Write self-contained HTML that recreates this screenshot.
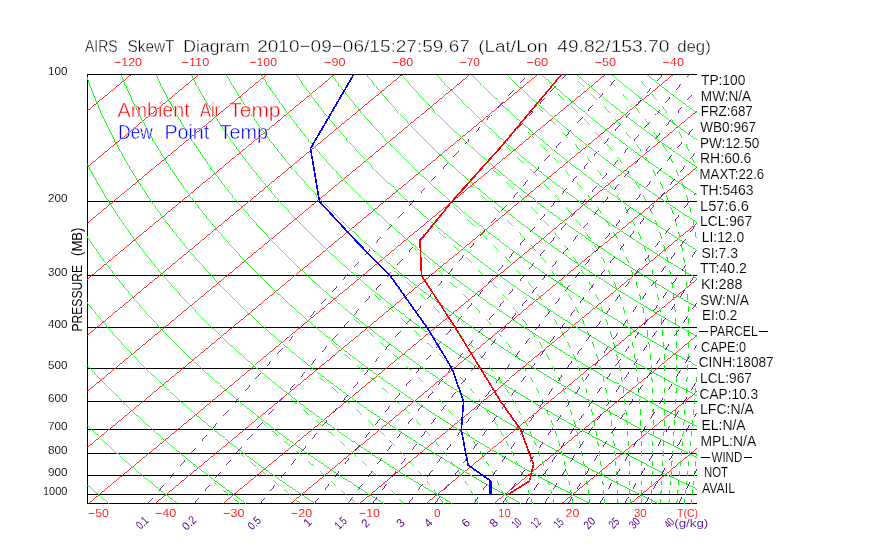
<!DOCTYPE html><html><head><meta charset="utf-8"><style>html,body{margin:0;padding:0;background:#fff;overflow:hidden}svg{display:block;will-change:transform}</style></head><body><svg width="870" height="560" viewBox="0 0 870 560"><defs><clipPath id="c"><rect x="87" y="74" width="610" height="430"/></clipPath></defs><g fill="none" stroke-width="1" shape-rendering="crispEdges"><g stroke="#000"><line x1="87" y1="74.5" x2="697" y2="74.5"/><line x1="87" y1="201.5" x2="697" y2="201.5"/><line x1="87" y1="275.5" x2="697" y2="275.5"/><line x1="87" y1="327.5" x2="697" y2="327.5"/><line x1="87" y1="368.5" x2="697" y2="368.5"/><line x1="87" y1="401.5" x2="697" y2="401.5"/><line x1="87" y1="429.5" x2="697" y2="429.5"/><line x1="87" y1="453.5" x2="697" y2="453.5"/><line x1="87" y1="475.5" x2="697" y2="475.5"/><line x1="87" y1="494.5" x2="697" y2="494.5"/><line x1="87" y1="503.5" x2="697" y2="503.5"/><line x1="87.5" y1="74" x2="87.5" y2="504"/></g><g clip-path="url(#c)"><g stroke="#ff0000"><line stroke-width="0.8" x1="-454.5" y1="503.5" x2="63.52" y2="74.5"/><line stroke-width="0.8" x1="-386.75" y1="503.5" x2="131.27" y2="74.5"/><line stroke-width="0.8" x1="-319" y1="503.5" x2="199.02" y2="74.5"/><line stroke-width="0.8" x1="-251.25" y1="503.5" x2="266.77" y2="74.5"/><line stroke-width="0.8" x1="-183.5" y1="503.5" x2="334.52" y2="74.5"/><line stroke-width="0.8" x1="-115.75" y1="503.5" x2="402.27" y2="74.5"/><line stroke-width="0.8" x1="-48" y1="503.5" x2="470.02" y2="74.5"/><line stroke-width="0.8" x1="19.75" y1="503.5" x2="537.77" y2="74.5"/><line stroke-width="0.8" x1="87.5" y1="503.5" x2="605.52" y2="74.5"/><line stroke-width="0.8" x1="155.25" y1="503.5" x2="673.27" y2="74.5"/><line stroke-width="0.8" x1="223" y1="503.5" x2="741.02" y2="74.5"/><line stroke-width="0.8" x1="290.75" y1="503.5" x2="808.77" y2="74.5"/><line stroke-width="0.8" x1="358.5" y1="503.5" x2="876.52" y2="74.5"/><line stroke-width="0.8" x1="426.25" y1="503.5" x2="944.27" y2="74.5"/><line stroke-width="0.8" x1="494" y1="503.5" x2="1012.02" y2="74.5"/><line stroke-width="0.8" x1="561.75" y1="503.5" x2="1079.77" y2="74.5"/><line stroke-width="0.8" x1="629.5" y1="503.5" x2="1147.52" y2="74.5"/><line stroke-width="0.8" x1="697.25" y1="503.5" x2="1215.27" y2="74.5"/></g><g stroke="#00ff00"><polyline stroke-width="0.78" points="108.76,503.48 106.19,501.33 103.64,499.18 101.1,497.02 98.58,494.87 96.08,492.71 93.6,490.56 91.13,488.41 88.68,486.25 86.24,484.1 83.83,481.95 81.43,479.79 79.05,477.64 76.68,475.48 74.33,473.33 72,471.18 69.68,469.02 67.38,466.87 65.1,464.72"/><polyline stroke-width="0.73" points="65.1,464.72 62.83,462.56 60.58,460.41 58.35,458.25 56.13,456.1 53.93,453.95 51.75,451.79 49.58,449.64 47.43,447.49 45.29,445.33 43.17,443.18 41.07,441.02 38.98,438.87 36.9,436.72 34.85,434.56"/><polyline stroke-width="0.78" points="34.85,434.56 32.81,432.41 30.78,430.26 28.77,428.1 26.78,425.95 24.8,423.79 22.83,421.64 20.89,419.49 18.95,417.33 17.04,415.18 15.13,413.03 13.25,410.87 11.37,408.72 9.52,406.56 7.68,404.41 5.85,402.26 4.04,400.1 2.24,397.95 0.46,395.8 -1.31,393.64"/><polyline stroke-width="0.83" points="-1.31,393.64 -3.06,391.49 -4.8,389.33 -6.52,387.18 -8.23,385.03 -9.93,382.87 -11.61,380.72 -13.27,378.57 -14.92,376.41 -16.56,374.26 -18.18,372.1 -19.79,369.95 -21.38,367.8 -22.96,365.64 -24.53,363.49 -26.08,361.34 -27.62,359.18 -29.14,357.03 -30.65,354.87 -32.15,352.72 -33.63,350.57"/><polyline stroke-width="0.88" points="-33.63,350.57 -35.1,348.41 -36.55,346.26 -37.99,344.11 -39.42,341.95 -40.83,339.8 -42.23,337.64 -43.62,335.49 -44.99,333.34 -46.35,331.18 -47.7,329.03 -49.03,326.88 -50.35,324.72 -51.66,322.57 -52.95,320.41 -54.23,318.26 -55.5,316.11 -56.75,313.95 -57.99,311.8 -59.22,309.64 -60.43,307.49 -61.64,305.34"/><polyline stroke-width="0.93" points="-61.64,305.34 -62.83,303.18 -64,301.03 -65.17,298.88 -66.32,296.72 -67.46,294.57 -68.58,292.41 -69.69,290.26 -70.8,288.11 -71.88,285.95 -72.96,283.8 -74.02,281.65 -75.07,279.49 -76.11,277.34 -77.14,275.18 -78.15,273.03 -79.16,270.88 -80.15,268.72 -81.12,266.57 -82.09,264.42 -83.04,262.26 -83.98,260.11 -84.91,257.95 -85.83,255.8 -86.74,253.65 -87.63,251.49"/><polyline stroke-width="0.98" points="-87.63,251.49 -88.51,249.34 -89.39,247.19 -90.24,245.03 -91.09,242.88 -91.93,240.72 -92.75,238.57 -93.56,236.42 -94.36,234.26 -95.15,232.11 -95.93,229.96 -96.7,227.8 -97.45,225.65 -98.2,223.49 -98.93,221.34 -99.65,219.19 -100.36,217.03 -101.06,214.88 -101.75,212.73 -102.43,210.57 -103.09,208.42 -103.75,206.26 -104.39,204.11 -105.02,201.96 -105.64,199.8 -106.26,197.65 -106.86,195.5 -107.44,193.34 -108.02,191.19 -108.59,189.03 -109.15,186.88 -109.69,184.73 -110.23,182.57 -110.76,180.42 -111.27,178.27 -111.78,176.11 -112.27,173.96"/><polyline stroke-width="1.03" points="-112.27,173.96 -112.75,171.8 -113.23,169.65 -113.69,167.5 -114.14,165.34 -114.58,163.19 -115.01,161.04 -115.44,158.88 -115.85,156.73 -116.25,154.57 -116.64,152.42 -117.02,150.27 -117.39,148.11 -117.75,145.96 -118.1,143.81 -118.44,141.65 -118.77,139.5 -119.09,137.34 -119.41,135.19 -119.71,133.04 -120,130.88 -120.28,128.73 -120.55,126.58 -120.82,124.42 -121.07,122.27 -121.31,120.11 -121.54,117.96 -121.77,115.81 -121.98,113.65 -122.19,111.5 -122.38,109.35 -122.57,107.19 -122.75,105.04 -122.91,102.88 -123.07,100.73 -123.22,98.58 -123.36,96.42 -123.49,94.27 -123.61,92.12 -123.72,89.96 -123.82,87.81 -123.92,85.65 -124,83.5 -124.08,81.35 -124.14,79.19 -124.2,77.04 -124.25,74.88"/><polyline stroke-width="0.83" points="177.47,503.48 174.66,501.33 171.88,499.18 169.11,497.02 166.36,494.87 163.63,492.71 160.92,490.56 158.22,488.41 155.55,486.25 152.89,484.1 150.25,481.95"/><polyline stroke-width="0.78" points="150.25,481.95 147.62,479.79 145.02,477.64 142.43,475.48 139.86,473.33 137.3,471.18 134.77,469.02 132.25,466.87 129.75,464.72 127.26,462.56 124.8,460.41 122.35,458.25 119.91,456.1 117.5,453.95 115.1,451.79 112.72,449.64 110.35,447.49 108,445.33 105.67,443.18 103.35,441.02 101.06,438.87 98.77,436.72"/><polyline stroke-width="0.73" points="98.77,436.72 96.51,434.56 94.26,432.41 92.03,430.26 89.81,428.1 87.61,425.95 85.42,423.79 83.26,421.64 81.1,419.49 78.97,417.33 76.85,415.18 74.74,413.03 72.66,410.87 70.58,408.72 68.53,406.56"/><polyline stroke-width="0.78" points="68.53,406.56 66.49,404.41 64.46,402.26 62.45,400.1 60.46,397.95 58.48,395.8 56.52,393.64 54.57,391.49 52.64,389.33 50.72,387.18 48.82,385.03 46.93,382.87 45.06,380.72 43.2,378.57 41.36,376.41 39.53,374.26 37.72,372.1 35.93,369.95 34.14,367.8 32.38,365.64"/><polyline stroke-width="0.83" points="32.38,365.64 30.63,363.49 28.89,361.34 27.16,359.18 25.46,357.03 23.76,354.87 22.08,352.72 20.42,350.57 18.77,348.41 17.13,346.26 15.51,344.11 13.9,341.95 12.31,339.8 10.73,337.64 9.17,335.49 7.61,333.34 6.08,331.18 4.55,329.03 3.04,326.88 1.55,324.72 0.07,322.57"/><polyline stroke-width="0.88" points="0.07,322.57 -1.4,320.41 -2.85,318.26 -4.29,316.11 -5.72,313.95 -7.13,311.8 -8.53,309.64 -9.92,307.49 -11.29,305.34 -12.65,303.18 -14,301.03 -15.33,298.88 -16.65,296.72 -17.96,294.57 -19.25,292.41 -20.53,290.26 -21.79,288.11 -23.05,285.95 -24.29,283.8 -25.52,281.65 -26.73,279.49 -27.93,277.34"/><polyline stroke-width="0.93" points="-27.93,277.34 -29.12,275.18 -30.3,273.03 -31.46,270.88 -32.61,268.72 -33.75,266.57 -34.88,264.42 -35.99,262.26 -37.09,260.11 -38.18,257.95 -39.25,255.8 -40.32,253.65 -41.37,251.49 -42.41,249.34 -43.43,247.19 -44.45,245.03 -45.45,242.88 -46.44,240.72 -47.41,238.57 -48.38,236.42 -49.33,234.26 -50.27,232.11 -51.2,229.96 -52.12,227.8 -53.03,225.65 -53.92,223.49"/><polyline stroke-width="0.98" points="-53.92,223.49 -54.8,221.34 -55.67,219.19 -56.53,217.03 -57.38,214.88 -58.21,212.73 -59.04,210.57 -59.85,208.42 -60.65,206.26 -61.44,204.11 -62.22,201.96 -62.98,199.8 -63.74,197.65 -64.48,195.5 -65.21,193.34 -65.93,191.19 -66.64,189.03 -67.34,186.88 -68.03,184.73 -68.71,182.57 -69.37,180.42 -70.03,178.27 -70.67,176.11 -71.3,173.96 -71.92,171.8 -72.54,169.65 -73.14,167.5 -73.72,165.34 -74.3,163.19 -74.87,161.04 -75.43,158.88 -75.97,156.73 -76.51,154.57 -77.03,152.42 -77.55,150.27 -78.05,148.11 -78.55,145.96"/><polyline stroke-width="1.03" points="-78.55,145.96 -79.03,143.81 -79.5,141.65 -79.96,139.5 -80.42,137.34 -80.86,135.19 -81.29,133.04 -81.71,130.88 -82.12,128.73 -82.52,126.58 -82.91,124.42 -83.29,122.27 -83.66,120.11 -84.02,117.96 -84.38,115.81 -84.72,113.65 -85.05,111.5 -85.37,109.35 -85.68,107.19 -85.98,105.04 -86.27,102.88 -86.55,100.73 -86.82,98.58 -87.09,96.42 -87.34,94.27 -87.58,92.12 -87.81,89.96 -88.04,87.81 -88.25,85.65 -88.46,83.5 -88.65,81.35 -88.84,79.19 -89.01,77.04 -89.18,74.88"/><polyline stroke-width="0.83" points="246.17,503.48 243.13,501.33 240.12,499.18 237.12,497.02 234.14,494.87 231.18,492.71 228.24,490.56 225.32,488.41 222.42,486.25 219.53,484.1 216.67,481.95 213.82,479.79 210.99,477.64 208.18,475.48 205.39,473.33 202.61,471.18 199.85,469.02 197.12,466.87 194.4,464.72 191.69,462.56 189.01,460.41 186.34,458.25 183.69,456.1"/><polyline stroke-width="0.78" points="183.69,456.1 181.06,453.95 178.45,451.79 175.85,449.64 173.27,447.49 170.71,445.33 168.17,443.18 165.64,441.02 163.13,438.87 160.64,436.72 158.17,434.56 155.71,432.41 153.27,430.26 150.85,428.1 148.44,425.95 146.05,423.79 143.68,421.64 141.32,419.49 138.98,417.33 136.66,415.18 134.36,413.03 132.07,410.87 129.79,408.72"/><polyline stroke-width="0.73" points="129.79,408.72 127.54,406.56 125.3,404.41 123.07,402.26 120.87,400.1 118.68,397.95 116.5,395.8 114.34,393.64 112.2,391.49 110.07,389.33 107.96,387.18 105.87,385.03 103.79,382.87 101.72,380.72 99.68,378.57"/><polyline stroke-width="0.78" points="99.68,378.57 97.64,376.41 95.63,374.26 93.63,372.1 91.64,369.95 89.67,367.8 87.72,365.64 85.78,363.49 83.86,361.34 81.95,359.18 80.05,357.03 78.18,354.87 76.31,352.72 74.47,350.57 72.63,348.41 70.81,346.26 69.01,344.11 67.22,341.95 65.45,339.8 63.69,337.64"/><polyline stroke-width="0.83" points="63.69,337.64 61.95,335.49 60.22,333.34 58.5,331.18 56.8,329.03 55.12,326.88 53.45,324.72 51.79,322.57 50.15,320.41 48.52,318.26 46.91,316.11 45.31,313.95 43.72,311.8 42.15,309.64 40.59,307.49 39.05,305.34 37.52,303.18 36.01,301.03 34.51,298.88 33.02,296.72"/><polyline stroke-width="0.88" points="33.02,296.72 31.54,294.57 30.09,292.41 28.64,290.26 27.21,288.11 25.79,285.95 24.38,283.8 22.99,281.65 21.61,279.49 20.25,277.34 18.9,275.18 17.56,273.03 16.23,270.88 14.92,268.72 13.62,266.57 12.34,264.42 11.06,262.26 9.81,260.11 8.56,257.95 7.33,255.8 6.11,253.65 4.9,251.49 3.7,249.34"/><polyline stroke-width="0.93" points="3.7,249.34 2.52,247.19 1.35,245.03 0.2,242.88 -0.95,240.72 -2.08,238.57 -3.2,236.42 -4.3,234.26 -5.39,232.11 -6.48,229.96 -7.54,227.8 -8.6,225.65 -9.64,223.49 -10.68,221.34 -11.69,219.19 -12.7,217.03 -13.7,214.88 -14.68,212.73 -15.65,210.57 -16.61,208.42 -17.55,206.26 -18.49,204.11 -19.41,201.96 -20.32,199.8 -21.22,197.65 -22.11,195.5"/><polyline stroke-width="0.98" points="-22.11,195.5 -22.98,193.34 -23.85,191.19 -24.7,189.03 -25.54,186.88 -26.37,184.73 -27.18,182.57 -27.99,180.42 -28.78,178.27 -29.57,176.11 -30.34,173.96 -31.1,171.8 -31.85,169.65 -32.58,167.5 -33.31,165.34 -34.02,163.19 -34.73,161.04 -35.42,158.88 -36.1,156.73 -36.77,154.57 -37.43,152.42 -38.08,150.27 -38.71,148.11 -39.34,145.96 -39.96,143.81 -40.56,141.65 -41.15,139.5 -41.74,137.34 -42.31,135.19 -42.87,133.04 -43.42,130.88 -43.96,128.73 -44.49,126.58 -45.01,124.42 -45.52,122.27 -46.02,120.11"/><polyline stroke-width="1.03" points="-46.02,120.11 -46.5,117.96 -46.98,115.81 -47.45,113.65 -47.9,111.5 -48.35,109.35 -48.79,107.19 -49.21,105.04 -49.63,102.88 -50.03,100.73 -50.43,98.58 -50.81,96.42 -51.19,94.27 -51.55,92.12 -51.91,89.96 -52.25,87.81 -52.59,85.65 -52.91,83.5 -53.23,81.35 -53.53,79.19 -53.83,77.04 -54.11,74.88"/><polyline stroke-width="0.88" points="314.87,503.48 311.6,501.33 308.36,499.18 305.13,497.02 301.92,494.87 298.73,492.71 295.57,490.56 292.42,488.41"/><polyline stroke-width="0.83" points="292.42,488.41 289.29,486.25 286.18,484.1 283.09,481.95 280.01,479.79 276.96,477.64 273.93,475.48 270.91,473.33 267.92,471.18 264.94,469.02 261.98,466.87 259.04,464.72 256.12,462.56 253.22,460.41 250.34,458.25 247.47,456.1 244.63,453.95 241.8,451.79 238.99,449.64 236.2,447.49 233.42,445.33 230.67,443.18 227.93,441.02 225.21,438.87 222.51,436.72 219.83,434.56 217.16,432.41 214.52,430.26"/><polyline stroke-width="0.78" points="214.52,430.26 211.89,428.1 209.27,425.95 206.68,423.79 204.1,421.64 201.54,419.49 199,417.33 196.47,415.18 193.97,413.03 191.48,410.87 189,408.72 186.55,406.56 184.11,404.41 181.69,402.26 179.28,400.1 176.89,397.95 174.52,395.8 172.17,393.64 169.83,391.49 167.51,389.33 165.2,387.18 162.92,385.03 160.64,382.87"/><polyline stroke-width="0.73" points="160.64,382.87 158.39,380.72 156.15,378.57 153.93,376.41 151.72,374.26 149.53,372.1 147.36,369.95 145.2,367.8 143.06,365.64 140.93,363.49 138.82,361.34 136.73,359.18 134.65,357.03 132.59,354.87 130.54,352.72"/><polyline stroke-width="0.78" points="130.54,352.72 128.51,350.57 126.5,348.41 124.5,346.26 122.51,344.11 120.54,341.95 118.59,339.8 116.65,337.64 114.73,335.49 112.82,333.34 110.93,331.18 109.05,329.03 107.19,326.88 105.35,324.72 103.51,322.57 101.7,320.41 99.9,318.26 98.11,316.11 96.34,313.95 94.58,311.8"/><polyline stroke-width="0.83" points="94.58,311.8 92.84,309.64 91.11,307.49 89.4,305.34 87.7,303.18 86.01,301.03 84.34,298.88 82.69,296.72 81.05,294.57 79.42,292.41 77.81,290.26 76.21,288.11 74.62,285.95 73.05,283.8 71.5,281.65 69.96,279.49 68.43,277.34 66.91,275.18 65.41,273.03 63.93,270.88"/><polyline stroke-width="0.88" points="63.93,270.88 62.45,268.72 60.99,266.57 59.55,264.42 58.12,262.26 56.7,260.11 55.3,257.95 53.9,255.8 52.53,253.65 51.16,251.49 49.81,249.34 48.48,247.19 47.15,245.03 45.84,242.88 44.54,240.72 43.26,238.57 41.99,236.42 40.73,234.26 39.48,232.11 38.25,229.96 37.03,227.8 35.83,225.65 34.63,223.49"/><polyline stroke-width="0.93" points="34.63,223.49 33.45,221.34 32.28,219.19 31.13,217.03 29.99,214.88 28.86,212.73 27.74,210.57 26.63,208.42 25.54,206.26 24.46,204.11 23.39,201.96 22.34,199.8 21.3,197.65 20.27,195.5 19.25,193.34 18.24,191.19 17.25,189.03 16.27,186.88 15.3,184.73 14.34,182.57 13.39,180.42 12.46,178.27 11.54,176.11 10.63,173.96 9.73,171.8 8.84,169.65"/><polyline stroke-width="0.98" points="8.84,169.65 7.97,167.5 7.11,165.34 6.26,163.19 5.42,161.04 4.59,158.88 3.77,156.73 2.97,154.57 2.17,152.42 1.39,150.27 0.62,148.11 -0.14,145.96 -0.88,143.81 -1.62,141.65 -2.35,139.5 -3.06,137.34 -3.76,135.19 -4.45,133.04 -5.13,130.88 -5.8,128.73 -6.46,126.58 -7.11,124.42 -7.74,122.27 -8.37,120.11 -8.98,117.96 -9.59,115.81 -10.18,113.65 -10.76,111.5 -11.33,109.35 -11.9,107.19 -12.45,105.04 -12.98,102.88 -13.51,100.73 -14.03,98.58 -14.54,96.42 -15.04,94.27"/><polyline stroke-width="1.03" points="-15.04,94.27 -15.52,92.12 -16,89.96 -16.47,87.81 -16.92,85.65 -17.37,83.5 -17.8,81.35 -18.23,79.19 -18.64,77.04 -19.05,74.88"/><polyline stroke-width="0.88" points="383.57,503.48 380.07,501.33 376.6,499.18 373.14,497.02 369.7,494.87 366.28,492.71 362.89,490.56 359.51,488.41 356.16,486.25 352.82,484.1 349.5,481.95 346.21,479.79 342.93,477.64 339.68,475.48 336.44,473.33 333.22,471.18 330.03,469.02 326.85,466.87 323.69,464.72"/><polyline stroke-width="0.83" points="323.69,464.72 320.55,462.56 317.43,460.41 314.33,458.25 311.25,456.1 308.19,453.95 305.15,451.79 302.12,449.64 299.12,447.49 296.13,445.33 293.17,443.18 290.22,441.02 287.29,438.87 284.38,436.72 281.49,434.56 278.62,432.41 275.76,430.26 272.92,428.1 270.11,425.95 267.31,423.79 264.52,421.64 261.76,419.49 259.01,417.33 256.29,415.18 253.58,413.03 250.89,410.87 248.21,408.72 245.56,406.56"/><polyline stroke-width="0.78" points="245.56,406.56 242.92,404.41 240.3,402.26 237.7,400.1 235.11,397.95 232.54,395.8 229.99,393.64 227.46,391.49 224.94,389.33 222.45,387.18 219.96,385.03 217.5,382.87 215.05,380.72 212.62,378.57 210.21,376.41 207.81,374.26 205.44,372.1 203.07,369.95 200.73,367.8 198.4,365.64 196.09,363.49 193.79,361.34 191.51,359.18"/><polyline stroke-width="0.73" points="191.51,359.18 189.25,357.03 187,354.87 184.77,352.72 182.56,350.57 180.36,348.41 178.18,346.26 176.01,344.11 173.87,341.95 171.73,339.8 169.62,337.64 167.51,335.49 165.43,333.34 163.36,331.18 161.31,329.03"/><polyline stroke-width="0.78" points="161.31,329.03 159.27,326.88 157.24,324.72 155.24,322.57 153.25,320.41 151.27,318.26 149.31,316.11 147.37,313.95 145.44,311.8 143.52,309.64 141.62,307.49 139.74,305.34 137.87,303.18 136.02,301.03 134.18,298.88 132.35,296.72 130.55,294.57 128.75,292.41 126.97,290.26 125.21,288.11"/><polyline stroke-width="0.83" points="125.21,288.11 123.46,285.95 121.72,283.8 120,281.65 118.3,279.49 116.61,277.34 114.93,275.18 113.27,273.03 111.62,270.88 109.99,268.72 108.37,266.57 106.76,264.42 105.17,262.26 103.6,260.11 102.03,257.95 100.48,255.8 98.95,253.65 97.43,251.49 95.92,249.34 94.43,247.19 92.95,245.03"/><polyline stroke-width="0.88" points="92.95,245.03 91.49,242.88 90.03,240.72 88.6,238.57 87.17,236.42 85.76,234.26 84.36,232.11 82.98,229.96 81.61,227.8 80.25,225.65 78.91,223.49 77.58,221.34 76.26,219.19 74.96,217.03 73.67,214.88 72.39,212.73 71.13,210.57 69.88,208.42 68.64,206.26 67.41,204.11 66.2,201.96 65,199.8"/><polyline stroke-width="0.93" points="65,199.8 63.81,197.65 62.64,195.5 61.48,193.34 60.33,191.19 59.19,189.03 58.07,186.88 56.96,184.73 55.86,182.57 54.78,180.42 53.7,178.27 52.64,176.11 51.59,173.96 50.56,171.8 49.53,169.65 48.52,167.5 47.52,165.34 46.54,163.19 45.56,161.04 44.6,158.88 43.65,156.73 42.71,154.57 41.78,152.42 40.86,150.27 39.96,148.11 39.07,145.96"/><polyline stroke-width="0.98" points="39.07,145.96 38.19,143.81 37.32,141.65 36.46,139.5 35.62,137.34 34.79,135.19 33.96,133.04 33.15,130.88 32.36,128.73 31.57,126.58 30.79,124.42 30.03,122.27 29.28,120.11 28.54,117.96 27.8,115.81 27.09,113.65 26.38,111.5 25.68,109.35 25,107.19 24.32,105.04 23.66,102.88 23.01,100.73 22.36,98.58 21.73,96.42 21.11,94.27 20.51,92.12 19.91,89.96 19.32,87.81 18.74,85.65 18.18,83.5 17.62,81.35 17.08,79.19 16.55,77.04 16.02,74.88"/><polyline stroke-width="0.88" points="452.27,503.48 448.54,501.33 444.83,499.18 441.15,497.02 437.48,494.87 433.84,492.71 430.21,490.56 426.61,488.41 423.03,486.25 419.46,484.1 415.92,481.95 412.4,479.79 408.9,477.64 405.43,475.48 401.97,473.33 398.53,471.18 395.11,469.02 391.71,466.87 388.34,464.72 384.98,462.56 381.64,460.41 378.33,458.25 375.03,456.1 371.75,453.95 368.5,451.79 365.26,449.64 362.04,447.49 358.85,445.33 355.67,443.18 352.51,441.02"/><polyline stroke-width="0.83" points="352.51,441.02 349.37,438.87 346.25,436.72 343.15,434.56 340.07,432.41 337.01,430.26 333.96,428.1 330.94,425.95 327.93,423.79 324.95,421.64 321.98,419.49 319.03,417.33 316.1,415.18 313.19,413.03 310.3,410.87 307.42,408.72 304.57,406.56 301.73,404.41 298.91,402.26 296.11,400.1 293.33,397.95 290.56,395.8 287.82,393.64 285.09,391.49 282.38,389.33 279.69,387.18 277.01,385.03 274.36,382.87"/><polyline stroke-width="0.78" points="274.36,382.87 271.72,380.72 269.1,378.57 266.49,376.41 263.91,374.26 261.34,372.1 258.79,369.95 256.25,367.8 253.74,365.64 251.24,363.49 248.76,361.34 246.29,359.18 243.85,357.03 241.41,354.87 239,352.72 236.6,350.57 234.22,348.41 231.86,346.26 229.52,344.11 227.19,341.95 224.87,339.8 222.58,337.64 220.3,335.49"/><polyline stroke-width="0.73" points="220.3,335.49 218.03,333.34 215.79,331.18 213.56,329.03 211.34,326.88 209.14,324.72 206.96,322.57 204.8,320.41 202.65,318.26 200.51,316.11 198.4,313.95 196.29,311.8 194.21,309.64 192.14,307.49 190.08,305.34"/><polyline stroke-width="0.78" points="190.08,305.34 188.04,303.18 186.02,301.03 184.01,298.88 182.02,296.72 180.05,294.57 178.09,292.41 176.14,290.26 174.21,288.11 172.29,285.95 170.4,283.8 168.51,281.65 166.64,279.49 164.79,277.34 162.95,275.18 161.12,273.03 159.31,270.88 157.52,268.72 155.74,266.57 153.98,264.42"/><polyline stroke-width="0.83" points="153.98,264.42 152.23,262.26 150.49,260.11 148.77,257.95 147.06,255.8 145.37,253.65 143.69,251.49 142.03,249.34 140.38,247.19 138.75,245.03 137.13,242.88 135.52,240.72 133.93,238.57 132.36,236.42 130.79,234.26 129.24,232.11 127.71,229.96 126.19,227.8 124.68,225.65 123.19,223.49 121.71,221.34"/><polyline stroke-width="0.88" points="121.71,221.34 120.24,219.19 118.79,217.03 117.35,214.88 115.93,212.73 114.52,210.57 113.12,208.42 111.73,206.26 110.36,204.11 109.01,201.96 107.66,199.8 106.33,197.65 105.01,195.5 103.71,193.34 102.42,191.19 101.14,189.03 99.88,186.88 98.62,184.73 97.39,182.57 96.16,180.42 94.95,178.27 93.75,176.11"/><polyline stroke-width="0.93" points="93.75,176.11 92.56,173.96 91.39,171.8 90.22,169.65 89.07,167.5 87.94,165.34 86.81,163.19 85.7,161.04 84.6,158.88 83.52,156.73 82.45,154.57 81.38,152.42 80.33,150.27 79.3,148.11 78.27,145.96 77.26,143.81 76.26,141.65 75.27,139.5 74.3,137.34 73.33,135.19 72.38,133.04 71.44,130.88 70.52,128.73 69.6,126.58 68.7,124.42 67.8,122.27"/><polyline stroke-width="0.98" points="67.8,122.27 66.92,120.11 66.06,117.96 65.2,115.81 64.35,113.65 63.52,111.5 62.7,109.35 61.89,107.19 61.09,105.04 60.3,102.88 59.52,100.73 58.76,98.58 58.01,96.42 57.26,94.27 56.53,92.12 55.81,89.96 55.11,87.81 54.41,85.65 53.72,83.5 53.05,81.35 52.38,79.19 51.73,77.04 51.09,74.88"/><polyline stroke-width="0.93" points="520.98,503.48 517.01,501.33 513.07,499.18 509.16,497.02 505.26,494.87"/><polyline stroke-width="0.88" points="505.26,494.87 501.39,492.71 497.53,490.56 493.7,488.41 489.9,486.25 486.11,484.1 482.34,481.95 478.6,479.79 474.88,477.64 471.17,475.48 467.49,473.33 463.84,471.18 460.2,469.02 456.58,466.87 452.99,464.72 449.41,462.56 445.86,460.41 442.32,458.25 438.81,456.1 435.32,453.95 431.85,451.79 428.4,449.64 424.97,447.49 421.56,445.33 418.17,443.18 414.8,441.02 411.45,438.87 408.12,436.72 404.81,434.56 401.52,432.41 398.25,430.26 395,428.1 391.77,425.95 388.56,423.79 385.37,421.64 382.2,419.49 379.05,417.33"/><polyline stroke-width="0.83" points="379.05,417.33 375.91,415.18 372.8,413.03 369.71,410.87 366.63,408.72 363.58,406.56 360.54,404.41 357.52,402.26 354.53,400.1 351.55,397.95 348.59,395.8 345.64,393.64 342.72,391.49 339.82,389.33 336.93,387.18 334.06,385.03 331.21,382.87 328.38,380.72 325.57,378.57 322.78,376.41 320,374.26 317.24,372.1 314.5,369.95 311.78,367.8 309.08,365.64 306.39,363.49 303.72,361.34 301.07,359.18"/><polyline stroke-width="0.78" points="301.07,359.18 298.44,357.03 295.83,354.87 293.23,352.72 290.65,350.57 288.09,348.41 285.54,346.26 283.02,344.11 280.51,341.95 278.01,339.8 275.54,337.64 273.08,335.49 270.64,333.34 268.21,331.18 265.81,329.03 263.42,326.88 261.04,324.72 258.69,322.57 256.34,320.41 254.02,318.26 251.71,316.11 249.42,313.95 247.15,311.8"/><polyline stroke-width="0.73" points="247.15,311.8 244.89,309.64 242.65,307.49 240.43,305.34 238.22,303.18 236.03,301.03 233.85,298.88 231.69,296.72 229.55,294.57 227.42,292.41 225.31,290.26 223.21,288.11 221.13,285.95 219.07,283.8 217.02,281.65"/><polyline stroke-width="0.78" points="217.02,281.65 214.98,279.49 212.97,277.34 210.97,275.18 208.98,273.03 207.01,270.88 205.05,268.72 203.11,266.57 201.19,264.42 199.28,262.26 197.39,260.11 195.51,257.95 193.64,255.8 191.79,253.65 189.96,251.49 188.14,249.34 186.34,247.19 184.55,245.03 182.77,242.88 181.01,240.72"/><polyline stroke-width="0.83" points="181.01,240.72 179.27,238.57 177.54,236.42 175.82,234.26 174.12,232.11 172.44,229.96 170.76,227.8 169.11,225.65 167.46,223.49 165.83,221.34 164.22,219.19 162.62,217.03 161.03,214.88 159.46,212.73 157.9,210.57 156.36,208.42 154.83,206.26 153.31,204.11 151.81,201.96 150.32,199.8"/><polyline stroke-width="0.88" points="150.32,199.8 148.85,197.65 147.39,195.5 145.94,193.34 144.51,191.19 143.09,189.03 141.68,186.88 140.29,184.73 138.91,182.57 137.54,180.42 136.19,178.27 134.85,176.11 133.53,173.96 132.21,171.8 130.91,169.65 129.63,167.5 128.35,165.34 127.09,163.19 125.85,161.04 124.61,158.88 123.39,156.73 122.18,154.57 120.99,152.42"/><polyline stroke-width="0.93" points="120.99,152.42 119.81,150.27 118.64,148.11 117.48,145.96 116.33,143.81 115.2,141.65 114.08,139.5 112.98,137.34 111.88,135.19 110.8,133.04 109.73,130.88 108.68,128.73 107.63,126.58 106.6,124.42 105.58,122.27 104.57,120.11 103.58,117.96 102.59,115.81 101.62,113.65 100.66,111.5 99.71,109.35 98.78,107.19 97.86,105.04 96.94,102.88 96.04,100.73 95.16,98.58"/><polyline stroke-width="0.98" points="95.16,98.58 94.28,96.42 93.42,94.27 92.56,92.12 91.72,89.96 90.89,87.81 90.07,85.65 89.27,83.5 88.47,81.35 87.69,79.19 86.92,77.04 86.16,74.88"/><polyline stroke-width="0.93" points="589.68,503.48 585.48,501.33 581.31,499.18 577.17,497.02 573.04,494.87 568.94,492.71 564.86,490.56 560.8,488.41 556.76,486.25 552.75,484.1 548.76,481.95 544.79,479.79 540.85,477.64 536.92,475.48 533.02,473.33"/><polyline stroke-width="0.88" points="533.02,473.33 529.14,471.18 525.28,469.02 521.45,466.87 517.63,464.72 513.84,462.56 510.07,460.41 506.32,458.25 502.59,456.1 498.88,453.95 495.2,451.79 491.53,449.64 487.89,447.49 484.27,445.33 480.67,443.18 477.09,441.02 473.53,438.87 469.99,436.72 466.47,434.56 462.97,432.41 459.49,430.26 456.04,428.1 452.6,425.95 449.19,423.79 445.79,421.64 442.42,419.49 439.06,417.33 435.73,415.18 432.41,413.03 429.12,410.87 425.84,408.72 422.59,406.56 419.35,404.41 416.14,402.26 412.94,400.1 409.76,397.95 406.61,395.8"/><polyline stroke-width="0.83" points="406.61,395.8 403.47,393.64 400.35,391.49 397.25,389.33 394.17,387.18 391.11,385.03 388.07,382.87 385.05,380.72 382.04,378.57 379.06,376.41 376.09,374.26 373.15,372.1 370.22,369.95 367.31,367.8 364.42,365.64 361.55,363.49 358.69,361.34 355.86,359.18 353.04,357.03 350.24,354.87 347.46,352.72 344.7,350.57 341.95,348.41 339.23,346.26 336.52,344.11 333.83,341.95 331.15,339.8 328.5,337.64"/><polyline stroke-width="0.78" points="328.5,337.64 325.86,335.49 323.24,333.34 320.64,331.18 318.06,329.03 315.49,326.88 312.94,324.72 310.41,322.57 307.89,320.41 305.4,318.26 302.92,316.11 300.45,313.95 298.01,311.8 295.58,309.64 293.17,307.49 290.77,305.34 288.39,303.18 286.03,301.03 283.69,298.88 281.36,296.72 279.05,294.57 276.75,292.41 274.47,290.26"/><polyline stroke-width="0.73" points="274.47,290.26 272.21,288.11 269.97,285.95 267.74,283.8 265.52,281.65 263.33,279.49 261.15,277.34 258.98,275.18 256.83,273.03 254.7,270.88 252.59,268.72 250.49,266.57 248.4,264.42 246.33,262.26 244.28,260.11"/><polyline stroke-width="0.78" points="244.28,260.11 242.24,257.95 240.22,255.8 238.22,253.65 236.22,251.49 234.25,249.34 232.29,247.19 230.35,245.03 228.42,242.88 226.5,240.72 224.61,238.57 222.72,236.42 220.85,234.26 219,232.11 217.16,229.96 215.34,227.8 213.53,225.65 211.74,223.49 209.96,221.34 208.2,219.19"/><polyline stroke-width="0.83" points="208.2,219.19 206.45,217.03 204.72,214.88 203,212.73 201.29,210.57 199.6,208.42 197.93,206.26 196.26,204.11 194.62,201.96 192.98,199.8 191.37,197.65 189.76,195.5 188.17,193.34 186.6,191.19 185.03,189.03 183.49,186.88 181.95,184.73 180.43,182.57 178.93,180.42 177.43,178.27 175.96,176.11"/><polyline stroke-width="0.88" points="175.96,176.11 174.49,173.96 173.04,171.8 171.6,169.65 170.18,167.5 168.77,165.34 167.37,163.19 165.99,161.04 164.62,158.88 163.26,156.73 161.92,154.57 160.59,152.42 159.28,150.27 157.97,148.11 156.68,145.96 155.41,143.81 154.14,141.65 152.89,139.5 151.66,137.34 150.43,135.19 149.22,133.04 148.02,130.88"/><polyline stroke-width="0.93" points="148.02,130.88 146.83,128.73 145.66,126.58 144.5,124.42 143.35,122.27 142.22,120.11 141.1,117.96 139.98,115.81 138.89,113.65 137.8,111.5 136.73,109.35 135.67,107.19 134.62,105.04 133.59,102.88 132.56,100.73 131.55,98.58 130.55,96.42 129.57,94.27 128.59,92.12 127.63,89.96 126.68,87.81 125.74,85.65 124.81,83.5 123.9,81.35 123,79.19 122.11,77.04"/><polyline stroke-width="0.98" points="122.11,77.04 121.23,74.88"/><polyline stroke-width="0.93" points="658.38,503.48 653.95,501.33 649.55,499.18 645.17,497.02 640.82,494.87 636.49,492.71 632.18,490.56 627.9,488.41 623.63,486.25 619.4,484.1 615.18,481.95 610.99,479.79 606.82,477.64 602.67,475.48 598.55,473.33 594.45,471.18 590.37,469.02 586.31,466.87 582.28,464.72 578.27,462.56 574.28,460.41 570.31,458.25 566.37,456.1 562.45,453.95 558.55,451.79"/><polyline stroke-width="0.88" points="558.55,451.79 554.67,449.64 550.81,447.49 546.98,445.33 543.17,443.18 539.37,441.02 535.6,438.87 531.86,436.72 528.13,434.56 524.42,432.41 520.74,430.26 517.08,428.1 513.43,425.95 509.81,423.79 506.21,421.64 502.64,419.49 499.08,417.33 495.54,415.18 492.02,413.03 488.53,410.87 485.05,408.72 481.6,406.56 478.16,404.41 474.75,402.26 471.35,400.1 467.98,397.95 464.63,395.8 461.29,393.64 457.98,391.49 454.69,389.33 451.41,387.18 448.16,385.03 444.93,382.87 441.71,380.72 438.52,378.57 435.34,376.41 432.19,374.26"/><polyline stroke-width="0.83" points="432.19,374.26 429.05,372.1 425.93,369.95 422.84,367.8 419.76,365.64 416.7,363.49 413.66,361.34 410.64,359.18 407.64,357.03 404.65,354.87 401.69,352.72 398.74,350.57 395.82,348.41 392.91,346.26 390.02,344.11 387.15,341.95 384.3,339.8 381.46,337.64 378.65,335.49 375.85,333.34 373.07,331.18 370.31,329.03 367.56,326.88 364.84,324.72 362.13,322.57 359.44,320.41 356.77,318.26 354.12,316.11"/><polyline stroke-width="0.78" points="354.12,316.11 351.48,313.95 348.86,311.8 346.26,309.64 343.68,307.49 341.11,305.34 338.57,303.18 336.04,301.03 333.52,298.88 331.03,296.72 328.55,294.57 326.09,292.41 323.64,290.26 321.21,288.11 318.8,285.95 316.41,283.8 314.03,281.65 311.67,279.49 309.33,277.34 307,275.18 304.69,273.03 302.4,270.88 300.12,268.72"/><polyline stroke-width="0.73" points="300.12,268.72 297.86,266.57 295.61,264.42 293.39,262.26 291.18,260.11 288.98,257.95 286.8,255.8 284.64,253.65 282.49,251.49 280.36,249.34 278.24,247.19 276.15,245.03 274.06,242.88 271.99,240.72 269.94,238.57"/><polyline stroke-width="0.78" points="269.94,238.57 267.91,236.42 265.89,234.26 263.88,232.11 261.89,229.96 259.92,227.8 257.96,225.65 256.02,223.49 254.09,221.34 252.18,219.19 250.28,217.03 248.4,214.88 246.53,212.73 244.68,210.57 242.84,208.42 241.02,206.26 239.21,204.11 237.42,201.96 235.64,199.8 233.88,197.65"/><polyline stroke-width="0.83" points="233.88,197.65 232.13,195.5 230.4,193.34 228.68,191.19 226.98,189.03 225.29,186.88 223.62,184.73 221.96,182.57 220.31,180.42 218.68,178.27 217.06,176.11 215.46,173.96 213.87,171.8 212.29,169.65 210.73,167.5 209.19,165.34 207.65,163.19 206.13,161.04 204.63,158.88 203.14,156.73 201.66,154.57"/><polyline stroke-width="0.88" points="201.66,154.57 200.2,152.42 198.75,150.27 197.31,148.11 195.89,145.96 194.48,143.81 193.08,141.65 191.7,139.5 190.33,137.34 188.98,135.19 187.64,133.04 186.31,130.88 184.99,128.73 183.69,126.58 182.4,124.42 181.13,122.27 179.86,120.11 178.61,117.96 177.38,115.81 176.15,113.65 174.94,111.5 173.75,109.35"/><polyline stroke-width="0.93" points="173.75,109.35 172.56,107.19 171.39,105.04 170.23,102.88 169.08,100.73 167.95,98.58 166.83,96.42 165.72,94.27 164.62,92.12 163.54,89.96 162.46,87.81 161.41,85.65 160.36,83.5 159.32,81.35 158.3,79.19 157.29,77.04 156.29,74.88"/><polyline stroke-width="0.93" points="727.08,503.48 722.42,501.33 717.79,499.18 713.18,497.02 708.6,494.87 704.04,492.71 699.5,490.56 694.99,488.41 690.5,486.25 686.04,484.1 681.6,481.95 677.18,479.79 672.79,477.64 668.42,475.48 664.08,473.33 659.75,471.18 655.46,469.02 651.18,466.87 646.93,464.72 642.7,462.56 638.49,460.41 634.31,458.25 630.15,456.1 626.01,453.95 621.9,451.79 617.81,449.64 613.74,447.49 609.69,445.33 605.66,443.18 601.66,441.02 597.68,438.87 593.73,436.72 589.79,434.56 585.88,432.41"/><polyline stroke-width="0.88" points="585.88,432.41 581.98,430.26 578.11,428.1 574.27,425.95 570.44,423.79 566.64,421.64 562.85,419.49 559.09,417.33 555.35,415.18 551.63,413.03 547.94,410.87 544.26,408.72 540.61,406.56 536.97,404.41 533.36,402.26 529.77,400.1 526.2,397.95 522.65,395.8 519.12,393.64 515.61,391.49 512.12,389.33 508.66,387.18 505.21,385.03 501.78,382.87 498.38,380.72 494.99,378.57 491.63,376.41 488.28,374.26 484.96,372.1 481.65,369.95 478.36,367.8 475.1,365.64 471.85,363.49 468.63,361.34 465.42,359.18 462.23,357.03 459.07,354.87 455.92,352.72"/><polyline stroke-width="0.83" points="455.92,352.72 452.79,350.57 449.68,348.41 446.59,346.26 443.52,344.11 440.47,341.95 437.44,339.8 434.42,337.64 431.43,335.49 428.45,333.34 425.5,331.18 422.56,329.03 419.64,326.88 416.74,324.72 413.86,322.57 410.99,320.41 408.15,318.26 405.32,316.11 402.51,313.95 399.72,311.8 396.95,309.64 394.19,307.49 391.46,305.34 388.74,303.18 386.04,301.03 383.36,298.88 380.69,296.72 378.05,294.57"/><polyline stroke-width="0.78" points="378.05,294.57 375.42,292.41 372.81,290.26 370.21,288.11 367.64,285.95 365.08,283.8 362.54,281.65 360.01,279.49 357.51,277.34 355.02,275.18 352.55,273.03 350.09,270.88 347.65,268.72 345.23,266.57 342.83,264.42 340.44,262.26 338.07,260.11 335.72,257.95 333.38,255.8 331.06,253.65 328.76,251.49 326.47,249.34 324.2,247.19"/><polyline stroke-width="0.73" points="324.2,247.19 321.94,245.03 319.71,242.88 317.48,240.72 315.28,238.57 313.09,236.42 310.92,234.26 308.76,232.11 306.62,229.96 304.5,227.8 302.39,225.65 300.29,223.49 298.22,221.34 296.16,219.19"/><polyline stroke-width="0.78" points="296.16,219.19 294.11,217.03 292.08,214.88 290.07,212.73 288.07,210.57 286.08,208.42 284.12,206.26 282.16,204.11 280.23,201.96 278.31,199.8 276.4,197.65 274.51,195.5 272.63,193.34 270.77,191.19 268.93,189.03 267.1,186.88 265.28,184.73 263.48,182.57 261.69,180.42 259.92,178.27 258.16,176.11"/><polyline stroke-width="0.83" points="258.16,176.11 256.42,173.96 254.7,171.8 252.98,169.65 251.28,167.5 249.6,165.34 247.93,163.19 246.28,161.04 244.64,158.88 243.01,156.73 241.4,154.57 239.8,152.42 238.22,150.27 236.65,148.11 235.09,145.96 233.55,143.81 232.03,141.65 230.51,139.5 229.01,137.34 227.53,135.19"/><polyline stroke-width="0.88" points="227.53,135.19 226.06,133.04 224.6,130.88 223.15,128.73 221.72,126.58 220.31,124.42 218.9,122.27 217.51,120.11 216.13,117.96 214.77,115.81 213.42,113.65 212.09,111.5 210.76,109.35 209.45,107.19 208.16,105.04 206.87,102.88 205.6,100.73 204.34,98.58 203.1,96.42 201.87,94.27 200.65,92.12 199.44,89.96 198.25,87.81"/><polyline stroke-width="0.93" points="198.25,87.81 197.07,85.65 195.9,83.5 194.75,81.35 193.61,79.19 192.48,77.04 191.36,74.88"/><polyline stroke-width="0.93" points="795.78,503.48 790.89,501.33 786.03,499.18 781.19,497.02 776.38,494.87 771.59,492.71 766.83,490.56 762.09,488.41 757.37,486.25 752.68,484.1 748.02,481.95 743.38,479.79 738.76,477.64 734.17,475.48 729.6,473.33 725.06,471.18 720.54,469.02 716.05,466.87 711.58,464.72 707.13,462.56 702.71,460.41 698.31,458.25 693.93,456.1 689.58,453.95 685.25,451.79 680.94,449.64 676.66,447.49 672.4,445.33 668.16,443.18 663.95,441.02 659.76,438.87 655.59,436.72 651.45,434.56 647.33,432.41 643.23,430.26 639.15,428.1 635.1,425.95 631.07,423.79 627.06,421.64 623.07,419.49 619.11,417.33 615.17,415.18 611.25,413.03 607.35,410.87"/><polyline stroke-width="0.88" points="607.35,410.87 603.47,408.72 599.62,406.56 595.78,404.41 591.97,402.26 588.18,400.1 584.42,397.95 580.67,395.8 576.95,393.64 573.24,391.49 569.56,389.33 565.9,387.18 562.26,385.03 558.64,382.87 555.04,380.72 551.47,378.57 547.91,376.41 544.37,374.26 540.86,372.1 537.37,369.95 533.89,367.8 530.44,365.64 527.01,363.49 523.59,361.34 520.2,359.18 516.83,357.03 513.48,354.87 510.15,352.72 506.84,350.57 503.55,348.41 500.27,346.26 497.02,344.11 493.79,341.95 490.58,339.8 487.38,337.64 484.21,335.49 481.06,333.34"/><polyline stroke-width="0.83" points="481.06,333.34 477.92,331.18 474.81,329.03 471.71,326.88 468.64,324.72 465.58,322.57 462.54,320.41 459.52,318.26 456.52,316.11 453.54,313.95 450.58,311.8 447.63,309.64 444.71,307.49 441.8,305.34 438.91,303.18 436.05,301.03 433.19,298.88 430.36,296.72 427.55,294.57 424.75,292.41 421.97,290.26 419.21,288.11 416.47,285.95 413.75,283.8 411.04,281.65 408.36,279.49 405.69,277.34 403.04,275.18"/><polyline stroke-width="0.78" points="403.04,275.18 400.4,273.03 397.78,270.88 395.19,268.72 392.6,266.57 390.04,264.42 387.49,262.26 384.96,260.11 382.45,257.95 379.96,255.8 377.48,253.65 375.02,251.49 372.58,249.34 370.15,247.19 367.74,245.03 365.35,242.88 362.97,240.72 360.62,238.57 358.27,236.42 355.95,234.26 353.64,232.11 351.35,229.96 349.07,227.8"/><polyline stroke-width="0.73" points="349.07,227.8 346.81,225.65 344.57,223.49 342.34,221.34 340.13,219.19 337.94,217.03 335.76,214.88 333.6,212.73 331.46,210.57 329.33,208.42 327.21,206.26 325.11,204.11 323.03,201.96 320.97,199.8 318.92,197.65"/><polyline stroke-width="0.78" points="318.92,197.65 316.88,195.5 314.86,193.34 312.86,191.19 310.87,189.03 308.9,186.88 306.94,184.73 305,182.57 303.08,180.42 301.16,178.27 299.27,176.11 297.39,173.96 295.52,171.8 293.67,169.65 291.84,167.5 290.02,165.34 288.21,163.19 286.42,161.04 284.65,158.88 282.88,156.73"/><polyline stroke-width="0.83" points="282.88,156.73 281.14,154.57 279.41,152.42 277.69,150.27 275.99,148.11 274.3,145.96 272.63,143.81 270.97,141.65 269.32,139.5 267.69,137.34 266.08,135.19 264.47,133.04 262.89,130.88 261.31,128.73 259.75,126.58 258.21,124.42 256.68,122.27 255.16,120.11 253.65,117.96 252.17,115.81 250.69,113.65"/><polyline stroke-width="0.88" points="250.69,113.65 249.23,111.5 247.78,109.35 246.34,107.19 244.92,105.04 243.51,102.88 242.12,100.73 240.74,98.58 239.37,96.42 238.02,94.27 236.68,92.12 235.35,89.96 234.04,87.81 232.74,85.65 231.45,83.5 230.17,81.35 228.91,79.19 227.66,77.04 226.43,74.88"/><polyline stroke-width="0.93" points="864.49,503.48 859.37,501.33 854.27,499.18 849.2,497.02 844.16,494.87 839.14,492.71 834.15,490.56 829.18,488.41 824.24,486.25 819.33,484.1 814.44,481.95 809.57,479.79 804.73,477.64 799.92,475.48 795.13,473.33 790.37,471.18 785.63,469.02 780.91,466.87 776.22,464.72 771.56,462.56 766.92,460.41 762.3,458.25 757.71,456.1 753.14,453.95 748.6,451.79 744.08,449.64 739.58,447.49 735.11,445.33 730.66,443.18 726.24,441.02 721.84,438.87 717.46,436.72 713.11,434.56 708.78,432.41 704.47,430.26 700.19,428.1 695.93,425.95 691.7,423.79 687.48,421.64 683.29,419.49 679.12,417.33 674.98,415.18 670.86,413.03 666.76,410.87 662.68,408.72 658.63,406.56 654.6,404.41 650.59,402.26 646.6,400.1 642.63,397.95 638.69,395.8 634.77,393.64 630.87,391.49"/><polyline stroke-width="0.88" points="630.87,391.49 627,389.33 623.14,387.18 619.31,385.03 615.5,382.87 611.71,380.72 607.94,378.57 604.19,376.41 600.47,374.26 596.76,372.1 593.08,369.95 589.42,367.8 585.78,365.64 582.16,363.49 578.56,361.34 574.98,359.18 571.43,357.03 567.89,354.87 564.38,352.72 560.88,350.57 557.41,348.41 553.96,346.26 550.52,344.11 547.11,341.95 543.72,339.8 540.35,337.64 536.99,335.49 533.66,333.34 530.35,331.18 527.06,329.03 523.79,326.88 520.54,324.72 517.3,322.57 514.09,320.41 510.9,318.26 507.72,316.11 504.57,313.95"/><polyline stroke-width="0.83" points="504.57,313.95 501.43,311.8 498.32,309.64 495.22,307.49 492.15,305.34 489.09,303.18 486.05,301.03 483.03,298.88 480.03,296.72 477.05,294.57 474.09,292.41 471.14,290.26 468.22,288.11 465.31,285.95 462.42,283.8 459.55,281.65 456.7,279.49 453.87,277.34 451.05,275.18 448.26,273.03 445.48,270.88 442.72,268.72 439.98,266.57 437.25,264.42 434.55,262.26 431.86,260.11 429.19,257.95 426.54,255.8"/><polyline stroke-width="0.78" points="426.54,255.8 423.9,253.65 421.29,251.49 418.69,249.34 416.11,247.19 413.54,245.03 410.99,242.88 408.46,240.72 405.95,238.57 403.46,236.42 400.98,234.26 398.52,232.11 396.08,229.96 393.65,227.8 391.24,225.65 388.85,223.49 386.47,221.34 384.11,219.19 381.77,217.03 379.45,214.88 377.14,212.73 374.84,210.57 372.57,208.42"/><polyline stroke-width="0.73" points="372.57,208.42 370.31,206.26 368.07,204.11 365.84,201.96 363.63,199.8 361.43,197.65 359.26,195.5 357.09,193.34 354.95,191.19 352.82,189.03 350.7,186.88 348.61,184.73 346.52,182.57 344.46,180.42 342.41,178.27"/><polyline stroke-width="0.78" points="342.41,178.27 340.37,176.11 338.35,173.96 336.35,171.8 334.36,169.65 332.39,167.5 330.43,165.34 328.49,163.19 326.56,161.04 324.65,158.88 322.76,156.73 320.88,154.57 319.01,152.42 317.16,150.27 315.32,148.11 313.5,145.96 311.7,143.81 309.91,141.65 308.13,139.5 306.37,137.34"/><polyline stroke-width="0.83" points="306.37,137.34 304.62,135.19 302.89,133.04 301.17,130.88 299.47,128.73 297.78,126.58 296.11,124.42 294.45,122.27 292.81,120.11 291.17,117.96 289.56,115.81 287.96,113.65 286.37,111.5 284.79,109.35 283.23,107.19 281.69,105.04 280.16,102.88 278.64,100.73 277.14,98.58 275.65,96.42 274.17,94.27"/><polyline stroke-width="0.88" points="274.17,94.27 272.71,92.12 271.26,89.96 269.82,87.81 268.4,85.65 266.99,83.5 265.6,81.35 264.22,79.19 262.85,77.04 261.5,74.88"/><polyline stroke-width="0.98" points="933.19,503.48 927.84,501.33 922.51,499.18 917.21,497.02 911.94,494.87 906.69,492.71"/><polyline stroke-width="0.93" points="906.69,492.71 901.47,490.56 896.28,488.41 891.11,486.25 885.97,484.1 880.86,481.95 875.77,479.79 870.71,477.64 865.67,475.48 860.66,473.33 855.67,471.18 850.71,469.02 845.78,466.87 840.87,464.72 835.99,462.56 831.13,460.41 826.3,458.25 821.49,456.1 816.71,453.95 811.95,451.79 807.21,449.64 802.51,447.49 797.82,445.33 793.16,443.18 788.53,441.02 783.92,438.87 779.33,436.72 774.77,434.56 770.23,432.41 765.72,430.26 761.23,428.1 756.76,425.95 752.32,423.79 747.9,421.64 743.51,419.49 739.14,417.33 734.79,415.18 730.47,413.03 726.17,410.87 721.89,408.72 717.64,406.56 713.41,404.41 709.2,402.26 705.01,400.1 700.85,397.95 696.71,395.8 692.6,393.64 688.5,391.49 684.43,389.33 680.38,387.18 676.36,385.03 672.35,382.87 668.37,380.72 664.41,378.57 660.48,376.41 656.56,374.26 652.67,372.1"/><polyline stroke-width="0.88" points="652.67,372.1 648.8,369.95 644.95,367.8 641.12,365.64 637.31,363.49 633.53,361.34 629.77,359.18 626.03,357.03 622.31,354.87 618.61,352.72 614.93,350.57 611.27,348.41 607.64,346.26 604.02,344.11 600.43,341.95 596.86,339.8 593.31,337.64 589.78,335.49 586.27,333.34 582.78,331.18 579.31,329.03 575.86,326.88 572.43,324.72 569.03,322.57 565.64,320.41 562.27,318.26 558.92,316.11 555.6,313.95 552.29,311.8 549,309.64 545.74,307.49 542.49,305.34 539.26,303.18 536.05,301.03 532.87,298.88 529.7,296.72 526.55,294.57"/><polyline stroke-width="0.83" points="526.55,294.57 523.42,292.41 520.31,290.26 517.22,288.11 514.15,285.95 511.09,283.8 508.06,281.65 505.04,279.49 502.05,277.34 499.07,275.18 496.11,273.03 493.17,270.88 490.25,268.72 487.35,266.57 484.47,264.42 481.6,262.26 478.75,260.11 475.93,257.95 473.12,255.8 470.33,253.65 467.55,251.49 464.8,249.34 462.06,247.19 459.34,245.03 456.64,242.88 453.96,240.72 451.29,238.57 448.64,236.42"/><polyline stroke-width="0.78" points="448.64,236.42 446.01,234.26 443.4,232.11 440.8,229.96 438.23,227.8 435.67,225.65 433.12,223.49 430.6,221.34 428.09,219.19 425.6,217.03 423.13,214.88 420.67,212.73 418.23,210.57 415.81,208.42 413.4,206.26 411.02,204.11 408.64,201.96 406.29,199.8 403.95,197.65 401.63,195.5 399.33,193.34 397.04,191.19 394.77,189.03"/><polyline stroke-width="0.73" points="394.77,189.03 392.51,186.88 390.27,184.73 388.05,182.57 385.84,180.42 383.65,178.27 381.48,176.11 379.32,173.96 377.18,171.8 375.05,169.65 372.94,167.5 370.85,165.34 368.77,163.19 366.71,161.04 364.66,158.88"/><polyline stroke-width="0.78" points="364.66,158.88 362.63,156.73 360.61,154.57 358.62,152.42 356.63,150.27 354.66,148.11 352.71,145.96 350.77,143.81 348.85,141.65 346.94,139.5 345.05,137.34 343.17,135.19 341.31,133.04 339.46,130.88 337.63,128.73 335.81,126.58 334.01,124.42 332.22,122.27 330.45,120.11 328.69,117.96"/><polyline stroke-width="0.83" points="328.69,117.96 326.95,115.81 325.22,113.65 323.51,111.5 321.81,109.35 320.13,107.19 318.46,105.04 316.8,102.88 315.16,100.73 313.53,98.58 311.92,96.42 310.32,94.27 308.74,92.12 307.17,89.96 305.61,87.81 304.07,85.65 302.54,83.5 301.02,81.35 299.52,79.19 298.04,77.04"/><polyline stroke-width="0.88" points="298.04,77.04 296.57,74.88"/><polyline stroke-width="0.98" points="1001.89,503.48 996.31,501.33 990.75,499.18 985.22,497.02 979.72,494.87 974.24,492.71 968.8,490.56 963.37,488.41 957.98,486.25 952.62,484.1 947.28,481.95 941.96,479.79 936.68,477.64 931.42,475.48"/><polyline stroke-width="0.93" points="931.42,475.48 926.19,473.33 920.98,471.18 915.8,469.02 910.65,466.87 905.52,464.72 900.42,462.56 895.34,460.41 890.29,458.25 885.27,456.1 880.27,453.95 875.3,451.79 870.35,449.64 865.43,447.49 860.53,445.33 855.66,443.18 850.82,441.02 846,438.87 841.2,436.72 836.43,434.56 831.68,432.41 826.96,430.26 822.27,428.1 817.6,425.95 812.95,423.79 808.33,421.64 803.73,419.49 799.15,417.33 794.61,415.18 790.08,413.03 785.58,410.87 781.1,408.72 776.65,406.56 772.22,404.41 767.81,402.26 763.43,400.1 759.07,397.95 754.73,395.8 750.42,393.64 746.13,391.49 741.87,389.33 737.63,387.18 733.41,385.03 729.21,382.87 725.04,380.72 720.89,378.57 716.76,376.41 712.65,374.26 708.57,372.1 704.51,369.95 700.47,367.8 696.46,365.64 692.47,363.49 688.5,361.34 684.55,359.18 680.62,357.03 676.72,354.87"/><polyline stroke-width="0.88" points="676.72,354.87 672.84,352.72 668.98,350.57 665.14,348.41 661.32,346.26 657.53,344.11 653.75,341.95 650,339.8 646.27,337.64 642.56,335.49 638.87,333.34 635.21,331.18 631.56,329.03 627.94,326.88 624.33,324.72 620.75,322.57 617.19,320.41 613.65,318.26 610.13,316.11 606.63,313.95 603.15,311.8 599.69,309.64 596.25,307.49 592.83,305.34 589.44,303.18 586.06,301.03 582.7,298.88 579.37,296.72 576.05,294.57 572.75,292.41 569.48,290.26 566.22,288.11 562.98,285.95 559.76,283.8 556.57,281.65 553.39,279.49 550.23,277.34"/><polyline stroke-width="0.83" points="550.23,277.34 547.09,275.18 543.97,273.03 540.87,270.88 537.79,268.72 534.72,266.57 531.68,264.42 528.66,262.26 525.65,260.11 522.66,257.95 519.7,255.8 516.75,253.65 513.82,251.49 510.91,249.34 508.01,247.19 505.14,245.03 502.28,242.88 499.45,240.72 496.63,238.57 493.83,236.42 491.04,234.26 488.28,232.11 485.53,229.96 482.8,227.8 480.09,225.65 477.4,223.49 474.73,221.34 472.07,219.19"/><polyline stroke-width="0.78" points="472.07,219.19 469.43,217.03 466.81,214.88 464.21,212.73 461.62,210.57 459.05,208.42 456.5,206.26 453.97,204.11 451.45,201.96 448.95,199.8 446.47,197.65 444,195.5 441.56,193.34 439.13,191.19 436.71,189.03 434.31,186.88 431.93,184.73 429.57,182.57 427.22,180.42 424.9,178.27 422.58,176.11 420.29,173.96 418.01,171.8"/><polyline stroke-width="0.73" points="418.01,171.8 415.74,169.65 413.49,167.5 411.26,165.34 409.05,163.19 406.85,161.04 404.67,158.88 402.5,156.73 400.35,154.57 398.22,152.42 396.1,150.27 394,148.11 391.91,145.96 389.84,143.81 387.79,141.65"/><polyline stroke-width="0.78" points="387.79,141.65 385.75,139.5 383.73,137.34 381.72,135.19 379.73,133.04 377.75,130.88 375.79,128.73 373.84,126.58 371.91,124.42 370,122.27 368.1,120.11 366.21,117.96 364.35,115.81 362.49,113.65 360.65,111.5 358.83,109.35 357.02,107.19 355.22,105.04 353.44,102.88 351.68,100.73"/><polyline stroke-width="0.83" points="351.68,100.73 349.93,98.58 348.19,96.42 346.47,94.27 344.76,92.12 343.07,89.96 341.4,87.81 339.73,85.65 338.08,83.5 336.45,81.35 334.83,79.19 333.22,77.04 331.63,74.88"/><polyline stroke-width="0.98" points="1070.59,503.48 1064.78,501.33 1058.99,499.18 1053.23,497.02 1047.5,494.87 1041.79,492.71 1036.12,490.56 1030.47,488.41 1024.85,486.25 1019.26,484.1 1013.7,481.95 1008.16,479.79 1002.65,477.64 997.17,475.48 991.71,473.33 986.29,471.18 980.89,469.02 975.51,466.87 970.17,464.72 964.85,462.56 959.55,460.41 954.29,458.25"/><polyline stroke-width="0.93" points="954.29,458.25 949.05,456.1 943.83,453.95 938.65,451.79 933.49,449.64 928.35,447.49 923.24,445.33 918.16,443.18 913.11,441.02 908.07,438.87 903.07,436.72 898.09,434.56 893.14,432.41 888.21,430.26 883.31,428.1 878.43,425.95 873.58,423.79 868.75,421.64 863.95,419.49 859.17,417.33 854.42,415.18 849.69,413.03 844.99,410.87 840.31,408.72 835.66,406.56 831.03,404.41 826.42,402.26 821.84,400.1 817.29,397.95 812.76,395.8 808.25,393.64 803.76,391.49 799.3,389.33 794.87,387.18 790.46,385.03 786.07,382.87 781.7,380.72 777.36,378.57 773.04,376.41 768.75,374.26 764.48,372.1 760.23,369.95 756,367.8 751.8,365.64 747.62,363.49 743.46,361.34 739.33,359.18 735.22,357.03 731.13,354.87 727.07,352.72 723.02,350.57 719,348.41 715,346.26 711.03,344.11 707.07,341.95 703.14,339.8 699.23,337.64"/><polyline stroke-width="0.88" points="699.23,337.64 695.34,335.49 691.48,333.34 687.63,331.18 683.81,329.03 680.01,326.88 676.23,324.72 672.47,322.57 668.74,320.41 665.02,318.26 661.33,316.11 657.66,313.95 654.01,311.8 650.38,309.64 646.77,307.49 643.18,305.34 639.61,303.18 636.06,301.03 632.54,298.88 629.03,296.72 625.55,294.57 622.09,292.41 618.64,290.26 615.22,288.11 611.82,285.95 608.43,283.8 605.07,281.65 601.73,279.49 598.41,277.34 595.11,275.18 591.82,273.03 588.56,270.88 585.32,268.72 582.1,266.57 578.89,264.42 575.71,262.26 572.54,260.11 569.4,257.95"/><polyline stroke-width="0.83" points="569.4,257.95 566.27,255.8 563.17,253.65 560.08,251.49 557.01,249.34 553.97,247.19 550.94,245.03 547.93,242.88 544.94,240.72 541.96,238.57 539.01,236.42 536.07,234.26 533.16,232.11 530.26,229.96 527.38,227.8 524.52,225.65 521.68,223.49 518.85,221.34 516.05,219.19 513.26,217.03 510.49,214.88 507.74,212.73 505.01,210.57 502.29,208.42 499.6,206.26 496.92,204.11 494.26,201.96 491.61,199.8"/><polyline stroke-width="0.78" points="491.61,199.8 488.99,197.65 486.38,195.5 483.79,193.34 481.21,191.19 478.66,189.03 476.12,186.88 473.6,184.73 471.09,182.57 468.61,180.42 466.14,178.27 463.69,176.11 461.25,173.96 458.83,171.8 456.43,169.65 454.05,167.5 451.68,165.34 449.33,163.19 446.99,161.04 444.68,158.88 442.38,156.73 440.09,154.57 437.82,152.42"/><polyline stroke-width="0.73" points="437.82,152.42 435.57,150.27 433.34,148.11 431.12,145.96 428.92,143.81 426.73,141.65 424.56,139.5 422.41,137.34 420.27,135.19 418.15,133.04 416.04,130.88 413.95,128.73 411.87,126.58 409.82,124.42"/><polyline stroke-width="0.78" points="409.82,124.42 407.77,122.27 405.75,120.11 403.73,117.96 401.74,115.81 399.76,113.65 397.79,111.5 395.84,109.35 393.91,107.19 391.99,105.04 390.09,102.88 388.2,100.73 386.32,98.58 384.47,96.42 382.62,94.27 380.79,92.12 378.98,89.96 377.18,87.81 375.4,85.65 373.63,83.5"/><polyline stroke-width="0.83" points="373.63,83.5 371.88,81.35 370.14,79.19 368.41,77.04 366.7,74.88"/><polyline stroke-width="0.98" points="1139.29,503.48 1133.25,501.33 1127.23,499.18 1121.24,497.02 1115.28,494.87 1109.34,492.71 1103.44,490.56 1097.57,488.41 1091.72,486.25 1085.9,484.1 1080.11,481.95 1074.35,479.79 1068.62,477.64 1062.92,475.48 1057.24,473.33 1051.59,471.18 1045.97,469.02 1040.38,466.87 1034.81,464.72 1029.28,462.56 1023.77,460.41 1018.28,458.25 1012.83,456.1 1007.4,453.95 1002,451.79 996.62,449.64 991.28,447.49 985.95,445.33 980.66,443.18 975.39,441.02"/><polyline stroke-width="0.93" points="975.39,441.02 970.15,438.87 964.94,436.72 959.75,434.56 954.59,432.41 949.45,430.26 944.34,428.1 939.26,425.95 934.2,423.79 929.17,421.64 924.17,419.49 919.19,417.33 914.23,415.18 909.3,413.03 904.4,410.87 899.52,408.72 894.67,406.56 889.84,404.41 885.04,402.26 880.26,400.1 875.51,397.95 870.78,395.8 866.07,393.64 861.39,391.49 856.74,389.33 852.11,387.18 847.51,385.03 842.92,382.87 838.37,380.72 833.83,378.57 829.33,376.41 824.84,374.26 820.38,372.1 815.94,369.95 811.53,367.8 807.14,365.64 802.77,363.49 798.43,361.34 794.11,359.18 789.82,357.03 785.54,354.87 781.3,352.72 777.07,350.57 772.87,348.41 768.69,346.26 764.53,344.11 760.39,341.95 756.28,339.8 752.19,337.64 748.13,335.49 744.08,333.34 740.06,331.18 736.06,329.03 732.08,326.88 728.13,324.72 724.2,322.57 720.29,320.41"/><polyline stroke-width="0.88" points="720.29,320.41 716.4,318.26 712.53,316.11 708.69,313.95 704.86,311.8 701.06,309.64 697.28,307.49 693.52,305.34 689.78,303.18 686.07,301.03 682.37,298.88 678.7,296.72 675.05,294.57 671.42,292.41 667.81,290.26 664.22,288.11 660.65,285.95 657.11,283.8 653.58,281.65 650.07,279.49 646.59,277.34 643.12,275.18 639.68,273.03 636.26,270.88 632.85,268.72 629.47,266.57 626.11,264.42 622.76,262.26 619.44,260.11 616.14,257.95 612.85,255.8 609.59,253.65 606.35,251.49 603.12,249.34 599.92,247.19 596.74,245.03 593.57,242.88 590.43,240.72"/><polyline stroke-width="0.83" points="590.43,240.72 587.3,238.57 584.19,236.42 581.11,234.26 578.04,232.11 574.99,229.96 571.96,227.8 568.95,225.65 565.95,223.49 562.98,221.34 560.03,219.19 557.09,217.03 554.17,214.88 551.28,212.73 548.4,210.57 545.53,208.42 542.69,206.26 539.87,204.11 537.06,201.96 534.27,199.8 531.5,197.65 528.75,195.5 526.02,193.34 523.3,191.19 520.6,189.03 517.92,186.88 515.26,184.73 512.62,182.57"/><polyline stroke-width="0.78" points="512.62,182.57 509.99,180.42 507.38,178.27 504.79,176.11 502.22,173.96 499.66,171.8 497.12,169.65 494.6,167.5 492.1,165.34 489.61,163.19 487.14,161.04 484.69,158.88 482.25,156.73 479.83,154.57 477.43,152.42 475.04,150.27 472.68,148.11 470.32,145.96 467.99,143.81 465.67,141.65 463.37,139.5 461.08,137.34 458.82,135.19"/><polyline stroke-width="0.73" points="458.82,135.19 456.56,133.04 454.33,130.88 452.11,128.73 449.91,126.58 447.72,124.42 445.55,122.27 443.39,120.11 441.25,117.96 439.13,115.81 437.03,113.65 434.93,111.5 432.86,109.35 430.8,107.19"/><polyline stroke-width="0.78" points="430.8,107.19 428.76,105.04 426.73,102.88 424.72,100.73 422.72,98.58 420.74,96.42 418.77,94.27 416.82,92.12 414.89,89.96 412.97,87.81 411.06,85.65 409.17,83.5 407.3,81.35 405.44,79.19 403.6,77.04 401.77,74.88"/><polyline stroke-width="0.98" points="1208,503.48 1201.72,501.33 1195.47,499.18 1189.25,497.02 1183.06,494.87 1176.9,492.71 1170.76,490.56 1164.66,488.41 1158.59,486.25 1152.55,484.1 1146.53,481.95 1140.55,479.79 1134.59,477.64 1128.67,475.48 1122.77,473.33 1116.9,471.18 1111.06,469.02 1105.24,466.87 1099.46,464.72 1093.71,462.56 1087.98,460.41 1082.28,458.25 1076.61,456.1 1070.96,453.95 1065.35,451.79 1059.76,449.64 1054.2,447.49 1048.67,445.33 1043.16,443.18 1037.68,441.02 1032.23,438.87 1026.81,436.72 1021.41,434.56 1016.04,432.41 1010.7,430.26 1005.38,428.1 1000.09,425.95 994.83,423.79"/><polyline stroke-width="0.93" points="994.83,423.79 989.59,421.64 984.38,419.49 979.2,417.33 974.04,415.18 968.91,413.03 963.81,410.87 958.73,408.72 953.68,406.56 948.65,404.41 943.65,402.26 938.67,400.1 933.72,397.95 928.8,395.8 923.9,393.64 919.03,391.49 914.18,389.33 909.35,387.18 904.55,385.03 899.78,382.87 895.03,380.72 890.31,378.57 885.61,376.41 880.93,374.26 876.28,372.1 871.66,369.95 867.06,367.8 862.48,365.64 857.93,363.49 853.4,361.34 848.89,359.18 844.41,357.03 839.96,354.87 835.52,352.72 831.12,350.57 826.73,348.41 822.37,346.26 818.03,344.11 813.71,341.95 809.42,339.8 805.15,337.64 800.91,335.49 796.69,333.34 792.49,331.18 788.31,329.03 784.16,326.88 780.03,324.72 775.92,322.57 771.83,320.41 767.77,318.26 763.73,316.11 759.71,313.95 755.72,311.8 751.75,309.64 747.79,307.49 743.87,305.34 739.96,303.18"/><polyline stroke-width="0.88" points="739.96,303.18 736.07,301.03 732.21,298.88 728.37,296.72 724.55,294.57 720.75,292.41 716.98,290.26 713.22,288.11 709.49,285.95 705.78,283.8 702.09,281.65 698.42,279.49 694.77,277.34 691.14,275.18 687.53,273.03 683.95,270.88 680.38,268.72 676.84,266.57 673.32,264.42 669.82,262.26 666.33,260.11 662.87,257.95 659.43,255.8 656.01,253.65 652.61,251.49 649.23,249.34 645.87,247.19 642.53,245.03 639.22,242.88 635.92,240.72 632.64,238.57 629.38,236.42 626.14,234.26 622.92,232.11 619.72,229.96 616.54,227.8 613.37,225.65"/><polyline stroke-width="0.83" points="613.37,225.65 610.23,223.49 607.11,221.34 604.01,219.19 600.92,217.03 597.86,214.88 594.81,212.73 591.78,210.57 588.78,208.42 585.79,206.26 582.82,204.11 579.87,201.96 576.93,199.8 574.02,197.65 571.12,195.5 568.25,193.34 565.39,191.19 562.55,189.03 559.73,186.88 556.93,184.73 554.14,182.57 551.37,180.42 548.63,178.27 545.9,176.11 543.18,173.96 540.49,171.8 537.81,169.65 535.15,167.5"/><polyline stroke-width="0.78" points="535.15,167.5 532.51,165.34 529.89,163.19 527.28,161.04 524.69,158.88 522.12,156.73 519.57,154.57 517.03,152.42 514.51,150.27 512.01,148.11 509.53,145.96 507.06,143.81 504.61,141.65 502.18,139.5 499.76,137.34 497.36,135.19 494.98,133.04 492.62,130.88 490.27,128.73 487.94,126.58 485.62,124.42 483.32,122.27 481.04,120.11"/><polyline stroke-width="0.73" points="481.04,120.11 478.77,117.96 476.53,115.81 474.29,113.65 472.08,111.5 469.88,109.35 467.69,107.19 465.52,105.04 463.37,102.88 461.24,100.73 459.12,98.58 457.01,96.42 454.92,94.27 452.85,92.12 450.8,89.96"/><polyline stroke-width="0.78" points="450.8,89.96 448.75,87.81 446.73,85.65 444.72,83.5 442.73,81.35 440.75,79.19 438.78,77.04 436.84,74.88"/><polyline stroke-width="0.98" points="1276.7,503.48 1270.19,501.33 1263.71,499.18 1257.26,497.02 1250.84,494.87 1244.45,492.71 1238.09,490.56 1231.76,488.41 1225.46,486.25 1219.19,484.1 1212.95,481.95 1206.74,479.79 1200.56,477.64 1194.42,475.48 1188.3,473.33 1182.2,471.18 1176.14,469.02 1170.11,466.87 1164.11,464.72 1158.13,462.56 1152.19,460.41 1146.27,458.25 1140.39,456.1 1134.53,453.95 1128.7,451.79 1122.9,449.64 1117.12,447.49 1111.38,445.33 1105.66,443.18 1099.97,441.02 1094.31,438.87 1088.68,436.72 1083.07,434.56 1077.49,432.41 1071.94,430.26 1066.42,428.1 1060.93,425.95 1055.46,423.79 1050.02,421.64 1044.6,419.49 1039.22,417.33 1033.86,415.18 1028.53,413.03 1023.22,410.87 1017.94,408.72 1012.69,406.56"/><polyline stroke-width="0.93" points="1012.69,406.56 1007.46,404.41 1002.26,402.26 997.09,400.1 991.94,397.95 986.82,395.8 981.72,393.64 976.66,391.49 971.61,389.33 966.6,387.18 961.6,385.03 956.64,382.87 951.7,380.72 946.78,378.57 941.89,376.41 937.03,374.26 932.19,372.1 927.37,369.95 922.58,367.8 917.82,365.64 913.08,363.49 908.37,361.34 903.68,359.18 899.01,357.03 894.37,354.87 889.75,352.72 885.16,350.57 880.59,348.41 876.05,346.26 871.53,344.11 867.04,341.95 862.56,339.8 858.12,337.64 853.69,335.49 849.29,333.34 844.92,331.18 840.56,329.03 836.23,326.88 831.93,324.72 827.64,322.57 823.38,320.41 819.15,318.26 814.93,316.11 810.74,313.95 806.58,311.8 802.43,309.64 798.31,307.49 794.21,305.34 790.13,303.18 786.08,301.03 782.05,298.88 778.04,296.72 774.05,294.57 770.09,292.41 766.14,290.26 762.22,288.11 758.32,285.95"/><polyline stroke-width="0.88" points="758.32,285.95 754.45,283.8 750.59,281.65 746.76,279.49 742.95,277.34 739.16,275.18 735.39,273.03 731.64,270.88 727.92,268.72 724.21,266.57 720.53,264.42 716.87,262.26 713.23,260.11 709.61,257.95 706.01,255.8 702.43,253.65 698.88,251.49 695.34,249.34 691.83,247.19 688.33,245.03 684.86,242.88 681.41,240.72 677.97,238.57 674.56,236.42 671.17,234.26 667.8,232.11 664.44,229.96 661.11,227.8 657.8,225.65 654.51,223.49 651.24,221.34 647.98,219.19 644.75,217.03 641.54,214.88 638.35,212.73 635.17,210.57 632.02,208.42"/><polyline stroke-width="0.83" points="632.02,208.42 628.88,206.26 625.77,204.11 622.67,201.96 619.6,199.8 616.54,197.65 613.5,195.5 610.48,193.34 607.48,191.19 604.5,189.03 601.53,186.88 598.59,184.73 595.66,182.57 592.76,180.42 589.87,178.27 587,176.11 584.15,173.96 581.32,171.8 578.5,169.65 575.7,167.5 572.93,165.34 570.17,163.19 567.43,161.04 564.7,158.88 562,156.73 559.31,154.57 556.64,152.42 553.99,150.27"/><polyline stroke-width="0.78" points="553.99,150.27 551.35,148.11 548.73,145.96 546.13,143.81 543.55,141.65 540.99,139.5 538.44,137.34 535.91,135.19 533.4,133.04 530.9,130.88 528.43,128.73 525.97,126.58 523.52,124.42 521.1,122.27 518.69,120.11 516.29,117.96 513.92,115.81 511.56,113.65 509.22,111.5 506.89,109.35 504.58,107.19 502.29,105.04 500.01,102.88"/><polyline stroke-width="0.73" points="500.01,102.88 497.75,100.73 495.51,98.58 493.29,96.42 491.07,94.27 488.88,92.12 486.7,89.96 484.54,87.81 482.39,85.65 480.26,83.5 478.15,81.35 476.05,79.19 473.97,77.04 471.9,74.88"/><polyline stroke-width="0.98" points="1345.4,503.48 1338.66,501.33 1331.94,499.18 1325.26,497.02 1318.62,494.87 1312,492.71 1305.41,490.56 1298.85,488.41 1292.33,486.25 1285.84,484.1 1279.37,481.95 1272.94,479.79 1266.54,477.64 1260.16,475.48 1253.82,473.33 1247.51,471.18 1241.23,469.02 1234.98,466.87 1228.76,464.72 1222.56,462.56 1216.4,460.41 1210.27,458.25 1204.17,456.1 1198.09,453.95 1192.05,451.79 1186.03,449.64 1180.05,447.49 1174.09,445.33 1168.16,443.18 1162.26,441.02 1156.39,438.87 1150.55,436.72 1144.73,434.56 1138.95,432.41 1133.19,430.26 1127.46,428.1 1121.76,425.95 1116.08,423.79 1110.44,421.64 1104.82,419.49 1099.23,417.33 1093.67,415.18 1088.14,413.03 1082.63,410.87 1077.15,408.72 1071.7,406.56 1066.27,404.41 1060.87,402.26 1055.5,400.1 1050.16,397.95 1044.84,395.8 1039.55,393.64 1034.29,391.49"/><polyline stroke-width="0.93" points="1034.29,391.49 1029.05,389.33 1023.84,387.18 1018.65,385.03 1013.49,382.87 1008.36,380.72 1003.26,378.57 998.18,376.41 993.12,374.26 988.09,372.1 983.09,369.95 978.11,367.8 973.16,365.64 968.23,363.49 963.33,361.34 958.46,359.18 953.61,357.03 948.78,354.87 943.98,352.72 939.21,350.57 934.46,348.41 929.73,346.26 925.03,344.11 920.36,341.95 915.7,339.8 911.08,337.64 906.48,335.49 901.9,333.34 897.34,331.18 892.81,329.03 888.31,326.88 883.83,324.72 879.37,322.57 874.93,320.41 870.52,318.26 866.14,316.11 861.77,313.95 857.43,311.8 853.12,309.64 848.82,307.49 844.55,305.34 840.31,303.18 836.08,301.03 831.88,298.88 827.71,296.72 823.55,294.57 819.42,292.41 815.31,290.26 811.22,288.11 807.16,285.95 803.12,283.8 799.1,281.65 795.1,279.49 791.13,277.34 787.18,275.18 783.25,273.03 779.34,270.88"/><polyline stroke-width="0.88" points="779.34,270.88 775.45,268.72 771.59,266.57 767.74,264.42 763.92,262.26 760.12,260.11 756.35,257.95 752.59,255.8 748.86,253.65 745.14,251.49 741.45,249.34 737.78,247.19 734.13,245.03 730.5,242.88 726.9,240.72 723.31,238.57 719.74,236.42 716.2,234.26 712.68,232.11 709.17,229.96 705.69,227.8 702.23,225.65 698.79,223.49 695.36,221.34 691.96,219.19 688.58,217.03 685.22,214.88 681.88,212.73 678.56,210.57 675.26,208.42 671.98,206.26 668.72,204.11 665.48,201.96 662.26,199.8 659.05,197.65 655.87,195.5 652.71,193.34"/><polyline stroke-width="0.83" points="652.71,193.34 649.57,191.19 646.44,189.03 643.34,186.88 640.25,184.73 637.19,182.57 634.14,180.42 631.11,178.27 628.1,176.11 625.11,173.96 622.14,171.8 619.19,169.65 616.26,167.5 613.34,165.34 610.45,163.19 607.57,161.04 604.71,158.88 601.87,156.73 599.05,154.57 596.24,152.42 593.46,150.27 590.69,148.11 587.94,145.96 585.21,143.81 582.49,141.65 579.8,139.5 577.12,137.34 574.46,135.19 571.82,133.04"/><polyline stroke-width="0.78" points="571.82,133.04 569.19,130.88 566.59,128.73 564,126.58 561.43,124.42 558.87,122.27 556.33,120.11 553.81,117.96 551.31,115.81 548.83,113.65 546.36,111.5 543.91,109.35 541.47,107.19 539.06,105.04 536.66,102.88 534.27,100.73 531.91,98.58 529.56,96.42 527.23,94.27 524.91,92.12 522.61,89.96 520.33,87.81"/><polyline stroke-width="0.73" points="520.33,87.81 518.06,85.65 515.81,83.5 513.58,81.35 511.36,79.19 509.16,77.04 506.97,74.88"/><polyline stroke-width="0.98" points="1414.1,503.48 1407.13,501.33 1400.18,499.18 1393.27,497.02 1386.39,494.87 1379.55,492.71 1372.73,490.56 1365.95,488.41 1359.2,486.25 1352.48,484.1 1345.79,481.95 1339.13,479.79 1332.51,477.64 1325.91,475.48 1319.35,473.33 1312.82,471.18 1306.32,469.02 1299.84,466.87 1293.4,464.72 1286.99,462.56 1280.61,460.41 1274.26,458.25 1267.95,456.1 1261.66,453.95 1255.4,451.79 1249.17,449.64 1242.97,447.49 1236.8,445.33 1230.66,443.18 1224.55,441.02 1218.47,438.87 1212.41,436.72 1206.39,434.56 1200.4,432.41 1194.43,430.26 1188.5,428.1 1182.59,425.95 1176.71,423.79 1170.86,421.64 1165.04,419.49 1159.25,417.33 1153.48,415.18 1147.75,413.03 1142.04,410.87 1136.36,408.72 1130.71,406.56 1125.08,404.41 1119.49,402.26 1113.92,400.1 1108.38,397.95 1102.86,395.8 1097.38,393.64 1091.92,391.49 1086.48,389.33 1081.08,387.18 1075.7,385.03 1070.35,382.87 1065.03,380.72 1059.73,378.57 1054.46,376.41 1049.21,374.26"/><polyline stroke-width="0.93" points="1049.21,374.26 1044,372.1 1038.8,369.95 1033.64,367.8 1028.5,365.64 1023.39,363.49 1018.3,361.34 1013.24,359.18 1008.21,357.03 1003.2,354.87 998.21,352.72 993.25,350.57 988.32,348.41 983.42,346.26 978.53,344.11 973.68,341.95 968.85,339.8 964.04,337.64 959.26,335.49 954.5,333.34 949.77,331.18 945.06,329.03 940.38,326.88 935.72,324.72 931.09,322.57 926.48,320.41 921.9,318.26 917.34,316.11 912.8,313.95 908.29,311.8 903.8,309.64 899.34,307.49 894.9,305.34 890.48,303.18 886.09,301.03 881.72,298.88 877.37,296.72 873.05,294.57 868.75,292.41 864.48,290.26 860.22,288.11 856,285.95 851.79,283.8 847.61,281.65 843.45,279.49 839.31,277.34 835.19,275.18 831.1,273.03 827.03,270.88 822.98,268.72 818.96,266.57 814.96,264.42 810.98,262.26 807.02,260.11 803.08,257.95 799.17,255.8"/><polyline stroke-width="0.88" points="799.17,255.8 795.28,253.65 791.41,251.49 787.56,249.34 783.73,247.19 779.93,245.03 776.15,242.88 772.39,240.72 768.65,238.57 764.93,236.42 761.23,234.26 757.55,232.11 753.9,229.96 750.27,227.8 746.65,225.65 743.06,223.49 739.49,221.34 735.94,219.19 732.41,217.03 728.9,214.88 725.42,212.73 721.95,210.57 718.5,208.42 715.08,206.26 711.67,204.11 708.28,201.96 704.92,199.8 701.57,197.65 698.25,195.5 694.94,193.34 691.66,191.19 688.39,189.03 685.14,186.88 681.92,184.73 678.71,182.57 675.52,180.42 672.36,178.27 669.21,176.11"/><polyline stroke-width="0.83" points="669.21,176.11 666.08,173.96 662.97,171.8 659.88,169.65 656.81,167.5 653.76,165.34 650.73,163.19 647.71,161.04 644.72,158.88 641.74,156.73 638.78,154.57 635.85,152.42 632.93,150.27 630.03,148.11 627.14,145.96 624.28,143.81 621.43,141.65 618.61,139.5 615.8,137.34 613.01,135.19 610.24,133.04 607.48,130.88 604.75,128.73 602.03,126.58 599.33,124.42 596.65,122.27 593.98,120.11 591.33,117.96"/><polyline stroke-width="0.78" points="591.33,117.96 588.71,115.81 586.09,113.65 583.5,111.5 580.92,109.35 578.37,107.19 575.82,105.04 573.3,102.88 570.79,100.73 568.3,98.58 565.83,96.42 563.38,94.27 560.94,92.12 558.52,89.96 556.11,87.81 553.73,85.65 551.35,83.5 549,81.35 546.66,79.19 544.34,77.04 542.04,74.88"/><polyline stroke-width="0.98" points="1482.8,503.48 1475.6,501.33 1468.42,499.18 1461.28,497.02 1454.17,494.87 1447.1,492.71 1440.06,490.56 1433.05,488.41 1426.07,486.25 1419.12,484.1 1412.21,481.95 1405.33,479.79 1398.48,477.64 1391.66,475.48 1384.88,473.33 1378.12,471.18 1371.4,469.02 1364.71,466.87 1358.05,464.72 1351.42,462.56 1344.83,460.41 1338.26,458.25 1331.72,456.1 1325.22,453.95 1318.75,451.79 1312.3,449.64 1305.89,447.49 1299.51,445.33 1293.16,443.18 1286.84,441.02 1280.54,438.87 1274.28,436.72 1268.05,434.56 1261.85,432.41 1255.68,430.26 1249.54,428.1 1243.42,425.95 1237.34,423.79 1231.28,421.64 1225.26,419.49 1219.26,417.33 1213.3,415.18 1207.36,413.03 1201.45,410.87 1195.57,408.72 1189.72,406.56 1183.89,404.41 1178.1,402.26 1172.33,400.1 1166.59,397.95 1160.88,395.8 1155.2,393.64 1149.55,391.49 1143.92,389.33 1138.32,387.18 1132.75,385.03 1127.21,382.87 1121.69,380.72 1116.2,378.57 1110.74,376.41 1105.31,374.26 1099.9,372.1 1094.52,369.95 1089.17,367.8 1083.84,365.64 1078.54,363.49 1073.27,361.34 1068.02,359.18"/><polyline stroke-width="0.93" points="1068.02,359.18 1062.8,357.03 1057.61,354.87 1052.44,352.72 1047.3,350.57 1042.19,348.41 1037.1,346.26 1032.03,344.11 1027,341.95 1021.99,339.8 1017,337.64 1012.04,335.49 1007.11,333.34 1002.2,331.18 997.31,329.03 992.46,326.88 987.62,324.72 982.81,322.57 978.03,320.41 973.27,318.26 968.54,316.11 963.83,313.95 959.15,311.8 954.49,309.64 949.85,307.49 945.24,305.34 940.65,303.18 936.09,301.03 931.56,298.88 927.04,296.72 922.55,294.57 918.09,292.41 913.64,290.26 909.23,288.11 904.83,285.95 900.46,283.8 896.11,281.65 891.79,279.49 887.49,277.34 883.21,275.18 878.96,273.03 874.73,270.88 870.52,268.72 866.33,266.57 862.17,264.42 858.03,262.26 853.91,260.11 849.82,257.95 845.75,255.8 841.7,253.65 837.67,251.49 833.67,249.34 829.69,247.19 825.73,245.03 821.79,242.88 817.88,240.72 813.98,238.57"/><polyline stroke-width="0.88" points="813.98,238.57 810.11,236.42 806.26,234.26 802.43,232.11 798.63,229.96 794.84,227.8 791.08,225.65 787.34,223.49 783.62,221.34 779.92,219.19 776.24,217.03 772.59,214.88 768.95,212.73 765.34,210.57 761.74,208.42 758.17,206.26 754.62,204.11 751.09,201.96 747.58,199.8 744.09,197.65 740.62,195.5 737.17,193.34 733.74,191.19 730.34,189.03 726.95,186.88 723.58,184.73 720.23,182.57 716.91,180.42 713.6,178.27 710.31,176.11 707.05,173.96 703.8,171.8 700.57,169.65 697.36,167.5 694.17,165.34 691,163.19 687.86,161.04"/><polyline stroke-width="0.83" points="687.86,161.04 684.73,158.88 681.61,156.73 678.52,154.57 675.45,152.42 672.4,150.27 669.36,148.11 666.35,145.96 663.35,143.81 660.38,141.65 657.42,139.5 654.48,137.34 651.56,135.19 648.65,133.04 645.77,130.88 642.91,128.73 640.06,126.58 637.23,124.42 634.42,122.27 631.63,120.11 628.85,117.96 626.1,115.81 623.36,113.65 620.64,111.5 617.94,109.35 615.26,107.19 612.59,105.04 609.94,102.88"/><polyline stroke-width="0.78" points="609.94,102.88 607.31,100.73 604.7,98.58 602.1,96.42 599.53,94.27 596.97,92.12 594.42,89.96 591.9,87.81 589.39,85.65 586.9,83.5 584.43,81.35 581.97,79.19 579.53,77.04 577.11,74.88"/><polyline stroke-width="0.98" points="1551.51,503.48 1544.07,501.33 1536.66,499.18 1529.29,497.02 1521.95,494.87 1514.65,492.71 1507.38,490.56 1500.14,488.41 1492.94,486.25 1485.77,484.1 1478.63,481.95 1471.52,479.79 1464.45,477.64 1457.41,475.48 1450.4,473.33 1443.43,471.18 1436.49,469.02 1429.58,466.87 1422.7,464.72 1415.85,462.56 1409.04,460.41 1402.26,458.25 1395.5,456.1 1388.78,453.95 1382.1,451.79 1375.44,449.64 1368.81,447.49 1362.22,445.33 1355.66,443.18 1349.12,441.02 1342.62,438.87 1336.15,436.72 1329.71,434.56 1323.3,432.41 1316.92,430.26 1310.57,428.1 1304.26,425.95 1297.97,423.79 1291.71,421.64 1285.48,419.49 1279.28,417.33 1273.11,415.18 1266.97,413.03 1260.86,410.87 1254.78,408.72 1248.73,406.56 1242.7,404.41 1236.71,402.26 1230.75,400.1 1224.81,397.95 1218.9,395.8 1213.03,393.64 1207.18,391.49 1201.36,389.33 1195.56,387.18 1189.8,385.03 1184.06,382.87 1178.36,380.72 1172.68,378.57 1167.02,376.41 1161.4,374.26 1155.8,372.1 1150.24,369.95 1144.69,367.8 1139.18,365.64 1133.69,363.49 1128.24,361.34 1122.8,359.18 1117.4,357.03 1112.02,354.87 1106.67,352.72 1101.35,350.57 1096.05,348.41 1090.78,346.26 1085.54,344.11"/><polyline stroke-width="0.93" points="1085.54,344.11 1080.32,341.95 1075.13,339.8 1069.96,337.64 1064.82,335.49 1059.71,333.34 1054.62,331.18 1049.56,329.03 1044.53,326.88 1039.52,324.72 1034.54,322.57 1029.58,320.41 1024.65,318.26 1019.74,316.11 1014.86,313.95 1010,311.8 1005.17,309.64 1000.37,307.49 995.59,305.34 990.83,303.18 986.1,301.03 981.39,298.88 976.71,296.72 972.05,294.57 967.42,292.41 962.81,290.26 958.23,288.11 953.67,285.95 949.13,283.8 944.62,281.65 940.13,279.49 935.67,277.34 931.23,275.18 926.81,273.03 922.42,270.88 918.05,268.72 913.71,266.57 909.38,264.42 905.08,262.26 900.81,260.11 896.56,257.95 892.33,255.8 888.12,253.65 883.94,251.49 879.78,249.34 875.64,247.19 871.53,245.03 867.44,242.88 863.37,240.72 859.32,238.57 855.3,236.42 851.29,234.26 847.31,232.11 843.36,229.96 839.42,227.8 835.51,225.65"/><polyline stroke-width="0.88" points="835.51,225.65 831.62,223.49 827.75,221.34 823.9,219.19 820.07,217.03 816.27,214.88 812.49,212.73 808.72,210.57 804.98,208.42 801.27,206.26 797.57,204.11 793.89,201.96 790.24,199.8 786.61,197.65 782.99,195.5 779.4,193.34 775.83,191.19 772.28,189.03 768.75,186.88 765.24,184.73 761.76,182.57 758.29,180.42 754.84,178.27 751.42,176.11 748.01,173.96 744.63,171.8 741.26,169.65 737.91,167.5 734.59,165.34 731.28,163.19 728,161.04 724.73,158.88 721.49,156.73 718.26,154.57 715.06,152.42 711.87,150.27 708.7,148.11 705.55,145.96"/><polyline stroke-width="0.83" points="705.55,145.96 702.43,143.81 699.32,141.65 696.23,139.5 693.16,137.34 690.1,135.19 687.07,133.04 684.06,130.88 681.06,128.73 678.09,126.58 675.13,124.42 672.19,122.27 669.27,120.11 666.37,117.96 663.49,115.81 660.63,113.65 657.78,111.5 654.96,109.35 652.15,107.19 649.36,105.04 646.59,102.88 643.83,100.73 641.1,98.58 638.38,96.42 635.68,94.27 633,92.12 630.33,89.96 627.69,87.81"/><polyline stroke-width="0.78" points="627.69,87.81 625.06,85.65 622.45,83.5 619.85,81.35 617.28,79.19 614.72,77.04 612.18,74.88"/><polyline stroke-width="0.98" points="1620.21,503.48 1612.54,501.33 1604.9,499.18 1597.3,497.02 1589.73,494.87 1582.2,492.71 1574.7,490.56 1567.24,488.41 1559.81,486.25 1552.41,484.1 1545.05,481.95 1537.72,479.79 1530.42,477.64 1523.16,475.48 1515.93,473.33 1508.74,471.18 1501.57,469.02 1494.44,466.87 1487.35,464.72 1480.28,462.56 1473.25,460.41 1466.25,458.25 1459.28,456.1 1452.35,453.95 1445.45,451.79 1438.58,449.64 1431.74,447.49 1424.93,445.33 1418.16,443.18 1411.41,441.02 1404.7,438.87 1398.02,436.72 1391.37,434.56 1384.75,432.41 1378.17,430.26 1371.61,428.1 1365.09,425.95 1358.59,423.79 1352.13,421.64 1345.7,419.49 1339.3,417.33 1332.92,415.18 1326.58,413.03 1320.27,410.87 1313.99,408.72 1307.74,406.56 1301.52,404.41 1295.32,402.26 1289.16,400.1 1283.03,397.95 1276.93,395.8 1270.85,393.64 1264.81,391.49 1258.79,389.33 1252.81,387.18 1246.85,385.03 1240.92,382.87 1235.02,380.72 1229.15,378.57 1223.31,376.41 1217.49,374.26 1211.71,372.1 1205.95,369.95 1200.22,367.8 1194.52,365.64 1188.85,363.49 1183.2,361.34 1177.59,359.18 1172,357.03 1166.44,354.87 1160.9,352.72 1155.39,350.57 1149.91,348.41 1144.46,346.26 1139.04,344.11 1133.64,341.95 1128.27,339.8 1122.92,337.64 1117.61,335.49 1112.32,333.34 1107.05,331.18"/><polyline stroke-width="0.93" points="1107.05,331.18 1101.81,329.03 1096.6,326.88 1091.42,324.72 1086.26,322.57 1081.13,320.41 1076.02,318.26 1070.94,316.11 1065.89,313.95 1060.86,311.8 1055.86,309.64 1050.88,307.49 1045.93,305.34 1041,303.18 1036.1,301.03 1031.23,298.88 1026.38,296.72 1021.55,294.57 1016.75,292.41 1011.98,290.26 1007.23,288.11 1002.5,285.95 997.8,283.8 993.13,281.65 988.48,279.49 983.85,277.34 979.25,275.18 974.67,273.03 970.11,270.88 965.58,268.72 961.08,266.57 956.6,264.42 952.14,262.26 947.7,260.11 943.29,257.95 938.91,255.8 934.54,253.65 930.2,251.49 925.89,249.34 921.6,247.19 917.33,245.03 913.08,242.88 908.86,240.72 904.66,238.57 900.48,236.42 896.32,234.26 892.19,232.11 888.08,229.96 884,227.8 879.93,225.65 875.89,223.49 871.87,221.34 867.88,219.19 863.9,217.03 859.95,214.88 856.02,212.73 852.11,210.57"/><polyline stroke-width="0.88" points="852.11,210.57 848.23,208.42 844.36,206.26 840.52,204.11 836.7,201.96 832.9,199.8 829.12,197.65 825.37,195.5 821.63,193.34 817.92,191.19 814.23,189.03 810.56,186.88 806.91,184.73 803.28,182.57 799.67,180.42 796.09,178.27 792.52,176.11 788.98,173.96 785.45,171.8 781.95,169.65 778.47,167.5 775.01,165.34 771.56,163.19 768.14,161.04 764.74,158.88 761.36,156.73 758,154.57 754.66,152.42 751.34,150.27 748.04,148.11 744.76,145.96 741.5,143.81 738.26,141.65 735.04,139.5 731.83,137.34 728.65,135.19 725.49,133.04"/><polyline stroke-width="0.83" points="725.49,133.04 722.35,130.88 719.22,128.73 716.12,126.58 713.03,124.42 709.97,122.27 706.92,120.11 703.89,117.96 700.89,115.81 697.9,113.65 694.92,111.5 691.97,109.35 689.04,107.19 686.12,105.04 683.23,102.88 680.35,100.73 677.49,98.58 674.65,96.42 671.83,94.27 669.02,92.12 666.24,89.96 663.47,87.81 660.72,85.65 657.99,83.5 655.28,81.35 652.58,79.19 649.9,77.04 647.24,74.88"/></g><g stroke="#00ff00"><path stroke-width="0.81" d="M239.7 503.5L234.16 499"/><path stroke-width="0.81" d="M228.62 494.5L223.08 490"/><path stroke-width="0.8" d="M217.26 485.25L213.59 482.25"/><path stroke-width="0.79" d="M300.4 503.5L295.13 499"/><path stroke-width="0.8" d="M289.82 494.5L284.47 490"/><path stroke-width="0.8" d="M278.78 485.25L273.36 480.75"/><path stroke-width="0.8" d="M267.33 475.75L261.58 471"/><path stroke-width="0.8" d="M255.82 466.25L249.77 461.25"/><path stroke-width="0.8" d="M243.73 456.25L238.61 452"/><path stroke-width="0.75" d="M355.18 503.5L350.5 499"/><path stroke-width="0.76" d="M345.72 494.5L340.87 490"/><path stroke-width="0.77" d="M335.65 485.25L330.64 480.75"/><path stroke-width="0.78" d="M325 475.75L319.57 471"/><path stroke-width="0.79" d="M314.08 466.25L308.25 461.25"/><path stroke-width="0.79" d="M302.37 456.25L296.45 451.25"/><path stroke-width="0.8" d="M290.22 446L284.26 441"/><path stroke-width="0.8" d="M278 435.75L272.04 430.75"/><path stroke-width="0.79" d="M265.8 425.5L263.13 423.25"/><path stroke-width="0.78" d="M402.95 503.5L399.01 499"/><path stroke-width="0.77" d="M394.97 494.5L390.82 490"/><path stroke-width="0.75" d="M386.34 485.25L381.98 480.75"/><path stroke-width="0.74" d="M377.03 475.75L372.21 471"/><path stroke-width="0.76" d="M367.29 466.25L362.01 461.25"/><path stroke-width="0.77" d="M356.63 456.25L351.16 451.25"/><path stroke-width="0.78" d="M345.33 446L339.7 441"/><path stroke-width="0.78" d="M333.71 435.75L327.96 430.75"/><path stroke-width="0.79" d="M321.87 425.5L315.75 420.25"/><path stroke-width="0.79" d="M309.3 414.75L303.14 409.5"/><path stroke-width="0.79" d="M296.68 404L290.52 398.75"/><path stroke-width="0.85" d="M443.69 503.5L440.52 499"/><path stroke-width="0.83" d="M437.24 494.5L433.86 490"/><path stroke-width="0.81" d="M430.18 485.25L426.58 480.75"/><path stroke-width="0.79" d="M422.46 475.75L418.42 471"/><path stroke-width="0.77" d="M414.26 466.25L409.76 461.25"/><path stroke-width="0.75" d="M405.12 456.25L400.36 451.25"/><path stroke-width="0.74" d="M395.23 446L390.22 441"/><path stroke-width="0.75" d="M384.83 435.75L379.6 430.75"/><path stroke-width="0.77" d="M374 425.5L368.3 420.25"/><path stroke-width="0.78" d="M362.23 414.75L356.37 409.5"/><path stroke-width="0.78" d="M350.15 404L344.16 398.75"/><path stroke-width="0.79" d="M337.85 393.25L331.5 387.75"/><path stroke-width="0.79" d="M325.13 382.25L318.77 376.75"/><path stroke-width="0.79" d="M312.12 371L309.52 368.75"/><path stroke-width="0.9" d="M478.18 503.5L475.69 499"/><path stroke-width="0.89" d="M473.11 494.5L470.44 490"/><path stroke-width="0.87" d="M467.51 485.25L464.65 480.75"/><path stroke-width="0.86" d="M461.34 475.75L458.09 471"/><path stroke-width="0.84" d="M454.72 466.25L451.05 461.25"/><path stroke-width="0.82" d="M447.24 456.25L443.3 451.25"/><path stroke-width="0.79" d="M439.01 446L434.8 441"/><path stroke-width="0.77" d="M430.22 435.75L425.73 430.75"/><path stroke-width="0.75" d="M420.87 425.5L415.87 420.25"/><path stroke-width="0.74" d="M410.49 414.75L405.22 409.5"/><path stroke-width="0.75" d="M399.58 404L394.07 398.75"/><path stroke-width="0.77" d="M388.2 393.25L382.23 387.75"/><path stroke-width="0.77" d="M376.17 382.25L370.04 376.75"/><path stroke-width="0.78" d="M363.57 371L357.33 365.5"/><path stroke-width="0.78" d="M350.79 359.75L344.22 354"/><path stroke-width="0.78" d="M337.66 348.25L331.67 343"/><path stroke-width="0.95" d="M507.47 503.5L505.54 499"/><path stroke-width="0.94" d="M503.54 494.5L501.47 490"/><path stroke-width="0.93" d="M499.2 485.25L496.96 480.75"/><path stroke-width="0.91" d="M494.38 475.75L491.83 471"/><path stroke-width="0.89" d="M489.18 466.25L486.27 461.25"/><path stroke-width="0.88" d="M483.25 456.25L480.11 451.25"/><path stroke-width="0.86" d="M476.67 446L473.26 441"/><path stroke-width="0.84" d="M469.54 435.75L465.86 430.75"/><path stroke-width="0.81" d="M461.84 425.5L457.68 420.25"/><path stroke-width="0.79" d="M453.15 414.75L448.68 409.5"/><path stroke-width="0.77" d="M443.83 404L439.05 398.75"/><path stroke-width="0.75" d="M433.89 393.25L428.59 387.75"/><path stroke-width="0.74" d="M423.14 382.25L417.56 376.75"/><path stroke-width="0.76" d="M411.59 371L405.78 365.5"/><path stroke-width="0.77" d="M399.59 359.75L393.32 354"/><path stroke-width="0.77" d="M386.97 348.25L380.29 342.25"/><path stroke-width="0.78" d="M373.84 336.5L367.08 330.5"/><path stroke-width="0.78" d="M360.32 324.5L353.57 318.5"/><path stroke-width="0.98" d="M532.53 503.5L531.06 499"/><path stroke-width="0.97" d="M529.54 494.5L527.96 490"/><path stroke-width="0.96" d="M526.22 485.25L524.51 480.75"/><path stroke-width="0.95" d="M522.53 475.75L520.57 471"/><path stroke-width="0.94" d="M518.52 466.25L516.28 461.25"/><path stroke-width="0.93" d="M513.93 456.25L511.48 451.25"/><path stroke-width="0.91" d="M508.8 446L506.12 441"/><path stroke-width="0.89" d="M503.19 435.75L500.27 430.75"/><path stroke-width="0.87" d="M497.07 425.5L493.73 420.25"/><path stroke-width="0.85" d="M490.08 414.75L486.44 409.5"/><path stroke-width="0.83" d="M482.46 404L478.51 398.75"/><path stroke-width="0.81" d="M474.2 393.25L469.73 387.75"/><path stroke-width="0.78" d="M465.09 382.25L460.28 376.75"/><path stroke-width="0.76" d="M455.08 371L449.94 365.5"/><path stroke-width="0.74" d="M444.41 359.75L438.74 354"/><path stroke-width="0.75" d="M432.92 348.25L426.71 342.25"/><path stroke-width="0.76" d="M420.64 336.5L414.21 330.5"/><path stroke-width="0.77" d="M407.69 324.5L401.11 318.5"/><path stroke-width="0.77" d="M394.47 312.5L387.81 306.5"/><path stroke-width="0.77" d="M380.85 300.25L374.18 294.25"/><path stroke-width="1" d="M554.2 503.5L553.1 499"/><path stroke-width="1" d="M551.96 494.5L550.78 490"/><path stroke-width="0.99" d="M549.48 485.25L548.19 480.75"/><path stroke-width="0.98" d="M546.7 475.75L545.22 471"/><path stroke-width="0.98" d="M543.67 466.25L541.97 461.25"/><path stroke-width="0.97" d="M540.18 456.25L538.31 451.25"/><path stroke-width="0.96" d="M536.26 446L534.2 441"/><path stroke-width="0.94" d="M531.94 435.75L529.69 430.75"/><path stroke-width="0.93" d="M527.21 425.5L524.6 420.25"/><path stroke-width="0.91" d="M521.74 414.75L518.87 409.5"/><path stroke-width="0.89" d="M515.72 404L512.56 398.75"/><path stroke-width="0.87" d="M509.11 393.25L505.49 387.75"/><path stroke-width="0.84" d="M501.7 382.25L497.74 376.75"/><path stroke-width="0.82" d="M493.42 371L489.11 365.5"/><path stroke-width="0.79" d="M484.42 359.75L479.54 354"/><path stroke-width="0.77" d="M474.49 348.25L469.03 342.25"/><path stroke-width="0.75" d="M463.62 336.5L457.81 330.5"/><path stroke-width="0.74" d="M451.85 324.5L445.74 318.5"/><path stroke-width="0.76" d="M439.51 312.5L433.16 306.5"/><path stroke-width="0.76" d="M426.46 300.25L419.96 294.25"/><path stroke-width="0.77" d="M413.13 288L406.55 282"/><path stroke-width="0.77" d="M399.68 275.75L394.46 271"/><path stroke-width="1.01" d="M573.13 503.5L572.33 499"/><path stroke-width="1.01" d="M571.51 494.5L570.64 490"/><path stroke-width="1.01" d="M569.69 485.25L568.75 480.75"/><path stroke-width="1" d="M567.65 475.75L566.56 471"/><path stroke-width="1" d="M565.41 466.25L564.15 461.25"/><path stroke-width="0.99" d="M562.82 456.25L561.43 451.25"/><path stroke-width="0.99" d="M559.89 446L558.35 441"/><path stroke-width="0.98" d="M556.65 435.75L554.94 430.75"/><path stroke-width="0.97" d="M553.06 425.5L551.07 420.25"/><path stroke-width="0.95" d="M548.88 414.75L546.68 409.5"/><path stroke-width="0.94" d="M544.24 404L541.8 398.75"/><path stroke-width="0.92" d="M539.1 393.25L536.26 387.75"/><path stroke-width="0.9" d="M533.27 382.25L530.13 376.75"/><path stroke-width="0.88" d="M526.67 371L523.19 365.5"/><path stroke-width="0.85" d="M519.38 359.75L515.38 354"/><path stroke-width="0.83" d="M511.19 348.25L506.61 342.25"/><path stroke-width="0.8" d="M502.03 336.5L497.05 330.5"/><path stroke-width="0.77" d="M491.86 324.5L486.49 318.5"/><path stroke-width="0.75" d="M480.93 312.5L475.2 306.5"/><path stroke-width="0.74" d="M469.06 300.25L463.01 294.25"/><path stroke-width="0.75" d="M456.59 288L450.31 282"/><path stroke-width="0.76" d="M443.68 275.75L436.97 269.5"/><path stroke-width="0.77" d="M430.22 263.25L423.71 257.25"/><path stroke-width="0.77" d="M416.92 251L414.21 248.5"/><path stroke-width="1.02" d="M589.83 503.5L589.28 499"/><path stroke-width="1.02" d="M588.71 494.5L588.1 490"/><path stroke-width="1.02" d="M587.43 485.25L586.77 480.75"/><path stroke-width="1.02" d="M585.99 475.75L585.22 471"/><path stroke-width="1.01" d="M584.4 466.25L583.5 461.25"/><path stroke-width="1.01" d="M582.54 456.25L581.53 451.25"/><path stroke-width="1.01" d="M580.41 446L579.29 441"/><path stroke-width="1" d="M578.04 435.75L576.78 430.75"/><path stroke-width="0.99" d="M575.39 425.5L573.92 420.25"/><path stroke-width="0.98" d="M572.28 414.75L570.63 409.5"/><path stroke-width="0.97" d="M568.8 404L566.95 398.75"/><path stroke-width="0.96" d="M564.9 393.25L562.73 387.75"/><path stroke-width="0.94" d="M560.43 382.25L558 376.75"/><path stroke-width="0.93" d="M555.32 371L552.6 365.5"/><path stroke-width="0.91" d="M549.6 359.75L546.43 354"/><path stroke-width="0.88" d="M543.08 348.25L539.39 342.25"/><path stroke-width="0.86" d="M535.67 336.5L531.58 330.5"/><path stroke-width="0.83" d="M527.28 324.5L522.77 318.5"/><path stroke-width="0.8" d="M518.05 312.5L513.12 306.5"/><path stroke-width="0.78" d="M507.78 300.25L502.44 294.25"/><path stroke-width="0.76" d="M496.69 288L491 282"/><path stroke-width="0.74" d="M484.89 275.75L478.64 269.5"/><path stroke-width="0.75" d="M472.26 263.25L466.02 257.25"/><path stroke-width="0.76" d="M459.44 251L452.8 244.75"/><path stroke-width="0.76" d="M446.11 238.5L439.4 232.25"/><path stroke-width="1.03" d="M604.7 503.5L604.36 499"/><path stroke-width="1.03" d="M603.99 494.5L603.6 490"/><path stroke-width="1.03" d="M603.16 485.25L602.73 480.75"/><path stroke-width="1.02" d="M602.21 475.75L601.69 471"/><path stroke-width="1.02" d="M601.15 466.25L600.53 461.25"/><path stroke-width="1.02" d="M599.88 456.25L599.19 451.25"/><path stroke-width="1.02" d="M598.41 446L597.62 441"/><path stroke-width="1.01" d="M596.75 435.75L595.86 430.75"/><path stroke-width="1.01" d="M594.87 425.5L593.81 420.25"/><path stroke-width="1" d="M592.63 414.75L591.43 409.5"/><path stroke-width="1" d="M590.09 404L588.73 398.75"/><path stroke-width="0.99" d="M587.22 393.25L585.61 387.75"/><path stroke-width="0.98" d="M583.89 382.25L582.07 376.75"/><path stroke-width="0.97" d="M580.04 371L577.97 365.5"/><path stroke-width="0.95" d="M575.68 359.75L573.23 354"/><path stroke-width="0.93" d="M570.64 348.25L567.76 342.25"/><path stroke-width="0.91" d="M564.83 336.5L561.59 330.5"/><path stroke-width="0.89" d="M558.16 324.5L554.52 318.5"/><path stroke-width="0.86" d="M550.68 312.5L546.62 306.5"/><path stroke-width="0.83" d="M542.17 300.25L537.68 294.25"/><path stroke-width="0.8" d="M532.78 288L527.86 282"/><path stroke-width="0.78" d="M522.52 275.75L516.97 269.5"/><path stroke-width="0.76" d="M511.22 263.25L505.53 257.25"/><path stroke-width="0.74" d="M499.44 251L493.21 244.75"/><path stroke-width="0.75" d="M486.85 238.5L480.39 232.25"/><path stroke-width="0.76" d="M473.85 226L467.26 219.75"/><path stroke-width="0.76" d="M460.63 213.5L453.99 207.25"/><path stroke-width="1.03" d="M618.05 503.5L617.87 499"/><path stroke-width="1.03" d="M617.67 494.5L617.46 490"/><path stroke-width="1.03" d="M617.22 485.25L616.97 480.75"/><path stroke-width="1.03" d="M616.67 475.75L616.37 471"/><path stroke-width="1.03" d="M616.04 466.25L615.67 461.25"/><path stroke-width="1.03" d="M615.26 456.25L614.83 451.25"/><path stroke-width="1.02" d="M614.33 446L613.83 441"/><path stroke-width="1.02" d="M613.25 435.75L612.66 430.75"/><path stroke-width="1.02" d="M612 425.5L611.29 420.25"/><path stroke-width="1.02" d="M610.48 414.75L609.65 409.5"/><path stroke-width="1.01" d="M608.72 404L607.76 398.75"/><path stroke-width="1.01" d="M606.69 393.25L605.54 387.75"/><path stroke-width="1" d="M604.3 382.25L602.97 376.75"/><path stroke-width="0.99" d="M601.49 371L599.97 365.5"/><path stroke-width="0.98" d="M598.26 359.75L596.44 354"/><path stroke-width="0.97" d="M594.49 348.25L592.31 342.25"/><path stroke-width="0.95" d="M590.07 336.5L587.58 330.5"/><path stroke-width="0.93" d="M584.92 324.5L582.08 318.5"/><path stroke-width="0.91" d="M579.05 312.5L575.84 306.5"/><path stroke-width="0.89" d="M572.27 300.25L568.64 294.25"/><path stroke-width="0.86" d="M564.63 288L560.56 282"/><path stroke-width="0.83" d="M556.09 275.75L551.39 269.5"/><path stroke-width="0.8" d="M546.46 263.25L541.51 257.25"/><path stroke-width="0.78" d="M536.14 251L530.56 244.75"/><path stroke-width="0.75" d="M524.8 238.5L518.85 232.25"/><path stroke-width="0.74" d="M512.75 226L506.52 219.75"/><path stroke-width="0.75" d="M500.17 213.5L493.74 207.25"/><path stroke-width="0.75" d="M487.23 201L480.69 194.75"/><path stroke-width="0.75" d="M474.12 188.5L470.44 185"/><path stroke-width="1.03" d="M630.12 503.5L630.08 499"/><path stroke-width="1.03" d="M630.02 494.5L629.96 490"/><path stroke-width="1.03" d="M629.88 485.25L629.79 480.75"/><path stroke-width="1.03" d="M629.67 475.75L629.54 471"/><path stroke-width="1.03" d="M629.4 466.25L629.22 461.25"/><path stroke-width="1.03" d="M629.03 456.25L628.81 451.25"/><path stroke-width="1.03" d="M628.54 446L628.27 441"/><path stroke-width="1.03" d="M627.94 435.75L627.6 430.75"/><path stroke-width="1.03" d="M627.21 425.5L626.78 420.25"/><path stroke-width="1.03" d="M626.28 414.75L625.75 409.5"/><path stroke-width="1.02" d="M625.15 404L624.53 398.75"/><path stroke-width="1.02" d="M623.82 393.25L623.04 387.75"/><path stroke-width="1.02" d="M622.2 382.25L621.29 376.75"/><path stroke-width="1.01" d="M620.25 371L619.18 365.5"/><path stroke-width="1" d="M617.96 359.75L616.65 354"/><path stroke-width="1" d="M615.24 348.25L613.64 342.25"/><path stroke-width="0.99" d="M611.99 336.5L610.13 330.5"/><path stroke-width="0.97" d="M608.14 324.5L605.99 318.5"/><path stroke-width="0.95" d="M603.68 312.5L601.21 306.5"/><path stroke-width="0.93" d="M598.44 300.25L595.6 294.25"/><path stroke-width="0.91" d="M592.43 288L589.19 282"/><path stroke-width="0.88" d="M585.6 275.75L581.77 269.5"/><path stroke-width="0.85" d="M577.71 263.25L573.59 257.25"/><path stroke-width="0.83" d="M569.07 251L564.31 244.75"/><path stroke-width="0.8" d="M559.32 238.5L554.1 232.25"/><path stroke-width="0.77" d="M548.67 226L543.04 219.75"/><path stroke-width="0.75" d="M537.23 213.5L531.25 207.25"/><path stroke-width="0.74" d="M525.13 201L518.89 194.75"/><path stroke-width="0.75" d="M512.54 188.5L506.13 182.25"/><path stroke-width="0.75" d="M499.66 176L492.91 169.5"/><path stroke-width="1.03" d="M641.1 503.5L641.17 499"/><path stroke-width="1.03" d="M641.24 494.5L641.3 490"/><path stroke-width="1.03" d="M641.36 485.25L641.4 480.75"/><path stroke-width="1.03" d="M641.44 475.75L641.46 471"/><path stroke-width="1.03" d="M641.46 466.25L641.46 461.25"/><path stroke-width="1.03" d="M641.43 456.25L641.39 451.25"/><path stroke-width="1.03" d="M641.32 446L641.24 441"/><path stroke-width="1.03" d="M641.13 435.75L640.99 430.75"/><path stroke-width="1.03" d="M640.82 425.5L640.62 420.25"/><path stroke-width="1.03" d="M640.38 414.75L640.11 409.5"/><path stroke-width="1.03" d="M639.78 404L639.43 398.75"/><path stroke-width="1.03" d="M639.02 393.25L638.56 387.75"/><path stroke-width="1.02" d="M638.04 382.25L637.46 376.75"/><path stroke-width="1.02" d="M636.8 371L636.1 365.5"/><path stroke-width="1.02" d="M635.29 359.75L634.4 354"/><path stroke-width="1.01" d="M633.43 348.25L632.31 342.25"/><path stroke-width="1.01" d="M631.15 336.5L629.83 330.5"/><path stroke-width="1" d="M628.39 324.5L626.82 318.5"/><path stroke-width="0.99" d="M625.12 312.5L623.28 306.5"/><path stroke-width="0.97" d="M621.21 300.25L619.05 294.25"/><path stroke-width="0.95" d="M616.64 288L614.14 282"/><path stroke-width="0.93" d="M611.34 275.75L608.33 269.5"/><path stroke-width="0.91" d="M605.11 263.25L601.81 257.25"/><path stroke-width="0.88" d="M598.14 251L594.24 244.75"/><path stroke-width="0.85" d="M590.1 238.5L585.72 232.25"/><path stroke-width="0.82" d="M581.1 226L576.25 219.75"/><path stroke-width="0.79" d="M571.16 213.5L565.86 207.25"/><path stroke-width="0.77" d="M560.35 201L554.65 194.75"/><path stroke-width="0.75" d="M548.78 188.5L542.76 182.25"/><path stroke-width="0.74" d="M536.61 176L530.1 169.5"/><path stroke-width="0.75" d="M523.77 163.25L517.37 157"/><path stroke-width="0.75" d="M510.95 150.75L505.54 145.5"/><path stroke-width="1.03" d="M651.14 503.5L651.32 499"/><path stroke-width="1.03" d="M651.49 494.5L651.66 490"/><path stroke-width="1.03" d="M651.83 485.25L651.98 480.75"/><path stroke-width="1.03" d="M652.15 475.75L652.3 471"/><path stroke-width="1.03" d="M652.43 466.25L652.57 461.25"/><path stroke-width="1.03" d="M652.69 456.25L652.8 451.25"/><path stroke-width="1.03" d="M652.9 446L652.97 441"/><path stroke-width="1.03" d="M653.04 435.75L653.08 430.75"/><path stroke-width="1.03" d="M653.1 425.5L653.09 420.25"/><path stroke-width="1.03" d="M653.06 414.75L653 409.5"/><path stroke-width="1.03" d="M652.91 404L652.78 398.75"/><path stroke-width="1.03" d="M652.62 393.25L652.41 387.75"/><path stroke-width="1.03" d="M652.17 382.25L651.87 376.75"/><path stroke-width="1.03" d="M651.52 371L651.12 365.5"/><path stroke-width="1.03" d="M650.65 359.75L650.11 354"/><path stroke-width="1.02" d="M649.5 348.25L648.79 342.25"/><path stroke-width="1.02" d="M648.03 336.5L647.15 330.5"/><path stroke-width="1.01" d="M646.17 324.5L645.09 318.5"/><path stroke-width="1.01" d="M643.9 312.5L642.59 306.5"/><path stroke-width="1" d="M641.1 300.25L639.53 294.25"/><path stroke-width="0.99" d="M637.75 288L635.89 282"/><path stroke-width="0.97" d="M633.79 275.75L631.5 269.5"/><path stroke-width="0.95" d="M629.03 263.25L626.47 257.25"/><path stroke-width="0.93" d="M623.61 251L620.52 244.75"/><path stroke-width="0.9" d="M617.21 238.5L613.67 232.25"/><path stroke-width="0.87" d="M609.9 226L605.88 219.75"/><path stroke-width="0.84" d="M601.62 213.5L597.12 207.25"/><path stroke-width="0.81" d="M592.38 201L587.41 194.75"/><path stroke-width="0.79" d="M582.21 188.5L576.8 182.25"/><path stroke-width="0.76" d="M571.2 176L565.18 169.5"/><path stroke-width="0.75" d="M559.24 163.25L553.17 157"/><path stroke-width="0.74" d="M546.99 150.75L540.47 144.25"/><path stroke-width="0.74" d="M534.14 138L527.53 131.5"/><path stroke-width="1.03" d="M660.38 503.5L660.64 499"/><path stroke-width="1.03" d="M660.9 494.5L661.16 490"/><path stroke-width="1.03" d="M661.43 485.25L661.68 480.75"/><path stroke-width="1.03" d="M661.96 475.75L662.21 471"/><path stroke-width="1.03" d="M662.46 466.25L662.72 461.25"/><path stroke-width="1.03" d="M662.97 456.25L663.2 451.25"/><path stroke-width="1.03" d="M663.44 446L663.65 441"/><path stroke-width="1.03" d="M663.87 435.75L664.05 430.75"/><path stroke-width="1.03" d="M664.23 425.5L664.39 420.25"/><path stroke-width="1.03" d="M664.54 414.75L664.66 409.5"/><path stroke-width="1.03" d="M664.76 404L664.83 398.75"/><path stroke-width="1.03" d="M664.87 393.25L664.89 387.75"/><path stroke-width="1.03" d="M664.87 382.25L664.81 376.75"/><path stroke-width="1.03" d="M664.71 371L664.57 365.5"/><path stroke-width="1.03" d="M664.37 359.75L664.13 354"/><path stroke-width="1.03" d="M663.83 348.25L663.45 342.25"/><path stroke-width="1.03" d="M663.03 336.5L662.51 330.5"/><path stroke-width="1.02" d="M661.92 324.5L661.24 318.5"/><path stroke-width="1.02" d="M660.47 312.5L659.61 306.5"/><path stroke-width="1.01" d="M658.6 300.25L657.52 294.25"/><path stroke-width="1.01" d="M656.28 288L654.95 282"/><path stroke-width="1" d="M653.44 275.75L651.77 269.5"/><path stroke-width="0.98" d="M649.95 263.25L648.04 257.25"/><path stroke-width="0.97" d="M645.87 251L643.51 244.75"/><path stroke-width="0.94" d="M640.96 238.5L638.2 232.25"/><path stroke-width="0.92" d="M635.22 226L632.02 219.75"/><path stroke-width="0.89" d="M628.58 213.5L624.91 207.25"/><path stroke-width="0.86" d="M620.99 201L616.83 194.75"/><path stroke-width="0.83" d="M612.43 188.5L607.78 182.25"/><path stroke-width="0.8" d="M602.89 176L597.57 169.5"/><path stroke-width="0.78" d="M592.24 163.25L586.7 157"/><path stroke-width="0.76" d="M580.99 150.75L574.89 144.25"/><path stroke-width="0.74" d="M568.88 138L562.51 131.5"/><path stroke-width="0.74" d="M556.31 125.25L550.04 119"/><path stroke-width="0.74" d="M543.49 112.5L539.19 108.25"/><path stroke-width="1.03" d="M668.91 503.5L669.25 499"/><path stroke-width="1.03" d="M669.59 494.5L669.92 490"/><path stroke-width="1.03" d="M670.28 485.25L670.61 480.75"/><path stroke-width="1.03" d="M670.99 475.75L671.33 471"/><path stroke-width="1.03" d="M671.68 466.25L672.04 461.25"/><path stroke-width="1.03" d="M672.39 456.25L672.74 451.25"/><path stroke-width="1.03" d="M673.1 446L673.43 441"/><path stroke-width="1.03" d="M673.77 435.75L674.08 430.75"/><path stroke-width="1.03" d="M674.4 425.5L674.7 420.25"/><path stroke-width="1.03" d="M675 414.75L675.27 409.5"/><path stroke-width="1.03" d="M675.53 404L675.77 398.75"/><path stroke-width="1.03" d="M675.99 393.25L676.19 387.75"/><path stroke-width="1.03" d="M676.36 382.25L676.5 376.75"/><path stroke-width="1.03" d="M676.61 371L676.69 365.5"/><path stroke-width="1.03" d="M676.73 359.75L676.73 354"/><path stroke-width="1.03" d="M676.69 348.25L676.59 342.25"/><path stroke-width="1.03" d="M676.44 336.5L676.23 330.5"/><path stroke-width="1.03" d="M675.96 324.5L675.62 318.5"/><path stroke-width="1.03" d="M675.2 312.5L674.71 306.5"/><path stroke-width="1.02" d="M674.11 300.25L673.44 294.25"/><path stroke-width="1.02" d="M672.64 288L671.77 282"/><path stroke-width="1.01" d="M670.75 275.75L669.6 269.5"/><path stroke-width="1.01" d="M668.32 263.25L666.96 257.25"/><path stroke-width="0.99" d="M665.39 251L663.67 244.75"/><path stroke-width="0.98" d="M661.77 238.5L659.7 232.25"/><path stroke-width="0.96" d="M657.43 226L654.96 219.75"/><path stroke-width="0.94" d="M652.29 213.5L649.4 207.25"/><path stroke-width="0.91" d="M646.28 201L642.93 194.75"/><path stroke-width="0.88" d="M639.33 188.5L635.49 182.25"/><path stroke-width="0.85" d="M631.41 176L626.89 169.5"/><path stroke-width="0.82" d="M622.31 163.25L617.48 157"/><path stroke-width="0.79" d="M612.42 150.75L606.94 144.25"/><path stroke-width="0.77" d="M601.46 138L595.57 131.5"/><path stroke-width="0.75" d="M589.75 125.25L583.79 119"/><path stroke-width="0.74" d="M577.48 112.5L571.33 106.25"/><path stroke-width="0.74" d="M564.87 99.75L558.63 93.5"/><path stroke-width="1.03" d="M676.82 503.5L677.23 499"/><path stroke-width="1.03" d="M677.63 494.5L678.04 490"/><path stroke-width="1.03" d="M678.47 485.25L678.88 480.75"/><path stroke-width="1.03" d="M679.33 475.75L679.76 471"/><path stroke-width="1.03" d="M680.19 466.25L680.64 461.25"/><path stroke-width="1.03" d="M681.09 456.25L681.53 451.25"/><path stroke-width="1.03" d="M681.99 446L682.42 441"/><path stroke-width="1.03" d="M682.87 435.75L683.29 430.75"/><path stroke-width="1.03" d="M683.73 425.5L684.15 420.25"/><path stroke-width="1.03" d="M684.58 414.75L684.98 409.5"/><path stroke-width="1.03" d="M685.39 404L685.76 398.75"/><path stroke-width="1.03" d="M686.13 393.25L686.48 387.75"/><path stroke-width="1.03" d="M686.82 382.25L687.13 376.75"/><path stroke-width="1.03" d="M687.43 371L687.69 365.5"/><path stroke-width="1.03" d="M687.93 359.75L688.13 354"/><path stroke-width="1.03" d="M688.31 348.25L688.44 342.25"/><path stroke-width="1.03" d="M688.53 336.5L688.58 330.5"/><path stroke-width="1.03" d="M688.58 324.5L688.52 318.5"/><path stroke-width="1.03" d="M688.4 312.5L688.22 306.5"/><path stroke-width="1.03" d="M687.95 300.25L687.63 294.25"/><path stroke-width="1.03" d="M687.2 288L686.71 282"/><path stroke-width="1.02" d="M686.1 275.75L685.39 269.5"/><path stroke-width="1.02" d="M684.57 263.25L683.67 257.25"/><path stroke-width="1.01" d="M682.61 251L681.42 244.75"/><path stroke-width="1" d="M680.08 238.5L678.59 232.25"/><path stroke-width="0.99" d="M676.94 226L675.12 219.75"/><path stroke-width="0.97" d="M673.11 213.5L670.92 207.25"/><path stroke-width="0.95" d="M668.52 201L665.92 194.75"/><path stroke-width="0.93" d="M663.09 188.5L660.03 182.25"/><path stroke-width="0.9" d="M656.74 176L653.06 169.5"/><path stroke-width="0.87" d="M649.27 163.25L645.22 157"/><path stroke-width="0.84" d="M640.93 150.75L636.2 144.25"/><path stroke-width="0.81" d="M631.41 138L626.19 131.5"/><path stroke-width="0.78" d="M620.95 125.25L615.51 119"/><path stroke-width="0.76" d="M609.66 112.5L603.88 106.25"/><path stroke-width="0.75" d="M597.72 99.75L591.7 93.5"/><path stroke-width="0.74" d="M585.35 87L578.94 80.5"/><path stroke-width="1.02" d="M684.19 503.5L684.65 499"/><path stroke-width="1.02" d="M685.12 494.5L685.58 490"/><path stroke-width="1.02" d="M686.08 485.25L686.55 480.75"/><path stroke-width="1.02" d="M687.08 475.75L687.58 471"/><path stroke-width="1.02" d="M688.08 466.25L688.61 461.25"/><path stroke-width="1.02" d="M689.13 456.25L689.66 451.25"/><path stroke-width="1.02" d="M690.21 446L690.73 441"/><path stroke-width="1.02" d="M691.28 435.75L691.79 430.75"/><path stroke-width="1.02" d="M692.33 425.5L692.86 420.25"/><path stroke-width="1.03" d="M693.4 414.75L693.91 409.5"/><path stroke-width="1.03" d="M694.44 404L694.93 398.75"/><path stroke-width="1.03" d="M695.43 393.25L695.92 387.75"/><path stroke-width="1.03" d="M696.4 382.25L696.85 376.75"/><path stroke-width="1.03" d="M697.31 371L697.72 365.5"/><path stroke-width="1.03" d="M698.13 359.75L698.52 354"/><path stroke-width="1.03" d="M698.87 348.25L699.21 342.25"/><path stroke-width="1.03" d="M699.5 336.5L699.77 330.5"/><path stroke-width="1.03" d="M699.99 324.5L700.17 318.5"/><path stroke-width="1.03" d="M700.3 312.5L700.38 306.5"/><path stroke-width="1.03" d="M700.4 300.25L700.36 294.25"/><path stroke-width="1.03" d="M700.25 288L700.08 282"/><path stroke-width="1.03" d="M699.82 275.75L699.47 269.5"/><path stroke-width="1.03" d="M699.04 263.25L698.52 257.25"/><path stroke-width="1.02" d="M697.89 251L697.14 244.75"/><path stroke-width="1.02" d="M696.28 238.5L695.28 232.25"/><path stroke-width="1.01" d="M694.15 226L692.88 219.75"/><path stroke-width="1" d="M691.45 213.5L689.86 207.25"/><path stroke-width="0.98" d="M688.1 201L686.15 194.75"/><path stroke-width="0.97" d="M684.01 188.5L681.67 182.25"/><path stroke-width="0.94" d="M679.11 176L676.21 169.5"/><path stroke-width="0.92" d="M673.19 163.25L669.93 157"/><path stroke-width="0.89" d="M666.42 150.75L662.51 144.25"/><path stroke-width="0.86" d="M658.48 138L654.04 131.5"/><path stroke-width="0.82" d="M649.51 125.25L644.74 119"/><path stroke-width="0.8" d="M639.53 112.5L634.31 106.25"/><path stroke-width="0.77" d="M628.67 99.75L623.06 93.5"/><path stroke-width="0.76" d="M617.07 87L610.95 80.5"/><path stroke-width="1.02" d="M691.07 503.5L691.58 499"/><path stroke-width="1.02" d="M692.1 494.5L692.62 490"/><path stroke-width="1.02" d="M693.17 485.25L693.7 480.75"/><path stroke-width="1.02" d="M694.29 475.75L694.85 471"/><path stroke-width="1.02" d="M695.42 466.25L696.02 461.25"/><path stroke-width="1.02" d="M696.62 456.25L697.22 451.25"/><path stroke-width="1.02" d="M697.85 446L698.44 441"/><path stroke-width="1.02" d="M699.07 435.75L699.67 430.75"/><path stroke-width="1.02" d="M700.29 425.5L700.91 420.25"/><path stroke-width="1.02" d="M701.56 414.75L702.17 409.5"/><path stroke-width="1.02" d="M702.8 404L703.39 398.75"/><path stroke-width="1.02" d="M704.01 393.25L704.61 387.75"/><path stroke-width="1.02" d="M705.21 382.25L705.79 376.75"/><path stroke-width="1.03" d="M706.38 371L706.93 365.5"/><path stroke-width="1.03" d="M707.49 359.75L708.02 354"/><path stroke-width="1.03" d="M708.54 348.25L709.05 342.25"/><path stroke-width="1.03" d="M709.51 336.5L709.96 330.5"/><path stroke-width="1.03" d="M710.38 324.5L710.76 318.5"/><path stroke-width="1.03" d="M711.1 312.5L711.4 306.5"/><path stroke-width="1.03" d="M711.67 300.25L711.87 294.25"/><path stroke-width="1.03" d="M712.03 288L712.12 282"/><path stroke-width="1.03" d="M712.16 275.75L712.12 269.5"/><path stroke-width="1.03" d="M712.01 263.25L711.82 257.25"/><path stroke-width="1.03" d="M711.54 251L711.17 244.75"/><path stroke-width="1.03" d="M710.71 238.5L710.13 232.25"/><path stroke-width="1.02" d="M709.44 226L708.63 219.75"/><path stroke-width="1.02" d="M707.7 213.5L706.62 207.25"/><path stroke-width="1.01" d="M705.4 201L704.02 194.75"/><path stroke-width="0.99" d="M702.47 188.5L700.75 182.25"/><path stroke-width="0.98" d="M698.84 176L696.65 169.5"/><path stroke-width="0.96" d="M694.33 163.25L691.79 157"/><path stroke-width="0.93" d="M689.03 150.75L685.91 144.25"/><path stroke-width="0.9" d="M682.65 138L679.01 131.5"/><path stroke-width="0.87" d="M675.24 125.25L671.22 119"/><path stroke-width="0.84" d="M666.77 112.5L662.24 106.25"/><path stroke-width="0.81" d="M657.27 99.75L652.26 93.5"/><path stroke-width="0.79" d="M646.83 87L641.19 80.5"/></g><g stroke="rgb(80,0,140)" stroke-dasharray="7.5 9"><polyline stroke-width="0.78" points="148.1,503.48 149.94,501.33 151.77,499.18 153.61,497.02 155.45,494.87 157.29,492.71 159.13,490.56 160.98,488.41 162.82,486.25 164.66,484.1 166.51,481.95 168.35,479.79 170.2,477.64 172.04,475.48 173.89,473.33 175.74,471.18 177.59,469.02 179.44,466.87 181.29,464.72 183.14,462.56 184.99,460.41 186.85,458.25 188.7,456.1 190.56,453.95 192.41,451.79 194.27,449.64 196.12,447.49 197.98,445.33 199.84,443.18 201.7,441.02 203.56,438.87 205.42,436.72 207.28,434.56 209.14,432.41 211.01,430.26 212.87,428.1 214.73,425.95 216.6,423.79 218.47,421.64 220.33,419.49 222.2,417.33 224.07,415.18 225.94,413.03 227.81,410.87 229.68,408.72 231.55,406.56 233.42,404.41 235.29,402.26 237.17,400.1 239.04,397.95 240.92,395.8 242.79,393.64 244.67,391.49 246.55,389.33 248.43,387.18 250.3,385.03 252.18,382.87 254.06,380.72 255.94,378.57 257.83,376.41 259.71,374.26 261.59,372.1 263.48,369.95 265.36,367.8 267.24,365.64 269.13,363.49 271.02,361.34 272.9,359.18 274.79,357.03 276.68,354.87 278.57,352.72 280.46,350.57 282.35,348.41 284.24,346.26 286.14,344.11 288.03,341.95 289.92,339.8 291.82,337.64 293.71,335.49 295.61,333.34 297.5,331.18 299.4,329.03 301.3,326.88 303.2,324.72 305.1,322.57 307,320.41 308.9,318.26 310.8,316.11 312.7,313.95 314.61,311.8 316.51,309.64 318.41,307.49 320.32,305.34 322.22,303.18 324.13,301.03 326.04,298.88 327.94,296.72 329.85,294.57 331.76,292.41 333.67,290.26 335.58,288.11 337.49,285.95 339.4,283.8 341.31,281.65 343.23,279.49 345.14,277.34 347.06,275.18 348.97,273.03 350.89,270.88 352.8,268.72 354.72,266.57 356.64,264.42 358.55,262.26 360.47,260.11 362.39,257.95 364.31,255.8 366.23,253.65 368.16,251.49 370.08,249.34 372,247.19 373.92,245.03 375.85,242.88 377.77,240.72 379.7,238.57 381.62,236.42 383.55,234.26 385.48,232.11 387.41,229.96 389.33,227.8 391.26,225.65 393.19,223.49 395.12,221.34 397.05,219.19 398.99,217.03 400.92,214.88 402.85,212.73 404.79,210.57 406.72,208.42 408.65,206.26 410.59,204.11 412.53,201.96 414.46,199.8 416.4,197.65 418.34,195.5 420.28,193.34 422.22,191.19 424.16,189.03 426.1,186.88 428.04,184.73 429.98,182.57 431.92,180.42 433.86,178.27 435.81,176.11 437.75,173.96 439.7,171.8 441.64,169.65 443.59,167.5 445.53,165.34 447.48,163.19 449.43,161.04 451.38,158.88 453.33,156.73 455.28,154.57 457.23,152.42 459.18,150.27 461.13,148.11 463.08,145.96 465.03,143.81 466.99,141.65 468.94,139.5 470.89,137.34 472.85,135.19 474.8,133.04 476.76,130.88 478.72,128.73 480.67,126.58 482.63,124.42 484.59,122.27 486.55,120.11 488.51,117.96 490.47,115.81 492.43,113.65 494.39,111.5 496.35,109.35 498.32,107.19 500.28,105.04 502.24,102.88 504.21,100.73 506.17,98.58 508.14,96.42 510.1,94.27 512.07,92.12 514.04,89.96 516,87.81 517.97,85.65 519.94,83.5 521.91,81.35 523.88,79.19 525.85,77.04 527.82,74.88"/><polyline stroke-width="0.79" points="194.35,503.48 196.14,501.33 197.93,499.18 199.71,497.02 201.5,494.87 203.29,492.71 205.09,490.56 206.88,488.41 208.67,486.25 210.46,484.1 212.26,481.95 214.06,479.79 215.85,477.64 217.65,475.48 219.45,473.33 221.25,471.18 223.05,469.02 224.85,466.87 226.65,464.72 228.45,462.56 230.26,460.41 232.06,458.25 233.87,456.1 235.67,453.95 237.48,451.79 239.29,449.64 241.1,447.49 242.91,445.33 244.72,443.18 246.53,441.02 248.34,438.87 250.16,436.72 251.97,434.56 253.79,432.41 255.6,430.26 257.42,428.1 259.24,425.95 261.05,423.79 262.87,421.64 264.69,419.49 266.51,417.33 268.34,415.18 270.16,413.03 271.98,410.87 273.81,408.72 275.63,406.56 277.46,404.41 279.28,402.26 281.11,400.1 282.94,397.95 284.77,395.8 286.6,393.64 288.43,391.49 290.26,389.33 292.09,387.18 293.93,385.03 295.76,382.87 297.6,380.72 299.43,378.57 301.27,376.41 303.11,374.26 304.95,372.1 306.78,369.95 308.62,367.8 310.46,365.64 312.31,363.49 314.15,361.34 315.99,359.18 317.84,357.03 319.68,354.87 321.53,352.72 323.37,350.57 325.22,348.41 327.07,346.26 328.92,344.11 330.76,341.95 332.61,339.8 334.47,337.64 336.32,335.49 338.17,333.34 340.02,331.18 341.88,329.03 343.73,326.88 345.59,324.72 347.44,322.57 349.3,320.41 351.16,318.26 353.02,316.11 354.88,313.95 356.74,311.8 358.6,309.64 360.46,307.49 362.32,305.34 364.19,303.18 366.05,301.03 367.92,298.88 369.78,296.72 371.65,294.57 373.51,292.41 375.38,290.26 377.25,288.11 379.12,285.95 380.99,283.8 382.86,281.65 384.73,279.49 386.61,277.34 388.48,275.18 390.35,273.03 392.23,270.88 394.1,268.72 395.98,266.57 397.85,264.42 399.73,262.26 401.61,260.11 403.49,257.95 405.37,255.8 407.25,253.65 409.13,251.49 411.01,249.34 412.9,247.19 414.78,245.03 416.66,242.88 418.55,240.72 420.43,238.57 422.32,236.42 424.21,234.26 426.09,232.11 427.98,229.96 429.87,227.8 431.76,225.65 433.65,223.49 435.54,221.34 437.43,219.19 439.33,217.03 441.22,214.88 443.11,212.73 445.01,210.57 446.9,208.42 448.8,206.26 450.7,204.11 452.59,201.96 454.49,199.8 456.39,197.65 458.29,195.5 460.19,193.34 462.09,191.19 463.99,189.03 465.9,186.88 467.8,184.73 469.7,182.57 471.61,180.42 473.51,178.27 475.42,176.11 477.32,173.96 479.23,171.8 481.14,169.65 483.05,167.5 484.96,165.34 486.87,163.19 488.78,161.04 490.69,158.88 492.6,156.73 494.51,154.57 496.43,152.42 498.34,150.27 500.25,148.11 502.17,145.96 504.08,143.81 506,141.65 507.92,139.5 509.84,137.34 511.75,135.19 513.67,133.04 515.59,130.88 517.51,128.73 519.43,126.58 521.36,124.42 523.28,122.27 525.2,120.11 527.13,117.96 529.05,115.81 530.97,113.65 532.9,111.5 534.83,109.35 536.75,107.19 538.68,105.04 540.61,102.88 542.54,100.73 544.47,98.58 546.4,96.42 548.33,94.27 550.26,92.12 552.19,89.96 554.12,87.81 556.06,85.65 557.99,83.5 559.92,81.35 561.86,79.19 563.8,77.04 565.73,74.88"/><polyline stroke-width="0.8" points="260.34,503.48 262.05,501.33 263.76,499.18 265.48,497.02 267.19,494.87 268.9,492.71 270.62,490.56 272.34,488.41 274.06,486.25 275.78,484.1 277.5,481.95 279.22,479.79 280.94,477.64 282.66,475.48 284.39,473.33 286.11,471.18 287.84,469.02 289.57,466.87 291.29,464.72 293.02,462.56 294.75,460.41 296.49,458.25 298.22,456.1 299.95,453.95 301.69,451.79 303.42,449.64 305.16,447.49 306.9,445.33 308.63,443.18 310.37,441.02 312.11,438.87 313.86,436.72 315.6,434.56 317.34,432.41 319.09,430.26 320.83,428.1 322.58,425.95 324.33,423.79 326.07,421.64 327.82,419.49 329.57,417.33 331.33,415.18 333.08,413.03 334.83,410.87 336.59,408.72 338.34,406.56 340.1,404.41 341.85,402.26 343.61,400.1 345.37,397.95 347.13,395.8 348.89,393.64 350.66,391.49 352.42,389.33 354.18,387.18 355.95,385.03 357.71,382.87 359.48,380.72 361.25,378.57 363.02,376.41 364.79,374.26 366.56,372.1 368.33,369.95 370.1,367.8 371.88,365.64 373.65,363.49 375.42,361.34 377.2,359.18 378.98,357.03 380.76,354.87 382.54,352.72 384.32,350.57 386.1,348.41 387.88,346.26 389.66,344.11 391.44,341.95 393.23,339.8 395.01,337.64 396.8,335.49 398.59,333.34 400.38,331.18 402.17,329.03 403.96,326.88 405.75,324.72 407.54,322.57 409.33,320.41 411.12,318.26 412.92,316.11 414.71,313.95 416.51,311.8 418.31,309.64 420.11,307.49 421.9,305.34 423.7,303.18 425.5,301.03 427.31,298.88 429.11,296.72 430.91,294.57 432.72,292.41 434.52,290.26 436.33,288.11 438.13,285.95 439.94,283.8 441.75,281.65 443.56,279.49 445.37,277.34 447.18,275.18 448.99,273.03 450.81,270.88 452.62,268.72 454.43,266.57 456.25,264.42 458.07,262.26 459.88,260.11 461.7,257.95 463.52,255.8 465.34,253.65 467.16,251.49 468.98,249.34 470.8,247.19 472.63,245.03 474.45,242.88 476.28,240.72 478.1,238.57 479.93,236.42 481.75,234.26 483.58,232.11 485.41,229.96 487.24,227.8 489.07,225.65 490.9,223.49 492.73,221.34 494.57,219.19 496.4,217.03 498.24,214.88 500.07,212.73 501.91,210.57 503.74,208.42 505.58,206.26 507.42,204.11 509.26,201.96 511.1,199.8 512.94,197.65 514.78,195.5 516.63,193.34 518.47,191.19 520.31,189.03 522.16,186.88 524,184.73 525.85,182.57 527.7,180.42 529.55,178.27 531.4,176.11 533.25,173.96 535.1,171.8 536.95,169.65 538.8,167.5 540.65,165.34 542.51,163.19 544.36,161.04 546.22,158.88 548.07,156.73 549.93,154.57 551.79,152.42 553.65,150.27 555.5,148.11 557.36,145.96 559.22,143.81 561.09,141.65 562.95,139.5 564.81,137.34 566.67,135.19 568.54,133.04 570.4,130.88 572.27,128.73 574.14,126.58 576,124.42 577.87,122.27 579.74,120.11 581.61,117.96 583.48,115.81 585.35,113.65 587.23,111.5 589.1,109.35 590.97,107.19 592.85,105.04 594.72,102.88 596.6,100.73 598.47,98.58 600.35,96.42 602.23,94.27 604.11,92.12 605.99,89.96 607.87,87.81 609.75,85.65 611.63,83.5 613.51,81.35 615.39,79.19 617.28,77.04 619.16,74.88"/><polyline stroke-width="0.81" points="314.42,503.48 316.06,501.33 317.71,499.18 319.35,497.02 321,494.87 322.65,492.71 324.3,490.56 325.95,488.41 327.61,486.25 329.26,484.1 330.92,481.95 332.57,479.79 334.23,477.64 335.89,475.48 337.55,473.33 339.21,471.18 340.87,469.02 342.54,466.87 344.2,464.72 345.87,462.56 347.53,460.41 349.2,458.25 350.87,456.1 352.54,453.95 354.21,451.79 355.89,449.64 357.56,447.49 359.23,445.33 360.91,443.18 362.59,441.02 364.27,438.87 365.95,436.72 367.63,434.56 369.31,432.41 370.99,430.26 372.68,428.1 374.36,425.95 376.05,423.79 377.73,421.64 379.42,419.49 381.11,417.33 382.8,415.18 384.49,413.03 386.19,410.87 387.88,408.72 389.58,406.56 391.27,404.41 392.97,402.26 394.67,400.1 396.37,397.95 398.07,395.8 399.77,393.64 401.47,391.49 403.17,389.33 404.88,387.18 406.58,385.03 408.29,382.87 410,380.72 411.71,378.57 413.42,376.41 415.13,374.26 416.84,372.1 418.56,369.95 420.27,367.8 421.99,365.64 423.7,363.49 425.42,361.34 427.14,359.18 428.86,357.03 430.58,354.87 432.3,352.72 434.02,350.57 435.75,348.41 437.47,346.26 439.2,344.11 440.92,341.95 442.65,339.8 444.38,337.64 446.11,335.49 447.84,333.34 449.57,331.18 451.3,329.03 453.04,326.88 454.77,324.72 456.51,322.57 458.25,320.41 459.98,318.26 461.72,316.11 463.46,313.95 465.2,311.8 466.95,309.64 468.69,307.49 470.43,305.34 472.18,303.18 473.92,301.03 475.67,298.88 477.42,296.72 479.17,294.57 480.92,292.41 482.67,290.26 484.42,288.11 486.17,285.95 487.93,283.8 489.68,281.65 491.44,279.49 493.19,277.34 494.95,275.18 496.71,273.03 498.47,270.88 500.23,268.72 501.99,266.57 503.76,264.42 505.52,262.26 507.28,260.11 509.05,257.95 510.81,255.8 512.58,253.65 514.35,251.49 516.12,249.34 517.89,247.19 519.66,245.03 521.43,242.88 523.21,240.72 524.98,238.57 526.75,236.42 528.53,234.26 530.31,232.11 532.08,229.96 533.86,227.8 535.64,225.65 537.42,223.49 539.2,221.34 540.99,219.19 542.77,217.03 544.55,214.88 546.34,212.73 548.12,210.57 549.91,208.42 551.7,206.26 553.49,204.11 555.28,201.96 557.07,199.8 558.86,197.65 560.65,195.5 562.44,193.34 564.24,191.19 566.03,189.03 567.83,186.88 569.62,184.73 571.42,182.57 573.22,180.42 575.02,178.27 576.82,176.11 578.62,173.96 580.42,171.8 582.22,169.65 584.03,167.5 585.83,165.34 587.64,163.19 589.44,161.04 591.25,158.88 593.06,156.73 594.87,154.57 596.68,152.42 598.49,150.27 600.3,148.11 602.11,145.96 603.93,143.81 605.74,141.65 607.55,139.5 609.37,137.34 611.19,135.19 613,133.04 614.82,130.88 616.64,128.73 618.46,126.58 620.28,124.42 622.1,122.27 623.93,120.11 625.75,117.96 627.57,115.81 629.4,113.65 631.23,111.5 633.05,109.35 634.88,107.19 636.71,105.04 638.54,102.88 640.37,100.73 642.2,98.58 644.03,96.42 645.86,94.27 647.7,92.12 649.53,89.96 651.36,87.81 653.2,85.65 655.04,83.5 656.87,81.35 658.71,79.19 660.55,77.04 662.39,74.88"/><polyline stroke-width="0.81" points="347.89,503.48 349.5,501.33 351.1,499.18 352.7,497.02 354.31,494.87 355.92,492.71 357.53,490.56 359.14,488.41 360.75,486.25 362.36,484.1 363.97,481.95 365.59,479.79 367.21,477.64 368.82,475.48 370.44,473.33 372.06,471.18 373.68,469.02 375.31,466.87 376.93,464.72 378.55,462.56 380.18,460.41 381.81,458.25 383.44,456.1 385.07,453.95 386.7,451.79 388.33,449.64 389.96,447.49 391.6,445.33 393.23,443.18 394.87,441.02 396.51,438.87 398.15,436.72 399.79,434.56 401.43,432.41 403.08,430.26 404.72,428.1 406.37,425.95 408.01,423.79 409.66,421.64 411.31,419.49 412.96,417.33 414.61,415.18 416.26,413.03 417.92,410.87 419.57,408.72 421.23,406.56 422.89,404.41 424.54,402.26 426.2,400.1 427.87,397.95 429.53,395.8 431.19,393.64 432.86,391.49 434.52,389.33 436.19,387.18 437.86,385.03 439.52,382.87 441.19,380.72 442.87,378.57 444.54,376.41 446.21,374.26 447.89,372.1 449.56,369.95 451.24,367.8 452.92,365.64 454.6,363.49 456.28,361.34 457.96,359.18 459.64,357.03 461.32,354.87 463.01,352.72 464.69,350.57 466.38,348.41 468.07,346.26 469.76,344.11 471.45,341.95 473.14,339.8 474.83,337.64 476.53,335.49 478.22,333.34 479.92,331.18 481.61,329.03 483.31,326.88 485.01,324.72 486.71,322.57 488.41,320.41 490.12,318.26 491.82,316.11 493.52,313.95 495.23,311.8 496.94,309.64 498.64,307.49 500.35,305.34 502.06,303.18 503.77,301.03 505.48,298.88 507.2,296.72 508.91,294.57 510.63,292.41 512.34,290.26 514.06,288.11 515.78,285.95 517.5,283.8 519.22,281.65 520.94,279.49 522.66,277.34 524.38,275.18 526.11,273.03 527.83,270.88 529.56,268.72 531.29,266.57 533.02,264.42 534.75,262.26 536.48,260.11 538.21,257.95 539.94,255.8 541.68,253.65 543.41,251.49 545.15,249.34 546.88,247.19 548.62,245.03 550.36,242.88 552.1,240.72 553.84,238.57 555.58,236.42 557.32,234.26 559.07,232.11 560.81,229.96 562.56,227.8 564.3,225.65 566.05,223.49 567.8,221.34 569.55,219.19 571.3,217.03 573.05,214.88 574.81,212.73 576.56,210.57 578.31,208.42 580.07,206.26 581.83,204.11 583.58,201.96 585.34,199.8 587.1,197.65 588.86,195.5 590.62,193.34 592.38,191.19 594.15,189.03 595.91,186.88 597.68,184.73 599.44,182.57 601.21,180.42 602.98,178.27 604.75,176.11 606.52,173.96 608.29,171.8 610.06,169.65 611.83,167.5 613.61,165.34 615.38,163.19 617.16,161.04 618.93,158.88 620.71,156.73 622.49,154.57 624.27,152.42 626.05,150.27 627.83,148.11 629.61,145.96 631.39,143.81 633.18,141.65 634.96,139.5 636.75,137.34 638.53,135.19 640.32,133.04 642.11,130.88 643.9,128.73 645.69,126.58 647.48,124.42 649.27,122.27 651.06,120.11 652.86,117.96 654.65,115.81 656.45,113.65 658.24,111.5 660.04,109.35 661.84,107.19 663.64,105.04 665.44,102.88 667.24,100.73 669.04,98.58 670.84,96.42 672.65,94.27 674.45,92.12 676.26,89.96 678.06,87.81 679.87,85.65 681.68,83.5 683.49,81.35 685.3,79.19 687.11,77.04 688.92,74.88"/><polyline stroke-width="0.82" points="372.53,503.48 374.1,501.33 375.68,499.18 377.25,497.02 378.82,494.87 380.4,492.71 381.98,490.56 383.55,488.41 385.13,486.25 386.72,484.1 388.3,481.95 389.88,479.79 391.47,477.64 393.05,475.48 394.64,473.33 396.23,471.18 397.82,469.02 399.41,466.87 401,464.72 402.6,462.56 404.19,460.41 405.79,458.25 407.39,456.1 408.99,453.95 410.59,451.79 412.19,449.64 413.79,447.49 415.4,445.33 417,443.18 418.61,441.02 420.22,438.87 421.83,436.72 423.44,434.56 425.05,432.41 426.67,430.26 428.28,428.1 429.9,425.95 431.51,423.79 433.13,421.64 434.75,419.49 436.37,417.33 437.99,415.18 439.62,413.03 441.24,410.87 442.87,408.72 444.5,406.56 446.12,404.41 447.75,402.26 449.38,400.1 451.02,397.95 452.65,395.8 454.28,393.64 455.92,391.49 457.56,389.33 459.19,387.18 460.83,385.03 462.47,382.87 464.12,380.72 465.76,378.57 467.4,376.41 469.05,374.26 470.69,372.1 472.34,369.95 473.99,367.8 475.64,365.64 477.29,363.49 478.94,361.34 480.6,359.18 482.25,357.03 483.91,354.87 485.57,352.72 487.22,350.57 488.88,348.41 490.54,346.26 492.21,344.11 493.87,341.95 495.53,339.8 497.2,337.64 498.86,335.49 500.53,333.34 502.2,331.18 503.87,329.03 505.54,326.88 507.21,324.72 508.89,322.57 510.56,320.41 512.24,318.26 513.91,316.11 515.59,313.95 517.27,311.8 518.95,309.64 520.63,307.49 522.31,305.34 524,303.18 525.68,301.03 527.37,298.88 529.05,296.72 530.74,294.57 532.43,292.41 534.12,290.26 535.81,288.11 537.5,285.95 539.2,283.8 540.89,281.65 542.59,279.49 544.28,277.34 545.98,275.18 547.68,273.03 549.38,270.88 551.08,268.72 552.78,266.57 554.49,264.42 556.19,262.26 557.89,260.11 559.6,257.95 561.31,255.8 563.02,253.65 564.73,251.49 566.44,249.34 568.15,247.19 569.86,245.03 571.57,242.88 573.29,240.72 575.01,238.57 576.72,236.42 578.44,234.26 580.16,232.11 581.88,229.96 583.6,227.8 585.32,225.65 587.05,223.49 588.77,221.34 590.49,219.19 592.22,217.03 593.95,214.88 595.68,212.73 597.41,210.57 599.14,208.42 600.87,206.26 602.6,204.11 604.33,201.96 606.07,199.8 607.8,197.65 609.54,195.5 611.28,193.34 613.02,191.19 614.76,189.03 616.5,186.88 618.24,184.73 619.98,182.57 621.72,180.42 623.47,178.27 625.21,176.11 626.96,173.96 628.71,171.8 630.45,169.65 632.2,167.5 633.95,165.34 635.71,163.19 637.46,161.04 639.21,158.88 640.97,156.73 642.72,154.57 644.48,152.42 646.23,150.27 647.99,148.11 649.75,145.96 651.51,143.81 653.27,141.65 655.03,139.5 656.8,137.34 658.56,135.19 660.33,133.04 662.09,130.88 663.86,128.73 665.63,126.58 667.4,124.42 669.16,122.27 670.94,120.11 672.71,117.96 674.48,115.81 676.25,113.65 678.03,111.5 679.8,109.35 681.58,107.19 683.36,105.04 685.13,102.88 686.91,100.73 688.69,98.58 690.47,96.42 692.25,94.27 694.04,92.12 695.82,89.96 697.6,87.81 699.39,85.65 701.18,83.5 702.96,81.35 704.75,79.19 706.54,77.04 708.33,74.88"/><polyline stroke-width="0.82" points="408.58,503.48 410.1,501.33 411.63,499.18 413.15,497.02 414.68,494.87 416.21,492.71 417.74,490.56 419.27,488.41 420.8,486.25 422.33,484.1 423.87,481.95 425.41,479.79 426.95,477.64 428.49,475.48 430.03,473.33 431.57,471.18 433.11,469.02 434.66,466.87 436.21,464.72 437.75,462.56 439.3,460.41 440.85,458.25 442.41,456.1 443.96,453.95 445.52,451.79 447.07,449.64 448.63,447.49 450.19,445.33 451.75,443.18 453.31,441.02 454.87,438.87 456.44,436.72 458.01,434.56 459.57,432.41 461.14,430.26 462.71,428.1 464.28,425.95 465.86,423.79 467.43,421.64 469.01,419.49 470.58,417.33 472.16,415.18 473.74,413.03 475.32,410.87 476.9,408.72 478.49,406.56 480.07,404.41 481.66,402.26 483.24,400.1 484.83,397.95 486.42,395.8 488.02,393.64 489.61,391.49 491.2,389.33 492.8,387.18 494.39,385.03 495.99,382.87 497.59,380.72 499.19,378.57 500.79,376.41 502.4,374.26 504,372.1 505.61,369.95 507.21,367.8 508.82,365.64 510.43,363.49 512.04,361.34 513.65,359.18 515.27,357.03 516.88,354.87 518.5,352.72 520.11,350.57 521.73,348.41 523.35,346.26 524.97,344.11 526.59,341.95 528.22,339.8 529.84,337.64 531.47,335.49 533.09,333.34 534.72,331.18 536.35,329.03 537.98,326.88 539.61,324.72 541.25,322.57 542.88,320.41 544.51,318.26 546.15,316.11 547.79,313.95 549.43,311.8 551.07,309.64 552.71,307.49 554.35,305.34 556,303.18 557.64,301.03 559.29,298.88 560.94,296.72 562.58,294.57 564.23,292.41 565.88,290.26 567.54,288.11 569.19,285.95 570.84,283.8 572.5,281.65 574.16,279.49 575.82,277.34 577.47,275.18 579.14,273.03 580.8,270.88 582.46,268.72 584.12,266.57 585.79,264.42 587.45,262.26 589.12,260.11 590.79,257.95 592.46,255.8 594.13,253.65 595.8,251.49 597.48,249.34 599.15,247.19 600.82,245.03 602.5,242.88 604.18,240.72 605.86,238.57 607.54,236.42 609.22,234.26 610.9,232.11 612.58,229.96 614.27,227.8 615.95,225.65 617.64,223.49 619.33,221.34 621.02,219.19 622.71,217.03 624.4,214.88 626.09,212.73 627.78,210.57 629.48,208.42 631.17,206.26 632.87,204.11 634.57,201.96 636.26,199.8 637.96,197.65 639.66,195.5 641.37,193.34 643.07,191.19 644.77,189.03 646.48,186.88 648.18,184.73 649.89,182.57 651.6,180.42 653.31,178.27 655.02,176.11 656.73,173.96 658.44,171.8 660.16,169.65 661.87,167.5 663.59,165.34 665.3,163.19 667.02,161.04 668.74,158.88 670.46,156.73 672.18,154.57 673.9,152.42 675.63,150.27 677.35,148.11 679.07,145.96 680.8,143.81 682.53,141.65 684.26,139.5 685.99,137.34 687.72,135.19 689.45,133.04 691.18,130.88 692.91,128.73 694.65,126.58 696.38,124.42 698.12,122.27 699.85,120.11 701.59,117.96 703.33,115.81 705.07,113.65 706.81,111.5 708.56,109.35 710.3,107.19 712.04,105.04 713.79,102.88 715.54,100.73 717.28,98.58 719.03,96.42 720.78,94.27 722.53,92.12 724.28,89.96 726.03,87.81 727.79,85.65 729.54,83.5 731.3,81.35 733.05,79.19 734.81,77.04 736.57,74.88"/><polyline stroke-width="0.83" points="435.13,503.48 436.62,501.33 438.11,499.18 439.6,497.02 441.09,494.87 442.58,492.71 444.07,490.56 445.57,488.41 447.07,486.25 448.57,484.1 450.07,481.95 451.57,479.79 453.07,477.64 454.58,475.48 456.08,473.33 457.59,471.18 459.1,469.02 460.61,466.87 462.12,464.72 463.63,462.56 465.15,460.41 466.67,458.25 468.18,456.1 469.7,453.95 471.22,451.79 472.75,449.64 474.27,447.49 475.8,445.33 477.32,443.18 478.85,441.02 480.38,438.87 481.91,436.72 483.44,434.56 484.98,432.41 486.51,430.26 488.05,428.1 489.59,425.95 491.13,423.79 492.67,421.64 494.21,419.49 495.75,417.33 497.3,415.18 498.84,413.03 500.39,410.87 501.94,408.72 503.49,406.56 505.04,404.41 506.6,402.26 508.15,400.1 509.71,397.95 511.27,395.8 512.82,393.64 514.39,391.49 515.95,389.33 517.51,387.18 519.07,385.03 520.64,382.87 522.21,380.72 523.78,378.57 525.35,376.41 526.92,374.26 528.49,372.1 530.06,369.95 531.64,367.8 533.21,365.64 534.79,363.49 536.37,361.34 537.95,359.18 539.53,357.03 541.12,354.87 542.7,352.72 544.29,350.57 545.88,348.41 547.46,346.26 549.05,344.11 550.64,341.95 552.24,339.8 553.83,337.64 555.43,335.49 557.02,333.34 558.62,331.18 560.22,329.03 561.82,326.88 563.42,324.72 565.02,322.57 566.63,320.41 568.23,318.26 569.84,316.11 571.45,313.95 573.06,311.8 574.67,309.64 576.28,307.49 577.89,305.34 579.5,303.18 581.12,301.03 582.74,298.88 584.35,296.72 585.97,294.57 587.59,292.41 589.22,290.26 590.84,288.11 592.46,285.95 594.09,283.8 595.71,281.65 597.34,279.49 598.97,277.34 600.6,275.18 602.23,273.03 603.87,270.88 605.5,268.72 607.14,266.57 608.77,264.42 610.41,262.26 612.05,260.11 613.69,257.95 615.33,255.8 616.97,253.65 618.62,251.49 620.26,249.34 621.91,247.19 623.55,245.03 625.2,242.88 626.85,240.72 628.5,238.57 630.15,236.42 631.81,234.26 633.46,232.11 635.12,229.96 636.77,227.8 638.43,225.65 640.09,223.49 641.75,221.34 643.41,219.19 645.07,217.03 646.74,214.88 648.4,212.73 650.07,210.57 651.74,208.42 653.4,206.26 655.07,204.11 656.74,201.96 658.41,199.8 660.09,197.65 661.76,195.5 663.44,193.34 665.11,191.19 666.79,189.03 668.47,186.88 670.15,184.73 671.83,182.57 673.51,180.42 675.19,178.27 676.88,176.11 678.56,173.96 680.25,171.8 681.94,169.65 683.62,167.5 685.31,165.34 687.01,163.19 688.7,161.04 690.39,158.88 692.08,156.73 693.78,154.57 695.47,152.42 697.17,150.27 698.87,148.11 700.57,145.96 702.27,143.81 703.97,141.65 705.67,139.5 707.38,137.34 709.08,135.19 710.79,133.04 712.5,130.88 714.2,128.73 715.91,126.58 717.62,124.42 719.33,122.27 721.05,120.11 722.76,117.96 724.47,115.81 726.19,113.65 727.91,111.5 729.62,109.35 731.34,107.19 733.06,105.04 734.78,102.88 736.5,100.73 738.23,98.58 739.95,96.42 741.68,94.27 743.4,92.12 745.13,89.96 746.86,87.81 748.59,85.65 750.32,83.5 752.05,81.35 753.78,79.19 755.51,77.04 757.25,74.88"/><polyline stroke-width="0.84" points="473.99,503.48 475.42,501.33 476.86,499.18 478.29,497.02 479.73,494.87 481.17,492.71 482.61,490.56 484.06,488.41 485.5,486.25 486.95,484.1 488.39,481.95 489.84,479.79 491.29,477.64 492.74,475.48 494.2,473.33 495.65,471.18 497.11,469.02 498.57,466.87 500.03,464.72 501.49,462.56 502.95,460.41 504.42,458.25 505.89,456.1 507.35,453.95 508.82,451.79 510.29,449.64 511.77,447.49 513.24,445.33 514.72,443.18 516.19,441.02 517.67,438.87 519.15,436.72 520.64,434.56 522.12,432.41 523.6,430.26 525.09,428.1 526.58,425.95 528.07,423.79 529.56,421.64 531.05,419.49 532.55,417.33 534.04,415.18 535.54,413.03 537.04,410.87 538.54,408.72 540.04,406.56 541.54,404.41 543.05,402.26 544.55,400.1 546.06,397.95 547.57,395.8 549.08,393.64 550.59,391.49 552.11,389.33 553.62,387.18 555.14,385.03 556.66,382.87 558.17,380.72 559.7,378.57 561.22,376.41 562.74,374.26 564.27,372.1 565.79,369.95 567.32,367.8 568.85,365.64 570.38,363.49 571.91,361.34 573.45,359.18 574.98,357.03 576.52,354.87 578.06,352.72 579.6,350.57 581.14,348.41 582.68,346.26 584.22,344.11 585.77,341.95 587.31,339.8 588.86,337.64 590.41,335.49 591.96,333.34 593.51,331.18 595.07,329.03 596.62,326.88 598.18,324.72 599.74,322.57 601.29,320.41 602.85,318.26 604.42,316.11 605.98,313.95 607.54,311.8 609.11,309.64 610.68,307.49 612.24,305.34 613.81,303.18 615.39,301.03 616.96,298.88 618.53,296.72 620.11,294.57 621.68,292.41 623.26,290.26 624.84,288.11 626.42,285.95 628,283.8 629.59,281.65 631.17,279.49 632.76,277.34 634.34,275.18 635.93,273.03 637.52,270.88 639.11,268.72 640.71,266.57 642.3,264.42 643.89,262.26 645.49,260.11 647.09,257.95 648.69,255.8 650.29,253.65 651.89,251.49 653.49,249.34 655.09,247.19 656.7,245.03 658.31,242.88 659.91,240.72 661.52,238.57 663.13,236.42 664.74,234.26 666.36,232.11 667.97,229.96 669.59,227.8 671.2,225.65 672.82,223.49 674.44,221.34 676.06,219.19 677.68,217.03 679.31,214.88 680.93,212.73 682.55,210.57 684.18,208.42 685.81,206.26 687.44,204.11 689.07,201.96 690.7,199.8 692.33,197.65 693.97,195.5 695.6,193.34 697.24,191.19 698.88,189.03 700.51,186.88 702.15,184.73 703.79,182.57 705.44,180.42 707.08,178.27 708.73,176.11 710.37,173.96 712.02,171.8 713.67,169.65 715.32,167.5 716.97,165.34 718.62,163.19 720.27,161.04 721.93,158.88 723.58,156.73 725.24,154.57 726.9,152.42 728.55,150.27 730.22,148.11 731.88,145.96 733.54,143.81 735.2,141.65 736.87,139.5 738.53,137.34 740.2,135.19 741.87,133.04 743.54,130.88 745.21,128.73 746.88,126.58 748.55,124.42 750.23,122.27 751.9,120.11 753.58,117.96 755.25,115.81 756.93,113.65 758.61,111.5 760.29,109.35 761.97,107.19 763.66,105.04 765.34,102.88 767.03,100.73 768.71,98.58 770.4,96.42 772.09,94.27 773.78,92.12 775.47,89.96 777.16,87.81 778.85,85.65 780.55,83.5 782.24,81.35 783.94,79.19 785.64,77.04 787.33,74.88"/><polyline stroke-width="0.84" points="502.61,503.48 504.01,501.33 505.4,499.18 506.8,497.02 508.19,494.87 509.59,492.71 510.99,490.56 512.4,488.41 513.8,486.25 515.21,484.1 516.61,481.95 518.02,479.79 519.43,477.64 520.85,475.48 522.26,473.33 523.68,471.18 525.1,469.02 526.52,466.87 527.94,464.72 529.36,462.56 530.78,460.41 532.21,458.25 533.64,456.1 535.07,453.95 536.5,451.79 537.93,449.64 539.37,447.49 540.8,445.33 542.24,443.18 543.68,441.02 545.12,438.87 546.56,436.72 548.01,434.56 549.45,432.41 550.9,430.26 552.35,428.1 553.8,425.95 555.25,423.79 556.7,421.64 558.16,419.49 559.62,417.33 561.07,415.18 562.53,413.03 564,410.87 565.46,408.72 566.92,406.56 568.39,404.41 569.86,402.26 571.33,400.1 572.8,397.95 574.27,395.8 575.75,393.64 577.22,391.49 578.7,389.33 580.18,387.18 581.66,385.03 583.14,382.87 584.62,380.72 586.11,378.57 587.59,376.41 589.08,374.26 590.57,372.1 592.06,369.95 593.55,367.8 595.05,365.64 596.54,363.49 598.04,361.34 599.54,359.18 601.04,357.03 602.54,354.87 604.04,352.72 605.55,350.57 607.05,348.41 608.56,346.26 610.07,344.11 611.58,341.95 613.09,339.8 614.61,337.64 616.12,335.49 617.64,333.34 619.16,331.18 620.67,329.03 622.2,326.88 623.72,324.72 625.24,322.57 626.77,320.41 628.29,318.26 629.82,316.11 631.35,313.95 632.88,311.8 634.41,309.64 635.95,307.49 637.48,305.34 639.02,303.18 640.56,301.03 642.09,298.88 643.64,296.72 645.18,294.57 646.72,292.41 648.27,290.26 649.81,288.11 651.36,285.95 652.91,283.8 654.46,281.65 656.01,279.49 657.56,277.34 659.12,275.18 660.68,273.03 662.23,270.88 663.79,268.72 665.35,266.57 666.91,264.42 668.48,262.26 670.04,260.11 671.61,257.95 673.17,255.8 674.74,253.65 676.31,251.49 677.88,249.34 679.45,247.19 681.03,245.03 682.6,242.88 684.18,240.72 685.76,238.57 687.34,236.42 688.92,234.26 690.5,232.11 692.08,229.96 693.67,227.8 695.25,225.65 696.84,223.49 698.43,221.34 700.02,219.19 701.61,217.03 703.2,214.88 704.79,212.73 706.39,210.57 707.98,208.42 709.58,206.26 711.18,204.11 712.78,201.96 714.38,199.8 715.98,197.65 717.59,195.5 719.19,193.34 720.8,191.19 722.41,189.03 724.02,186.88 725.63,184.73 727.24,182.57 728.85,180.42 730.46,178.27 732.08,176.11 733.7,173.96 735.31,171.8 736.93,169.65 738.55,167.5 740.17,165.34 741.8,163.19 743.42,161.04 745.05,158.88 746.67,156.73 748.3,154.57 749.93,152.42 751.56,150.27 753.19,148.11 754.82,145.96 756.46,143.81 758.09,141.65 759.73,139.5 761.37,137.34 763,135.19 764.64,133.04 766.29,130.88 767.93,128.73 769.57,126.58 771.22,124.42 772.86,122.27 774.51,120.11 776.16,117.96 777.81,115.81 779.46,113.65 781.11,111.5 782.76,109.35 784.42,107.19 786.07,105.04 787.73,102.88 789.39,100.73 791.04,98.58 792.7,96.42 794.37,94.27 796.03,92.12 797.69,89.96 799.36,87.81 801.02,85.65 802.69,83.5 804.36,81.35 806.03,79.19 807.7,77.04 809.37,74.88"/><polyline stroke-width="0.85" points="525.43,503.48 526.79,501.33 528.15,499.18 529.51,497.02 530.88,494.87 532.24,492.71 533.61,490.56 534.98,488.41 536.35,486.25 537.73,484.1 539.1,481.95 540.48,479.79 541.86,477.64 543.24,475.48 544.62,473.33 546.01,471.18 547.39,469.02 548.78,466.87 550.17,464.72 551.56,462.56 552.96,460.41 554.35,458.25 555.75,456.1 557.15,453.95 558.54,451.79 559.95,449.64 561.35,447.49 562.75,445.33 564.16,443.18 565.57,441.02 566.98,438.87 568.39,436.72 569.81,434.56 571.22,432.41 572.64,430.26 574.06,428.1 575.48,425.95 576.9,423.79 578.32,421.64 579.75,419.49 581.17,417.33 582.6,415.18 584.03,413.03 585.46,410.87 586.9,408.72 588.33,406.56 589.77,404.41 591.21,402.26 592.65,400.1 594.09,397.95 595.53,395.8 596.98,393.64 598.42,391.49 599.87,389.33 601.32,387.18 602.77,385.03 604.22,382.87 605.68,380.72 607.13,378.57 608.59,376.41 610.05,374.26 611.51,372.1 612.97,369.95 614.44,367.8 615.9,365.64 617.37,363.49 618.84,361.34 620.31,359.18 621.78,357.03 623.25,354.87 624.73,352.72 626.2,350.57 627.68,348.41 629.16,346.26 630.64,344.11 632.12,341.95 633.61,339.8 635.09,337.64 636.58,335.49 638.07,333.34 639.56,331.18 641.05,329.03 642.54,326.88 644.04,324.72 645.53,322.57 647.03,320.41 648.53,318.26 650.03,316.11 651.53,313.95 653.04,311.8 654.54,309.64 656.05,307.49 657.56,305.34 659.07,303.18 660.58,301.03 662.09,298.88 663.6,296.72 665.12,294.57 666.64,292.41 668.15,290.26 669.67,288.11 671.19,285.95 672.72,283.8 674.24,281.65 675.77,279.49 677.29,277.34 678.82,275.18 680.35,273.03 681.88,270.88 683.42,268.72 684.95,266.57 686.49,264.42 688.02,262.26 689.56,260.11 691.1,257.95 692.64,255.8 694.18,253.65 695.73,251.49 697.27,249.34 698.82,247.19 700.37,245.03 701.92,242.88 703.47,240.72 705.02,238.57 706.58,236.42 708.13,234.26 709.69,232.11 711.25,229.96 712.81,227.8 714.37,225.65 715.93,223.49 717.49,221.34 719.06,219.19 720.62,217.03 722.19,214.88 723.76,212.73 725.33,210.57 726.9,208.42 728.47,206.26 730.05,204.11 731.62,201.96 733.2,199.8 734.78,197.65 736.36,195.5 737.94,193.34 739.52,191.19 741.1,189.03 742.69,186.88 744.28,184.73 745.86,182.57 747.45,180.42 749.04,178.27 750.63,176.11 752.23,173.96 753.82,171.8 755.42,169.65 757.01,167.5 758.61,165.34 760.21,163.19 761.81,161.04 763.41,158.88 765.01,156.73 766.62,154.57 768.22,152.42 769.83,150.27 771.44,148.11 773.05,145.96 774.66,143.81 776.27,141.65 777.88,139.5 779.5,137.34 781.11,135.19 782.73,133.04 784.35,130.88 785.97,128.73 787.59,126.58 789.21,124.42 790.84,122.27 792.46,120.11 794.09,117.96 795.71,115.81 797.34,113.65 798.97,111.5 800.6,109.35 802.23,107.19 803.87,105.04 805.5,102.88 807.14,100.73 808.77,98.58 810.41,96.42 812.05,94.27 813.69,92.12 815.33,89.96 816.97,87.81 818.62,85.65 820.26,83.5 821.91,81.35 823.56,79.19 825.2,77.04 826.85,74.88"/><polyline stroke-width="0.85" points="544.47,503.48 545.8,501.33 547.13,499.18 548.47,497.02 549.81,494.87 551.14,492.71 552.49,490.56 553.83,488.41 555.17,486.25 556.52,484.1 557.87,481.95 559.22,479.79 560.57,477.64 561.93,475.48 563.28,473.33 564.64,471.18 566,469.02 567.36,466.87 568.72,464.72 570.09,462.56 571.45,460.41 572.82,458.25 574.19,456.1 575.56,453.95 576.94,451.79 578.31,449.64 579.69,447.49 581.07,445.33 582.45,443.18 583.83,441.02 585.22,438.87 586.6,436.72 587.99,434.56 589.38,432.41 590.77,430.26 592.16,428.1 593.56,425.95 594.95,423.79 596.35,421.64 597.75,419.49 599.15,417.33 600.55,415.18 601.96,413.03 603.37,410.87 604.77,408.72 606.18,406.56 607.6,404.41 609.01,402.26 610.42,400.1 611.84,397.95 613.26,395.8 614.68,393.64 616.1,391.49 617.52,389.33 618.95,387.18 620.37,385.03 621.8,382.87 623.23,380.72 624.66,378.57 626.1,376.41 627.53,374.26 628.97,372.1 630.4,369.95 631.84,367.8 633.29,365.64 634.73,363.49 636.17,361.34 637.62,359.18 639.07,357.03 640.52,354.87 641.97,352.72 643.42,350.57 644.87,348.41 646.33,346.26 647.79,344.11 649.24,341.95 650.71,339.8 652.17,337.64 653.63,335.49 655.1,333.34 656.56,331.18 658.03,329.03 659.5,326.88 660.97,324.72 662.45,322.57 663.92,320.41 665.4,318.26 666.87,316.11 668.35,313.95 669.83,311.8 671.31,309.64 672.8,307.49 674.28,305.34 675.77,303.18 677.26,301.03 678.75,298.88 680.24,296.72 681.73,294.57 683.23,292.41 684.72,290.26 686.22,288.11 687.72,285.95 689.22,283.8 690.72,281.65 692.22,279.49 693.73,277.34 695.24,275.18 696.74,273.03 698.25,270.88 699.76,268.72 701.28,266.57 702.79,264.42 704.3,262.26 705.82,260.11 707.34,257.95 708.86,255.8 710.38,253.65 711.9,251.49 713.43,249.34 714.95,247.19 716.48,245.03 718.01,242.88 719.54,240.72 721.07,238.57 722.6,236.42 724.13,234.26 725.67,232.11 727.21,229.96 728.74,227.8 730.28,225.65 731.82,223.49 733.37,221.34 734.91,219.19 736.46,217.03 738,214.88 739.55,212.73 741.1,210.57 742.65,208.42 744.2,206.26 745.76,204.11 747.31,201.96 748.87,199.8 750.43,197.65 751.98,195.5 753.55,193.34 755.11,191.19 756.67,189.03 758.23,186.88 759.8,184.73 761.37,182.57 762.94,180.42 764.51,178.27 766.08,176.11 767.65,173.96 769.22,171.8 770.8,169.65 772.38,167.5 773.95,165.34 775.53,163.19 777.11,161.04 778.7,158.88 780.28,156.73 781.86,154.57 783.45,152.42 785.04,150.27 786.63,148.11 788.22,145.96 789.81,143.81 791.4,141.65 792.99,139.5 794.59,137.34 796.19,135.19 797.78,133.04 799.38,130.88 800.98,128.73 802.58,126.58 804.19,124.42 805.79,122.27 807.4,120.11 809,117.96 810.61,115.81 812.22,113.65 813.83,111.5 815.44,109.35 817.06,107.19 818.67,105.04 820.29,102.88 821.9,100.73 823.52,98.58 825.14,96.42 826.76,94.27 828.38,92.12 830,89.96 831.63,87.81 833.25,85.65 834.88,83.5 836.51,81.35 838.14,79.19 839.77,77.04 841.4,74.88"/><polyline stroke-width="0.86" points="568.26,503.48 569.55,501.33 570.85,499.18 572.15,497.02 573.46,494.87 574.76,492.71 576.07,490.56 577.38,488.41 578.69,486.25 580,484.1 581.31,481.95 582.63,479.79 583.95,477.64 585.27,475.48 586.59,473.33 587.91,471.18 589.24,469.02 590.57,466.87 591.89,464.72 593.23,462.56 594.56,460.41 595.89,458.25 597.23,456.1 598.57,453.95 599.91,451.79 601.25,449.64 602.6,447.49 603.94,445.33 605.29,443.18 606.64,441.02 607.99,438.87 609.34,436.72 610.7,434.56 612.05,432.41 613.41,430.26 614.77,428.1 616.13,425.95 617.5,423.79 618.86,421.64 620.23,419.49 621.6,417.33 622.97,415.18 624.34,413.03 625.72,410.87 627.1,408.72 628.47,406.56 629.85,404.41 631.23,402.26 632.62,400.1 634,397.95 635.39,395.8 636.78,393.64 638.17,391.49 639.56,389.33 640.95,387.18 642.35,385.03 643.75,382.87 645.15,380.72 646.55,378.57 647.95,376.41 649.35,374.26 650.76,372.1 652.16,369.95 653.57,367.8 654.98,365.64 656.4,363.49 657.81,361.34 659.23,359.18 660.64,357.03 662.06,354.87 663.48,352.72 664.91,350.57 666.33,348.41 667.76,346.26 669.18,344.11 670.61,341.95 672.04,339.8 673.47,337.64 674.91,335.49 676.34,333.34 677.78,331.18 679.22,329.03 680.66,326.88 682.1,324.72 683.55,322.57 684.99,320.41 686.44,318.26 687.89,316.11 689.34,313.95 690.79,311.8 692.24,309.64 693.7,307.49 695.15,305.34 696.61,303.18 698.07,301.03 699.53,298.88 700.99,296.72 702.46,294.57 703.92,292.41 705.39,290.26 706.86,288.11 708.33,285.95 709.8,283.8 711.28,281.65 712.75,279.49 714.23,277.34 715.71,275.18 717.19,273.03 718.67,270.88 720.15,268.72 721.64,266.57 723.12,264.42 724.61,262.26 726.1,260.11 727.59,257.95 729.08,255.8 730.58,253.65 732.07,251.49 733.57,249.34 735.07,247.19 736.57,245.03 738.07,242.88 739.57,240.72 741.07,238.57 742.58,236.42 744.09,234.26 745.59,232.11 747.1,229.96 748.62,227.8 750.13,225.65 751.64,223.49 753.16,221.34 754.68,219.19 756.2,217.03 757.72,214.88 759.24,212.73 760.76,210.57 762.29,208.42 763.81,206.26 765.34,204.11 766.87,201.96 768.4,199.8 769.93,197.65 771.46,195.5 773,193.34 774.53,191.19 776.07,189.03 777.61,186.88 779.15,184.73 780.69,182.57 782.24,180.42 783.78,178.27 785.33,176.11 786.87,173.96 788.42,171.8 789.97,169.65 791.52,167.5 793.08,165.34 794.63,163.19 796.19,161.04 797.74,158.88 799.3,156.73 800.86,154.57 802.42,152.42 803.99,150.27 805.55,148.11 807.11,145.96 808.68,143.81 810.25,141.65 811.82,139.5 813.39,137.34 814.96,135.19 816.53,133.04 818.11,130.88 819.69,128.73 821.26,126.58 822.84,124.42 824.42,122.27 826,120.11 827.59,117.96 829.17,115.81 830.75,113.65 832.34,111.5 833.93,109.35 835.52,107.19 837.11,105.04 838.7,102.88 840.29,100.73 841.89,98.58 843.48,96.42 845.08,94.27 846.68,92.12 848.28,89.96 849.88,87.81 851.48,85.65 853.09,83.5 854.69,81.35 856.3,79.19 857.9,77.04 859.51,74.88"/><polyline stroke-width="0.86" points="599.7,503.48 600.96,501.33 602.21,499.18 603.46,497.02 604.72,494.87 605.98,492.71 607.24,490.56 608.5,488.41 609.76,486.25 611.03,484.1 612.3,481.95 613.57,479.79 614.84,477.64 616.12,475.48 617.39,473.33 618.67,471.18 619.95,469.02 621.23,466.87 622.52,464.72 623.8,462.56 625.09,460.41 626.38,458.25 627.67,456.1 628.97,453.95 630.26,451.79 631.56,449.64 632.86,447.49 634.16,445.33 635.46,443.18 636.77,441.02 638.08,438.87 639.39,436.72 640.7,434.56 642.01,432.41 643.32,430.26 644.64,428.1 645.96,425.95 647.28,423.79 648.6,421.64 649.93,419.49 651.25,417.33 652.58,415.18 653.91,413.03 655.24,410.87 656.58,408.72 657.91,406.56 659.25,404.41 660.59,402.26 661.93,400.1 663.27,397.95 664.62,395.8 665.96,393.64 667.31,391.49 668.66,389.33 670.01,387.18 671.37,385.03 672.72,382.87 674.08,380.72 675.44,378.57 676.8,376.41 678.16,374.26 679.53,372.1 680.89,369.95 682.26,367.8 683.63,365.64 685,363.49 686.37,361.34 687.75,359.18 689.13,357.03 690.5,354.87 691.89,352.72 693.27,350.57 694.65,348.41 696.04,346.26 697.42,344.11 698.81,341.95 700.2,339.8 701.6,337.64 702.99,335.49 704.39,333.34 705.78,331.18 707.18,329.03 708.58,326.88 709.99,324.72 711.39,322.57 712.8,320.41 714.21,318.26 715.61,316.11 717.03,313.95 718.44,311.8 719.85,309.64 721.27,307.49 722.69,305.34 724.11,303.18 725.53,301.03 726.95,298.88 728.38,296.72 729.8,294.57 731.23,292.41 732.66,290.26 734.09,288.11 735.52,285.95 736.96,283.8 738.39,281.65 739.83,279.49 741.27,277.34 742.71,275.18 744.15,273.03 745.6,270.88 747.04,268.72 748.49,266.57 749.94,264.42 751.39,262.26 752.84,260.11 754.3,257.95 755.75,255.8 757.21,253.65 758.67,251.49 760.13,249.34 761.59,247.19 763.05,245.03 764.52,242.88 765.98,240.72 767.45,238.57 768.92,236.42 770.39,234.26 771.87,232.11 773.34,229.96 774.82,227.8 776.29,225.65 777.77,223.49 779.25,221.34 780.73,219.19 782.22,217.03 783.7,214.88 785.19,212.73 786.68,210.57 788.17,208.42 789.66,206.26 791.15,204.11 792.64,201.96 794.14,199.8 795.64,197.65 797.14,195.5 798.64,193.34 800.14,191.19 801.64,189.03 803.14,186.88 804.65,184.73 806.16,182.57 807.67,180.42 809.18,178.27 810.69,176.11 812.2,173.96 813.72,171.8 815.23,169.65 816.75,167.5 818.27,165.34 819.79,163.19 821.31,161.04 822.84,158.88 824.36,156.73 825.89,154.57 827.42,152.42 828.95,150.27 830.48,148.11 832.01,145.96 833.54,143.81 835.08,141.65 836.62,139.5 838.15,137.34 839.69,135.19 841.23,133.04 842.78,130.88 844.32,128.73 845.86,126.58 847.41,124.42 848.96,122.27 850.51,120.11 852.06,117.96 853.61,115.81 855.16,113.65 856.72,111.5 858.27,109.35 859.83,107.19 861.39,105.04 862.95,102.88 864.51,100.73 866.08,98.58 867.64,96.42 869.21,94.27 870.77,92.12 872.34,89.96 873.91,87.81 875.48,85.65 877.05,83.5 878.63,81.35 880.2,79.19 881.78,77.04 883.36,74.88"/><polyline stroke-width="0.87" points="624.68,503.48 625.89,501.33 627.11,499.18 628.32,497.02 629.54,494.87 630.76,492.71 631.99,490.56 633.21,488.41 634.44,486.25 635.67,484.1 636.9,481.95 638.13,479.79 639.37,477.64 640.61,475.48 641.85,473.33 643.09,471.18 644.33,469.02 645.58,466.87 646.83,464.72 648.08,462.56 649.33,460.41 650.58,458.25 651.84,456.1 653.09,453.95 654.35,451.79 655.62,449.64 656.88,447.49 658.15,445.33 659.41,443.18 660.68,441.02 661.96,438.87 663.23,436.72 664.51,434.56 665.78,432.41 667.06,430.26 668.34,428.1 669.63,425.95 670.91,423.79 672.2,421.64 673.49,419.49 674.78,417.33 676.08,415.18 677.37,413.03 678.67,410.87 679.97,408.72 681.27,406.56 682.57,404.41 683.88,402.26 685.18,400.1 686.49,397.95 687.8,395.8 689.12,393.64 690.43,391.49 691.75,389.33 693.06,387.18 694.38,385.03 695.71,382.87 697.03,380.72 698.36,378.57 699.68,376.41 701.01,374.26 702.34,372.1 703.68,369.95 705.01,367.8 706.35,365.64 707.69,363.49 709.03,361.34 710.37,359.18 711.71,357.03 713.06,354.87 714.41,352.72 715.76,350.57 717.11,348.41 718.46,346.26 719.82,344.11 721.17,341.95 722.53,339.8 723.89,337.64 725.26,335.49 726.62,333.34 727.99,331.18 729.35,329.03 730.72,326.88 732.09,324.72 733.47,322.57 734.84,320.41 736.22,318.26 737.6,316.11 738.98,313.95 740.36,311.8 741.74,309.64 743.13,307.49 744.51,305.34 745.9,303.18 747.29,301.03 748.68,298.88 750.08,296.72 751.47,294.57 752.87,292.41 754.27,290.26 755.67,288.11 757.07,285.95 758.48,283.8 759.88,281.65 761.29,279.49 762.7,277.34 764.11,275.18 765.52,273.03 766.94,270.88 768.35,268.72 769.77,266.57 771.19,264.42 772.61,262.26 774.03,260.11 775.46,257.95 776.88,255.8 778.31,253.65 779.74,251.49 781.17,249.34 782.6,247.19 784.04,245.03 785.47,242.88 786.91,240.72 788.35,238.57 789.79,236.42 791.23,234.26 792.67,232.11 794.12,229.96 795.57,227.8 797.02,225.65 798.47,223.49 799.92,221.34 801.37,219.19 802.83,217.03 804.28,214.88 805.74,212.73 807.2,210.57 808.66,208.42 810.12,206.26 811.59,204.11 813.05,201.96 814.52,199.8 815.99,197.65 817.46,195.5 818.93,193.34 820.41,191.19 821.88,189.03 823.36,186.88 824.84,184.73 826.32,182.57 827.8,180.42 829.28,178.27 830.77,176.11 832.25,173.96 833.74,171.8 835.23,169.65 836.72,167.5 838.21,165.34 839.71,163.19 841.2,161.04 842.7,158.88 844.2,156.73 845.7,154.57 847.2,152.42 848.7,150.27 850.21,148.11 851.71,145.96 853.22,143.81 854.73,141.65 856.24,139.5 857.75,137.34 859.26,135.19 860.78,133.04 862.29,130.88 863.81,128.73 865.33,126.58 866.85,124.42 868.37,122.27 869.9,120.11 871.42,117.96 872.95,115.81 874.47,113.65 876,111.5 877.53,109.35 879.07,107.19 880.6,105.04 882.13,102.88 883.67,100.73 885.21,98.58 886.75,96.42 888.29,94.27 889.83,92.12 891.37,89.96 892.92,87.81 894.46,85.65 896.01,83.5 897.56,81.35 899.11,79.19 900.66,77.04 902.21,74.88"/><polyline stroke-width="0.87" points="645.44,503.48 646.62,501.33 647.81,499.18 648.99,497.02 650.18,494.87 651.37,492.71 652.56,490.56 653.75,488.41 654.95,486.25 656.15,484.1 657.35,481.95 658.55,479.79 659.76,477.64 660.96,475.48 662.17,473.33 663.38,471.18 664.6,469.02 665.81,466.87 667.03,464.72 668.25,462.56 669.47,460.41 670.69,458.25 671.92,456.1 673.15,453.95 674.38,451.79 675.61,449.64 676.84,447.49 678.08,445.33 679.32,443.18 680.56,441.02 681.8,438.87 683.04,436.72 684.29,434.56 685.54,432.41 686.79,430.26 688.04,428.1 689.29,425.95 690.55,423.79 691.81,421.64 693.07,419.49 694.33,417.33 695.59,415.18 696.86,413.03 698.13,410.87 699.4,408.72 700.67,406.56 701.95,404.41 703.22,402.26 704.5,400.1 705.78,397.95 707.06,395.8 708.35,393.64 709.63,391.49 710.92,389.33 712.21,387.18 713.5,385.03 714.8,382.87 716.09,380.72 717.39,378.57 718.69,376.41 719.99,374.26 721.29,372.1 722.6,369.95 723.91,367.8 725.22,365.64 726.53,363.49 727.84,361.34 729.16,359.18 730.47,357.03 731.79,354.87 733.11,352.72 734.43,350.57 735.76,348.41 737.08,346.26 738.41,344.11 739.74,341.95 741.07,339.8 742.41,337.64 743.74,335.49 745.08,333.34 746.42,331.18 747.76,329.03 749.1,326.88 750.45,324.72 751.79,322.57 753.14,320.41 754.49,318.26 755.84,316.11 757.2,313.95 758.55,311.8 759.91,309.64 761.27,307.49 762.63,305.34 763.99,303.18 765.36,301.03 766.72,298.88 768.09,296.72 769.46,294.57 770.83,292.41 772.21,290.26 773.58,288.11 774.96,285.95 776.34,283.8 777.72,281.65 779.1,279.49 780.48,277.34 781.87,275.18 783.25,273.03 784.64,270.88 786.03,268.72 787.43,266.57 788.82,264.42 790.22,262.26 791.61,260.11 793.01,257.95 794.41,255.8 795.82,253.65 797.22,251.49 798.63,249.34 800.04,247.19 801.45,245.03 802.86,242.88 804.27,240.72 805.68,238.57 807.1,236.42 808.52,234.26 809.94,232.11 811.36,229.96 812.78,227.8 814.21,225.65 815.63,223.49 817.06,221.34 818.49,219.19 819.92,217.03 821.35,214.88 822.79,212.73 824.22,210.57 825.66,208.42 827.1,206.26 828.54,204.11 829.98,201.96 831.43,199.8 832.87,197.65 834.32,195.5 835.77,193.34 837.22,191.19 838.67,189.03 840.13,186.88 841.58,184.73 843.04,182.57 844.5,180.42 845.96,178.27 847.42,176.11 848.88,173.96 850.35,171.8 851.81,169.65 853.28,167.5 854.75,165.34 856.22,163.19 857.7,161.04 859.17,158.88 860.65,156.73 862.12,154.57 863.6,152.42 865.08,150.27 866.56,148.11 868.05,145.96 869.53,143.81 871.02,141.65 872.51,139.5 874,137.34 875.49,135.19 876.98,133.04 878.47,130.88 879.97,128.73 881.47,126.58 882.96,124.42 884.47,122.27 885.97,120.11 887.47,117.96 888.97,115.81 890.48,113.65 891.99,111.5 893.5,109.35 895.01,107.19 896.52,105.04 898.03,102.88 899.55,100.73 901.06,98.58 902.58,96.42 904.1,94.27 905.62,92.12 907.14,89.96 908.67,87.81 910.19,85.65 911.72,83.5 913.25,81.35 914.78,79.19 916.31,77.04 917.84,74.88"/><polyline stroke-width="0.88" points="678.79,503.48 679.92,501.33 681.06,499.18 682.19,497.02 683.33,494.87 684.46,492.71 685.61,490.56 686.75,488.41 687.89,486.25 689.04,484.1 690.19,481.95 691.34,479.79 692.5,477.64 693.65,475.48 694.81,473.33 695.97,471.18 697.14,469.02 698.3,466.87 699.47,464.72 700.64,462.56 701.81,460.41 702.99,458.25 704.16,456.1 705.34,453.95 706.52,451.79 707.71,449.64 708.89,447.49 710.08,445.33 711.27,443.18 712.46,441.02 713.65,438.87 714.85,436.72 716.05,434.56 717.25,432.41 718.45,430.26 719.65,428.1 720.86,425.95 722.07,423.79 723.28,421.64 724.49,419.49 725.71,417.33 726.93,415.18 728.14,413.03 729.37,410.87 730.59,408.72 731.81,406.56 733.04,404.41 734.27,402.26 735.5,400.1 736.74,397.95 737.97,395.8 739.21,393.64 740.45,391.49 741.69,389.33 742.94,387.18 744.18,385.03 745.43,382.87 746.68,380.72 747.93,378.57 749.19,376.41 750.44,374.26 751.7,372.1 752.96,369.95 754.22,367.8 755.49,365.64 756.75,363.49 758.02,361.34 759.29,359.18 760.57,357.03 761.84,354.87 763.12,352.72 764.39,350.57 765.67,348.41 766.96,346.26 768.24,344.11 769.53,341.95 770.81,339.8 772.1,337.64 773.4,335.49 774.69,333.34 775.98,331.18 777.28,329.03 778.58,326.88 779.88,324.72 781.19,322.57 782.49,320.41 783.8,318.26 785.11,316.11 786.42,313.95 787.73,311.8 789.05,309.64 790.36,307.49 791.68,305.34 793,303.18 794.32,301.03 795.65,298.88 796.97,296.72 798.3,294.57 799.63,292.41 800.96,290.26 802.3,288.11 803.63,285.95 804.97,283.8 806.31,281.65 807.65,279.49 808.99,277.34 810.34,275.18 811.68,273.03 813.03,270.88 814.38,268.72 815.73,266.57 817.09,264.42 818.44,262.26 819.8,260.11 821.16,257.95 822.52,255.8 823.88,253.65 825.24,251.49 826.61,249.34 827.98,247.19 829.35,245.03 830.72,242.88 832.09,240.72 833.47,238.57 834.84,236.42 836.22,234.26 837.6,232.11 838.98,229.96 840.37,227.8 841.75,225.65 843.14,223.49 844.53,221.34 845.92,219.19 847.31,217.03 848.71,214.88 850.1,212.73 851.5,210.57 852.9,208.42 854.3,206.26 855.7,204.11 857.11,201.96 858.51,199.8 859.92,197.65 861.33,195.5 862.74,193.34 864.15,191.19 865.57,189.03 866.98,186.88 868.4,184.73 869.82,182.57 871.24,180.42 872.67,178.27 874.09,176.11 875.52,173.96 876.94,171.8 878.37,169.65 879.8,167.5 881.24,165.34 882.67,163.19 884.11,161.04 885.54,158.88 886.98,156.73 888.43,154.57 889.87,152.42 891.31,150.27 892.76,148.11 894.2,145.96 895.65,143.81 897.1,141.65 898.56,139.5 900.01,137.34 901.46,135.19 902.92,133.04 904.38,130.88 905.84,128.73 907.3,126.58 908.76,124.42 910.23,122.27 911.7,120.11 913.16,117.96 914.63,115.81 916.1,113.65 917.58,111.5 919.05,109.35 920.53,107.19 922,105.04 923.48,102.88 924.96,100.73 926.44,98.58 927.93,96.42 929.41,94.27 930.9,92.12 932.39,89.96 933.88,87.81 935.37,85.65 936.86,83.5 938.35,81.35 939.85,79.19 941.35,77.04 942.84,74.88"/></g></g><polyline stroke="#ff0000" stroke-width="1.6" points="561.5,74.5 499.5,148.5 451.8,201.5 420,241 421.5,275.5 455.2,327.5 480.5,368.5 500.7,401.5 520.5,429.5 533.5,464.5 529.5,481 508,494.5"/><polyline stroke="#0000ff" stroke-width="1.6" points="353.7,74.5 310.5,148.5 319.5,201.5 356,241 390,275.5 427,327.5 452,368.5 463.6,401.5 461.3,429.5 468,465 490.7,481 490.7,494.5"/><line stroke="#0000ff" stroke-width="3" x1="490.5" y1="481" x2="490.5" y2="495"/></g><g font-family="Liberation Sans, sans-serif"><text x="85" y="52" font-size="17.4" fill="#000" textLength="32.5" lengthAdjust="spacingAndGlyphs" stroke="#fff" stroke-width="0.4">AIRS</text><text x="127.5" y="52" font-size="17.4" fill="#000" textLength="47" lengthAdjust="spacingAndGlyphs" stroke="#fff" stroke-width="0.4">SkewT</text><text x="183.3" y="52" font-size="17.4" fill="#000" textLength="66.7" lengthAdjust="spacingAndGlyphs" stroke="#fff" stroke-width="0.4">Diagram</text><text x="257.2" y="52" font-size="17.4" fill="#000" textLength="212.6" lengthAdjust="spacingAndGlyphs" stroke="#fff" stroke-width="0.4">2010−09−06/15:27:59.67</text><text x="478.2" y="52" font-size="17.4" fill="#000" textLength="69.6" lengthAdjust="spacingAndGlyphs" stroke="#fff" stroke-width="0.4">(Lat/Lon</text><text x="557.2" y="52" font-size="17.4" fill="#000" textLength="112.3" lengthAdjust="spacingAndGlyphs" stroke="#fff" stroke-width="0.4">49.82/153.70</text><text x="677.2" y="52" font-size="17.4" fill="#000" textLength="33.6" lengthAdjust="spacingAndGlyphs" stroke="#fff" stroke-width="0.4">deg)</text><text x="114" y="66" font-size="11.6" fill="#ff0000" textLength="28" lengthAdjust="spacingAndGlyphs" stroke="#fff" stroke-width="0.1">−120</text><text x="181.6" y="66" font-size="11.6" fill="#ff0000" textLength="27.6" lengthAdjust="spacingAndGlyphs" stroke="#fff" stroke-width="0.1">−110</text><text x="249.4" y="66" font-size="11.6" fill="#ff0000" textLength="27.6" lengthAdjust="spacingAndGlyphs" stroke="#fff" stroke-width="0.1">−100</text><text x="324.1" y="66" font-size="11.6" fill="#ff0000" textLength="21.4" lengthAdjust="spacingAndGlyphs" stroke="#fff" stroke-width="0.1">−90</text><text x="392" y="66" font-size="11.6" fill="#ff0000" textLength="21.1" lengthAdjust="spacingAndGlyphs" stroke="#fff" stroke-width="0.1">−80</text><text x="459.8" y="66" font-size="11.6" fill="#ff0000" textLength="20.2" lengthAdjust="spacingAndGlyphs" stroke="#fff" stroke-width="0.1">−70</text><text x="526.4" y="66" font-size="11.6" fill="#ff0000" textLength="21.9" lengthAdjust="spacingAndGlyphs" stroke="#fff" stroke-width="0.1">−60</text><text x="594.7" y="66" font-size="11.6" fill="#ff0000" textLength="21.4" lengthAdjust="spacingAndGlyphs" stroke="#fff" stroke-width="0.1">−50</text><text x="662.5" y="66" font-size="11.6" fill="#ff0000" textLength="21.4" lengthAdjust="spacingAndGlyphs" stroke="#fff" stroke-width="0.1">−40</text><text x="48" y="75" font-size="11.6" fill="#000" textLength="19.5" lengthAdjust="spacingAndGlyphs" stroke="#fff" stroke-width="0.1">100</text><text x="48" y="202" font-size="11.6" fill="#000" textLength="19.5" lengthAdjust="spacingAndGlyphs" stroke="#fff" stroke-width="0.1">200</text><text x="48" y="276" font-size="11.6" fill="#000" textLength="19.5" lengthAdjust="spacingAndGlyphs" stroke="#fff" stroke-width="0.1">300</text><text x="48" y="328" font-size="11.6" fill="#000" textLength="19.5" lengthAdjust="spacingAndGlyphs" stroke="#fff" stroke-width="0.1">400</text><text x="48" y="369" font-size="11.6" fill="#000" textLength="19.5" lengthAdjust="spacingAndGlyphs" stroke="#fff" stroke-width="0.1">500</text><text x="48" y="402" font-size="11.6" fill="#000" textLength="19.5" lengthAdjust="spacingAndGlyphs" stroke="#fff" stroke-width="0.1">600</text><text x="48" y="430" font-size="11.6" fill="#000" textLength="19.5" lengthAdjust="spacingAndGlyphs" stroke="#fff" stroke-width="0.1">700</text><text x="48" y="454" font-size="11.6" fill="#000" textLength="19.5" lengthAdjust="spacingAndGlyphs" stroke="#fff" stroke-width="0.1">800</text><text x="48" y="476" font-size="11.6" fill="#000" textLength="19.5" lengthAdjust="spacingAndGlyphs" stroke="#fff" stroke-width="0.1">900</text><text x="43" y="495" font-size="11.6" fill="#000" textLength="24.5" lengthAdjust="spacingAndGlyphs" stroke="#fff" stroke-width="0.1">1000</text><text x="701" y="85" font-size="14.5" fill="#000" textLength="44.3" lengthAdjust="spacingAndGlyphs" stroke="#fff" stroke-width="0.12">TP:100</text><text x="700.8" y="100.69" font-size="14.5" fill="#000" textLength="50.4" lengthAdjust="spacingAndGlyphs" stroke="#fff" stroke-width="0.12">MW:N/A</text><text x="700.8" y="116.38" font-size="14.5" fill="#000" textLength="52" lengthAdjust="spacingAndGlyphs" stroke="#fff" stroke-width="0.12">FRZ:687</text><text x="700.3" y="132.07" font-size="14.5" fill="#000" textLength="55.7" lengthAdjust="spacingAndGlyphs" stroke="#fff" stroke-width="0.12">WB0:967</text><text x="700" y="147.76" font-size="14.5" fill="#000" textLength="59.2" lengthAdjust="spacingAndGlyphs" stroke="#fff" stroke-width="0.12">PW:12.50</text><text x="700" y="163.45" font-size="14.5" fill="#000" textLength="51.4" lengthAdjust="spacingAndGlyphs" stroke="#fff" stroke-width="0.12">RH:60.6</text><text x="699.6" y="179.14" font-size="14.5" fill="#000" textLength="64.6" lengthAdjust="spacingAndGlyphs" stroke="#fff" stroke-width="0.12">MAXT:22.6</text><text x="700" y="194.83" font-size="14.5" fill="#000" textLength="53.5" lengthAdjust="spacingAndGlyphs" stroke="#fff" stroke-width="0.12">TH:5463</text><text x="700" y="210.52" font-size="14.5" fill="#000" textLength="48.9" lengthAdjust="spacingAndGlyphs" stroke="#fff" stroke-width="0.12">L57:6.6</text><text x="700" y="226.21" font-size="14.5" fill="#000" textLength="52.2" lengthAdjust="spacingAndGlyphs" stroke="#fff" stroke-width="0.12">LCL:967</text><text x="701.7" y="241.9" font-size="14.5" fill="#000" textLength="42.5" lengthAdjust="spacingAndGlyphs" stroke="#fff" stroke-width="0.12">LI:12.0</text><text x="701.4" y="257.59" font-size="14.5" fill="#000" textLength="36.6" lengthAdjust="spacingAndGlyphs" stroke="#fff" stroke-width="0.12">SI:7.3</text><text x="700" y="273.28" font-size="14.5" fill="#000" textLength="46.9" lengthAdjust="spacingAndGlyphs" stroke="#fff" stroke-width="0.12">TT:40.2</text><text x="701" y="288.97" font-size="14.5" fill="#000" textLength="41.4" lengthAdjust="spacingAndGlyphs" stroke="#fff" stroke-width="0.12">KI:288</text><text x="700" y="304.66" font-size="14.5" fill="#000" textLength="49" lengthAdjust="spacingAndGlyphs" stroke="#fff" stroke-width="0.12">SW:N/A</text><text x="702" y="320.35" font-size="14.5" fill="#000" textLength="35.4" lengthAdjust="spacingAndGlyphs" stroke="#fff" stroke-width="0.12">EI:0.2</text><text x="709.8" y="336.04" font-size="14.5" fill="#000" textLength="48" lengthAdjust="spacingAndGlyphs" stroke="#fff" stroke-width="0.12">PARCEL</text><text x="701" y="351.73" font-size="14.5" fill="#000" textLength="45" lengthAdjust="spacingAndGlyphs" stroke="#fff" stroke-width="0.12">CAPE:0</text><text x="698.7" y="367.42" font-size="14.5" fill="#000" textLength="75" lengthAdjust="spacingAndGlyphs" stroke="#fff" stroke-width="0.12">CINH:18087</text><text x="700" y="383.11" font-size="14.5" fill="#000" textLength="52" lengthAdjust="spacingAndGlyphs" stroke="#fff" stroke-width="0.12">LCL:967</text><text x="699.6" y="398.8" font-size="14.5" fill="#000" textLength="58.4" lengthAdjust="spacingAndGlyphs" stroke="#fff" stroke-width="0.12">CAP:10.3</text><text x="700" y="414.49" font-size="14.5" fill="#000" textLength="54" lengthAdjust="spacingAndGlyphs" stroke="#fff" stroke-width="0.12">LFC:N/A</text><text x="701.5" y="430.18" font-size="14.5" fill="#000" textLength="44.1" lengthAdjust="spacingAndGlyphs" stroke="#fff" stroke-width="0.12">EL:N/A</text><text x="700.5" y="445.87" font-size="14.5" fill="#000" textLength="55.7" lengthAdjust="spacingAndGlyphs" stroke="#fff" stroke-width="0.12">MPL:N/A</text><text x="711.6" y="461.56" font-size="14.5" fill="#000" textLength="30.6" lengthAdjust="spacingAndGlyphs" stroke="#fff" stroke-width="0.12">WIND</text><text x="704" y="477.25" font-size="14.5" fill="#000" textLength="24" lengthAdjust="spacingAndGlyphs" stroke="#fff" stroke-width="0.12">NOT</text><text x="702" y="492.94" font-size="14.5" fill="#000" textLength="33" lengthAdjust="spacingAndGlyphs" stroke="#fff" stroke-width="0.12">AVAIL</text><rect x="699" y="331" width="9" height="1" fill="#000"/><rect x="759" y="331" width="9" height="1" fill="#000"/><rect x="701" y="457" width="9" height="1" fill="#000"/><rect x="744" y="457" width="8" height="1" fill="#000"/><text x="117.5" y="117" font-size="20.3" fill="#ff0000" textLength="72.2" lengthAdjust="spacingAndGlyphs" stroke="#fff" stroke-width="0.45">Ambient</text><text x="200" y="117" font-size="20.3" fill="#ff0000" textLength="20" lengthAdjust="spacingAndGlyphs" stroke="#fff" stroke-width="0.45">Air</text><text x="229.3" y="117" font-size="20.3" fill="#ff0000" textLength="51.2" lengthAdjust="spacingAndGlyphs" stroke="#fff" stroke-width="0.45">Temp</text><text x="118.3" y="138.5" font-size="20.3" fill="#0000ff" textLength="34.3" lengthAdjust="spacingAndGlyphs" stroke="#fff" stroke-width="0.45">Dew</text><text x="164.4" y="138.5" font-size="20.3" fill="#0000ff" textLength="44.9" lengthAdjust="spacingAndGlyphs" stroke="#fff" stroke-width="0.45">Point</text><text x="219.5" y="138.5" font-size="20.3" fill="#0000ff" textLength="48.5" lengthAdjust="spacingAndGlyphs" stroke="#fff" stroke-width="0.45">Temp</text><text x="88" y="517" font-size="11.6" fill="#ff0000" textLength="21" lengthAdjust="spacingAndGlyphs" stroke="#fff" stroke-width="0.1">−50</text><text x="155" y="517" font-size="11.6" fill="#ff0000" textLength="21.2" lengthAdjust="spacingAndGlyphs" stroke="#fff" stroke-width="0.1">−40</text><text x="223.2" y="517" font-size="11.6" fill="#ff0000" textLength="21.2" lengthAdjust="spacingAndGlyphs" stroke="#fff" stroke-width="0.1">−30</text><text x="291" y="517" font-size="11.6" fill="#ff0000" textLength="21.2" lengthAdjust="spacingAndGlyphs" stroke="#fff" stroke-width="0.1">−20</text><text x="359" y="517" font-size="11.6" fill="#ff0000" textLength="21" lengthAdjust="spacingAndGlyphs" stroke="#fff" stroke-width="0.1">−10</text><text x="434" y="517" font-size="11.6" fill="#ff0000" textLength="6.5" lengthAdjust="spacingAndGlyphs" stroke="#fff" stroke-width="0.1">0</text><text x="498.3" y="517" font-size="11.6" fill="#ff0000" textLength="12.4" lengthAdjust="spacingAndGlyphs" stroke="#fff" stroke-width="0.1">10</text><text x="565.6" y="517" font-size="11.6" fill="#ff0000" textLength="13.8" lengthAdjust="spacingAndGlyphs" stroke="#fff" stroke-width="0.1">20</text><text x="633.9" y="517" font-size="11.6" fill="#ff0000" textLength="12.7" lengthAdjust="spacingAndGlyphs" stroke="#fff" stroke-width="0.1">30</text><text x="677" y="517" font-size="11.6" fill="#ff0000" textLength="21" lengthAdjust="spacingAndGlyphs" stroke="#fff" stroke-width="0.1">T(C)</text><text x="674.3" y="527" font-size="11.6" fill="rgb(80,0,140)" textLength="34" lengthAdjust="spacingAndGlyphs" stroke="#fff" stroke-width="0.1">(g/kg)</text><text transform="translate(82,331.5) rotate(-90)" font-size="14.5" fill="#000" textLength="66.5" lengthAdjust="spacingAndGlyphs">PRESSURE</text><text transform="translate(82,256) rotate(-90)" font-size="14.5" fill="#000" textLength="28.5" lengthAdjust="spacingAndGlyphs">(MB)</text><text transform="translate(140.66,529.8) rotate(-45)" font-size="11.6" fill="rgb(80,0,140)" textLength="11.8" lengthAdjust="spacingAndGlyphs">0.1</text><text transform="translate(186.76,531) rotate(-45)" font-size="11.6" fill="rgb(80,0,140)" textLength="14.63" lengthAdjust="spacingAndGlyphs">0.2</text><text transform="translate(252.36,530.5) rotate(-45)" font-size="11.6" fill="rgb(80,0,140)" textLength="13.21" lengthAdjust="spacingAndGlyphs">0.5</text><text transform="translate(308.05,527.61) rotate(-45)" font-size="11.6" fill="rgb(80,0,140)">1</text><text transform="translate(339.36,530) rotate(-45)" font-size="11.6" fill="rgb(80,0,140)" textLength="11.8" lengthAdjust="spacingAndGlyphs">1.5</text><text transform="translate(366.05,528.31) rotate(-45)" font-size="11.6" fill="rgb(80,0,140)">2</text><text transform="translate(401.05,528.11) rotate(-45)" font-size="11.6" fill="rgb(80,0,140)">3</text><text transform="translate(428.75,528.11) rotate(-45)" font-size="11.6" fill="rgb(80,0,140)">4</text><text transform="translate(466.25,528.11) rotate(-45)" font-size="11.6" fill="rgb(80,0,140)">6</text><text transform="translate(494.35,528.11) rotate(-45)" font-size="11.6" fill="rgb(80,0,140)">8</text><text transform="translate(516.41,528.75) rotate(-45)" font-size="11.6" fill="rgb(80,0,140)" textLength="8.26" lengthAdjust="spacingAndGlyphs">10</text><text transform="translate(535.56,529) rotate(-45)" font-size="11.6" fill="rgb(80,0,140)" textLength="8.97" lengthAdjust="spacingAndGlyphs">12</text><text transform="translate(558.51,528.75) rotate(-45)" font-size="11.6" fill="rgb(80,0,140)" textLength="8.26" lengthAdjust="spacingAndGlyphs">15</text><text transform="translate(588.26,529.7) rotate(-45)" font-size="11.6" fill="rgb(80,0,140)" textLength="10.95" lengthAdjust="spacingAndGlyphs">20</text><text transform="translate(613.21,529.25) rotate(-45)" font-size="11.6" fill="rgb(80,0,140)" textLength="9.68" lengthAdjust="spacingAndGlyphs">25</text><text transform="translate(633.66,529.4) rotate(-45)" font-size="11.6" fill="rgb(80,0,140)" textLength="10.1" lengthAdjust="spacingAndGlyphs">30</text><text transform="translate(668.66,528.8) rotate(-45)" font-size="11.6" fill="rgb(80,0,140)" textLength="8.97" lengthAdjust="spacingAndGlyphs">40</text></g></svg></body></html>
